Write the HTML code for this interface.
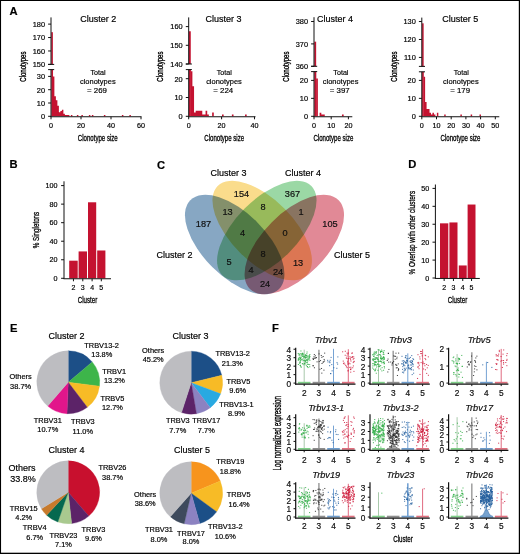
<!DOCTYPE html>
<html><head><meta charset="utf-8"><style>
html,body{margin:0;padding:0;background:#fff;}
svg{display:block;}
text{font-family:"Liberation Sans", sans-serif;stroke:currentColor;stroke-width:0.18px;paint-order:stroke;}
</style></head><body>
<svg width="520" height="554" viewBox="0 0 520 554">
<rect x="0" y="0" width="520" height="554" fill="#fff"/>
<rect x="51.30" y="69.60" width="1.73" height="46.70" fill="#c41230"/>
<rect x="51.30" y="32.17" width="1.58" height="32.23" fill="#c41230"/>
<path d="M52.88,116.30 V76.40 H54.38 V96.35 H55.88 V100.34 H57.38 V105.66 H58.88 V112.31 H60.38 V110.98 H61.88 V109.65 H63.38 V113.64 H64.88 V114.97 H66.38 V114.97 H67.88 V114.97 H69.38 V116.30 H70.88 V114.97 H72.38 V116.30 H73.88 V116.30 H75.38 V116.30 H76.88 V114.97 H78.38 V116.30 H79.88 V116.30 H81.38 V114.97 H82.88 V116.30 H84.38 V116.30 H85.88 V116.30 H87.38 V116.30 H88.88 V114.97 H90.38 V116.30 H91.88 V114.97 H93.38 V116.30 H94.88 V116.30 H96.38 V116.30 H97.88 V116.30 H99.38 V116.30 H100.88 V116.30 H102.38 V116.30 H103.88 V114.97 H105.38 V116.30 H106.88 V116.30 H108.38 V116.30 H109.88 V116.30 H111.38 V116.30 H112.88 V116.30 H114.38 V116.30 H115.88 V116.30 H117.38 V116.30 H118.88 V116.30 H120.38 V116.30 H121.88 V114.97 H123.38 V116.30 H124.88 V116.30 H126.38 V116.30 H127.88 V116.30 H129.38 V114.97 H130.88 V116.30 Z" fill="#c41230"/>
<line x1="51.00" y1="116.75" x2="51.00" y2="69.60" stroke="#111111" stroke-width="1.0"/>
<line x1="48.10" y1="69.60" x2="54.20" y2="69.60" stroke="#111111" stroke-width="1.0"/>
<line x1="51.00" y1="64.40" x2="51.00" y2="17.40" stroke="#111111" stroke-width="1.0"/>
<line x1="48.10" y1="64.40" x2="54.20" y2="64.40" stroke="#111111" stroke-width="1.0"/>
<line x1="50.50" y1="116.75" x2="141.50" y2="116.75" stroke="#111111" stroke-width="1.0"/>
<line x1="51.00" y1="116.70" x2="51.00" y2="119.30" stroke="#111111" stroke-width="1.0"/>
<text x="51.00" y="127.56" font-size="7.2" text-anchor="middle">0</text>
<line x1="81.00" y1="116.70" x2="81.00" y2="119.30" stroke="#111111" stroke-width="1.0"/>
<text x="81.00" y="127.56" font-size="7.2" text-anchor="middle">20</text>
<line x1="111.00" y1="116.70" x2="111.00" y2="119.30" stroke="#111111" stroke-width="1.0"/>
<text x="111.00" y="127.56" font-size="7.2" text-anchor="middle">40</text>
<line x1="141.00" y1="116.70" x2="141.00" y2="119.30" stroke="#111111" stroke-width="1.0"/>
<text x="141.00" y="127.56" font-size="7.2" text-anchor="middle">60</text>
<line x1="48.10" y1="116.30" x2="51.00" y2="116.30" stroke="#111111" stroke-width="1.0"/>
<text x="45.00" y="119.13" font-size="7.4" text-anchor="end">0</text>
<line x1="48.10" y1="103.00" x2="51.00" y2="103.00" stroke="#111111" stroke-width="1.0"/>
<text x="45.00" y="105.83" font-size="7.4" text-anchor="end">10</text>
<line x1="48.10" y1="89.70" x2="51.00" y2="89.70" stroke="#111111" stroke-width="1.0"/>
<text x="45.00" y="92.53" font-size="7.4" text-anchor="end">20</text>
<line x1="48.10" y1="76.40" x2="51.00" y2="76.40" stroke="#111111" stroke-width="1.0"/>
<text x="45.00" y="79.23" font-size="7.4" text-anchor="end">30</text>
<line x1="48.10" y1="64.40" x2="51.00" y2="64.40" stroke="#111111" stroke-width="1.0"/>
<text x="45.00" y="67.23" font-size="7.4" text-anchor="end">150</text>
<line x1="48.10" y1="50.97" x2="51.00" y2="50.97" stroke="#111111" stroke-width="1.0"/>
<text x="45.00" y="53.80" font-size="7.4" text-anchor="end">160</text>
<line x1="48.10" y1="37.54" x2="51.00" y2="37.54" stroke="#111111" stroke-width="1.0"/>
<text x="45.00" y="40.37" font-size="7.4" text-anchor="end">170</text>
<line x1="48.10" y1="24.11" x2="51.00" y2="24.11" stroke="#111111" stroke-width="1.0"/>
<text x="45.00" y="26.94" font-size="7.4" text-anchor="end">180</text>
<text x="98.30" y="22.20" font-size="9.0" text-anchor="middle">Cluster 2</text>
<text x="98.10" y="74.50" font-size="7.9" text-anchor="middle" textLength="15.10" lengthAdjust="spacingAndGlyphs">Total</text>
<text x="97.80" y="83.50" font-size="7.9" text-anchor="middle" textLength="35.70" lengthAdjust="spacingAndGlyphs">clonotypes</text>
<text x="97.00" y="93.10" font-size="7.9" text-anchor="middle" textLength="19.90" lengthAdjust="spacingAndGlyphs">= 269</text>
<text x="23.20" y="69.55" font-size="8.3" text-anchor="middle" textLength="30.10" lengthAdjust="spacingAndGlyphs" transform="rotate(-90 23.20 66.60)" style="stroke-width:0.35px">Clonotypes</text>
<text x="97.80" y="140.62" font-size="8.8" text-anchor="middle" textLength="39.90" lengthAdjust="spacingAndGlyphs" style="stroke-width:0.3px">Clonotype size</text>
<rect x="189.00" y="69.60" width="1.91" height="46.70" fill="#c41230"/>
<rect x="189.00" y="31.27" width="1.76" height="32.73" fill="#c41230"/>
<path d="M190.76,116.30 V71.18 H192.40 V86.22 H194.05 V112.54 H195.69 V110.66 H197.34 V110.66 H198.98 V110.66 H200.63 V110.66 H202.27 V114.42 H203.92 V114.42 H205.56 V110.66 H207.21 V114.42 H208.85 V116.30 H210.50 V116.30 H212.14 V112.54 H213.79 V116.30 H215.43 V116.30 H217.08 V116.30 H218.72 V116.30 H220.37 V116.30 H222.01 V114.42 H223.66 V116.30 H225.30 V116.30 H226.95 V116.30 H228.59 V116.30 H230.24 V116.30 H231.88 V114.42 H233.53 V116.30 H235.17 V116.30 H236.82 V116.30 H238.46 V116.30 H240.11 V116.30 H241.75 V116.30 H243.40 V116.30 H245.04 V114.42 H246.69 V116.30 Z" fill="#c41230"/>
<line x1="188.70" y1="116.75" x2="188.70" y2="69.60" stroke="#111111" stroke-width="1.0"/>
<line x1="185.80" y1="69.60" x2="191.90" y2="69.60" stroke="#111111" stroke-width="1.0"/>
<line x1="188.70" y1="64.00" x2="188.70" y2="17.40" stroke="#111111" stroke-width="1.0"/>
<line x1="185.80" y1="64.00" x2="191.90" y2="64.00" stroke="#111111" stroke-width="1.0"/>
<line x1="188.20" y1="116.75" x2="255.50" y2="116.75" stroke="#111111" stroke-width="1.0"/>
<line x1="188.70" y1="116.70" x2="188.70" y2="119.30" stroke="#111111" stroke-width="1.0"/>
<text x="188.70" y="127.56" font-size="7.2" text-anchor="middle">0</text>
<line x1="221.60" y1="116.70" x2="221.60" y2="119.30" stroke="#111111" stroke-width="1.0"/>
<text x="221.60" y="127.56" font-size="7.2" text-anchor="middle">20</text>
<line x1="254.50" y1="116.70" x2="254.50" y2="119.30" stroke="#111111" stroke-width="1.0"/>
<text x="254.50" y="127.56" font-size="7.2" text-anchor="middle">40</text>
<line x1="185.80" y1="116.30" x2="188.70" y2="116.30" stroke="#111111" stroke-width="1.0"/>
<text x="182.70" y="119.13" font-size="7.4" text-anchor="end">0</text>
<line x1="185.80" y1="97.50" x2="188.70" y2="97.50" stroke="#111111" stroke-width="1.0"/>
<text x="182.70" y="100.33" font-size="7.4" text-anchor="end">10</text>
<line x1="185.80" y1="78.70" x2="188.70" y2="78.70" stroke="#111111" stroke-width="1.0"/>
<text x="182.70" y="81.53" font-size="7.4" text-anchor="end">20</text>
<line x1="185.80" y1="64.00" x2="188.70" y2="64.00" stroke="#111111" stroke-width="1.0"/>
<text x="182.70" y="66.83" font-size="7.4" text-anchor="end">140</text>
<line x1="185.80" y1="45.30" x2="188.70" y2="45.30" stroke="#111111" stroke-width="1.0"/>
<text x="182.70" y="48.13" font-size="7.4" text-anchor="end">150</text>
<line x1="185.80" y1="26.60" x2="188.70" y2="26.60" stroke="#111111" stroke-width="1.0"/>
<text x="182.70" y="29.43" font-size="7.4" text-anchor="end">160</text>
<text x="223.60" y="22.20" font-size="9.0" text-anchor="middle">Cluster 3</text>
<text x="224.30" y="74.50" font-size="7.9" text-anchor="middle" textLength="15.10" lengthAdjust="spacingAndGlyphs">Total</text>
<text x="224.00" y="83.50" font-size="7.9" text-anchor="middle" textLength="35.70" lengthAdjust="spacingAndGlyphs">clonotypes</text>
<text x="223.20" y="93.10" font-size="7.9" text-anchor="middle" textLength="19.90" lengthAdjust="spacingAndGlyphs">= 224</text>
<text x="160.10" y="69.55" font-size="8.3" text-anchor="middle" textLength="30.10" lengthAdjust="spacingAndGlyphs" transform="rotate(-90 160.10 66.60)" style="stroke-width:0.35px">Clonotypes</text>
<text x="224.20" y="140.62" font-size="8.8" text-anchor="middle" textLength="39.90" lengthAdjust="spacingAndGlyphs" style="stroke-width:0.3px">Clonotype size</text>
<rect x="314.30" y="71.60" width="2.00" height="44.70" fill="#c41230"/>
<rect x="314.30" y="41.66" width="1.85" height="24.64" fill="#c41230"/>
<path d="M316.15,116.30 V78.60 H317.87 V116.30 H319.59 V112.71 H321.31 V114.50 H323.03 V114.50 H324.75 V116.30 H326.47 V116.30 H328.19 V116.30 H329.91 V116.30 H331.63 V116.30 H333.35 V116.30 H335.07 V116.30 H336.79 V116.30 H338.51 V116.30 H340.23 V116.30 H341.95 V114.50 H343.67 V116.30 Z" fill="#c41230"/>
<line x1="314.00" y1="116.75" x2="314.00" y2="71.60" stroke="#111111" stroke-width="1.0"/>
<line x1="311.10" y1="71.60" x2="317.20" y2="71.60" stroke="#111111" stroke-width="1.0"/>
<line x1="314.00" y1="66.30" x2="314.00" y2="17.20" stroke="#111111" stroke-width="1.0"/>
<line x1="311.10" y1="66.30" x2="317.20" y2="66.30" stroke="#111111" stroke-width="1.0"/>
<line x1="313.50" y1="116.75" x2="352.30" y2="116.75" stroke="#111111" stroke-width="1.0"/>
<line x1="314.00" y1="116.70" x2="314.00" y2="119.30" stroke="#111111" stroke-width="1.0"/>
<text x="314.00" y="127.56" font-size="7.2" text-anchor="middle">0</text>
<line x1="331.20" y1="116.70" x2="331.20" y2="119.30" stroke="#111111" stroke-width="1.0"/>
<text x="331.20" y="127.56" font-size="7.2" text-anchor="middle">10</text>
<line x1="348.40" y1="116.70" x2="348.40" y2="119.30" stroke="#111111" stroke-width="1.0"/>
<text x="348.40" y="127.56" font-size="7.2" text-anchor="middle">20</text>
<line x1="311.10" y1="116.30" x2="314.00" y2="116.30" stroke="#111111" stroke-width="1.0"/>
<text x="308.00" y="119.13" font-size="7.4" text-anchor="end">0</text>
<line x1="311.10" y1="98.35" x2="314.00" y2="98.35" stroke="#111111" stroke-width="1.0"/>
<text x="308.00" y="101.18" font-size="7.4" text-anchor="end">10</text>
<line x1="311.10" y1="80.40" x2="314.00" y2="80.40" stroke="#111111" stroke-width="1.0"/>
<text x="308.00" y="83.23" font-size="7.4" text-anchor="end">20</text>
<line x1="311.10" y1="66.30" x2="314.00" y2="66.30" stroke="#111111" stroke-width="1.0"/>
<text x="308.00" y="69.13" font-size="7.4" text-anchor="end">360</text>
<line x1="311.10" y1="43.90" x2="314.00" y2="43.90" stroke="#111111" stroke-width="1.0"/>
<text x="308.00" y="46.73" font-size="7.4" text-anchor="end">370</text>
<line x1="311.10" y1="21.50" x2="314.00" y2="21.50" stroke="#111111" stroke-width="1.0"/>
<text x="308.00" y="24.33" font-size="7.4" text-anchor="end">380</text>
<text x="334.90" y="22.20" font-size="9.0" text-anchor="middle">Cluster 4</text>
<text x="340.90" y="74.50" font-size="7.9" text-anchor="middle" textLength="15.10" lengthAdjust="spacingAndGlyphs">Total</text>
<text x="340.60" y="83.50" font-size="7.9" text-anchor="middle" textLength="35.70" lengthAdjust="spacingAndGlyphs">clonotypes</text>
<text x="339.80" y="93.10" font-size="7.9" text-anchor="middle" textLength="19.90" lengthAdjust="spacingAndGlyphs">= 397</text>
<text x="285.70" y="69.55" font-size="8.3" text-anchor="middle" textLength="30.10" lengthAdjust="spacingAndGlyphs" transform="rotate(-90 285.70 66.60)" style="stroke-width:0.35px">Clonotypes</text>
<text x="333.40" y="140.62" font-size="8.8" text-anchor="middle" textLength="39.90" lengthAdjust="spacingAndGlyphs" style="stroke-width:0.3px">Clonotype size</text>
<rect x="422.10" y="71.80" width="1.69" height="44.50" fill="#c41230"/>
<rect x="422.10" y="23.32" width="1.54" height="43.08" fill="#c41230"/>
<path d="M423.64,116.30 V76.81 H425.11 V101.94 H426.58 V109.12 H428.05 V109.12 H429.52 V112.71 H430.99 V114.50 H432.46 V112.71 H433.93 V114.50 H435.40 V116.30 H436.87 V112.71 H438.34 V116.30 H439.81 V116.30 H441.28 V116.30 H442.75 V116.30 H444.22 V114.50 H445.69 V116.30 H447.16 V116.30 H448.63 V116.30 H450.10 V116.30 H451.57 V116.30 H453.04 V116.30 H454.51 V116.30 H455.98 V116.30 H457.45 V116.30 H458.92 V116.30 H460.39 V114.50 H461.86 V116.30 H463.33 V116.30 H464.80 V116.30 H466.27 V116.30 H467.74 V116.30 H469.21 V116.30 H470.68 V114.50 H472.15 V116.30 H473.62 V116.30 H475.09 V116.30 H476.56 V116.30 H478.03 V116.30 H479.50 V114.50 H480.97 V116.30 Z" fill="#c41230"/>
<line x1="421.80" y1="116.75" x2="421.80" y2="71.80" stroke="#111111" stroke-width="1.0"/>
<line x1="418.90" y1="71.80" x2="425.00" y2="71.80" stroke="#111111" stroke-width="1.0"/>
<line x1="421.80" y1="66.40" x2="421.80" y2="17.60" stroke="#111111" stroke-width="1.0"/>
<line x1="418.90" y1="66.40" x2="425.00" y2="66.40" stroke="#111111" stroke-width="1.0"/>
<line x1="421.30" y1="116.75" x2="499.30" y2="116.75" stroke="#111111" stroke-width="1.0"/>
<line x1="421.80" y1="116.70" x2="421.80" y2="119.30" stroke="#111111" stroke-width="1.0"/>
<text x="421.80" y="127.56" font-size="7.2" text-anchor="middle">0</text>
<line x1="436.50" y1="116.70" x2="436.50" y2="119.30" stroke="#111111" stroke-width="1.0"/>
<text x="436.50" y="127.56" font-size="7.2" text-anchor="middle">10</text>
<line x1="451.20" y1="116.70" x2="451.20" y2="119.30" stroke="#111111" stroke-width="1.0"/>
<text x="451.20" y="127.56" font-size="7.2" text-anchor="middle">20</text>
<line x1="465.90" y1="116.70" x2="465.90" y2="119.30" stroke="#111111" stroke-width="1.0"/>
<text x="465.90" y="127.56" font-size="7.2" text-anchor="middle">30</text>
<line x1="480.60" y1="116.70" x2="480.60" y2="119.30" stroke="#111111" stroke-width="1.0"/>
<text x="480.60" y="127.56" font-size="7.2" text-anchor="middle">40</text>
<line x1="495.30" y1="116.70" x2="495.30" y2="119.30" stroke="#111111" stroke-width="1.0"/>
<text x="495.30" y="127.56" font-size="7.2" text-anchor="middle">50</text>
<line x1="418.90" y1="116.30" x2="421.80" y2="116.30" stroke="#111111" stroke-width="1.0"/>
<text x="415.80" y="119.13" font-size="7.4" text-anchor="end">0</text>
<line x1="418.90" y1="98.35" x2="421.80" y2="98.35" stroke="#111111" stroke-width="1.0"/>
<text x="415.80" y="101.18" font-size="7.4" text-anchor="end">10</text>
<line x1="418.90" y1="80.40" x2="421.80" y2="80.40" stroke="#111111" stroke-width="1.0"/>
<text x="415.80" y="83.23" font-size="7.4" text-anchor="end">20</text>
<line x1="418.90" y1="57.43" x2="421.80" y2="57.43" stroke="#111111" stroke-width="1.0"/>
<text x="415.80" y="60.25" font-size="7.4" text-anchor="end">110</text>
<line x1="418.90" y1="39.48" x2="421.80" y2="39.48" stroke="#111111" stroke-width="1.0"/>
<text x="415.80" y="42.30" font-size="7.4" text-anchor="end">120</text>
<line x1="418.90" y1="21.53" x2="421.80" y2="21.53" stroke="#111111" stroke-width="1.0"/>
<text x="415.80" y="24.35" font-size="7.4" text-anchor="end">130</text>
<text x="460.30" y="22.20" font-size="9.0" text-anchor="middle">Cluster 5</text>
<text x="461.20" y="74.50" font-size="7.9" text-anchor="middle" textLength="15.10" lengthAdjust="spacingAndGlyphs">Total</text>
<text x="460.90" y="83.50" font-size="7.9" text-anchor="middle" textLength="35.70" lengthAdjust="spacingAndGlyphs">clonotypes</text>
<text x="460.10" y="93.10" font-size="7.9" text-anchor="middle" textLength="19.90" lengthAdjust="spacingAndGlyphs">= 179</text>
<text x="394.10" y="69.55" font-size="8.3" text-anchor="middle" textLength="30.10" lengthAdjust="spacingAndGlyphs" transform="rotate(-90 394.10 66.60)" style="stroke-width:0.35px">Clonotypes</text>
<text x="460.50" y="140.62" font-size="8.8" text-anchor="middle" textLength="39.90" lengthAdjust="spacingAndGlyphs" style="stroke-width:0.3px">Clonotype size</text>
<text x="9.40" y="14.98" font-size="11.2" text-anchor="start" font-weight="bold" fill="#000">A</text>
<text x="9.50" y="168.48" font-size="11.2" text-anchor="start" font-weight="bold" fill="#000">B</text>
<text x="157.00" y="168.58" font-size="11.2" text-anchor="start" font-weight="bold" fill="#000">C</text>
<text x="408.30" y="168.48" font-size="11.2" text-anchor="start" font-weight="bold" fill="#000">D</text>
<text x="10.10" y="332.18" font-size="11.2" text-anchor="start" font-weight="bold" fill="#000">E</text>
<text x="272.10" y="331.98" font-size="11.2" text-anchor="start" font-weight="bold" fill="#000">F</text>
<rect x="69.20" y="260.69" width="8.50" height="17.61" fill="#c41230"/>
<rect x="78.60" y="251.42" width="8.40" height="26.88" fill="#c41230"/>
<rect x="88.00" y="202.29" width="8.20" height="76.01" fill="#c41230"/>
<rect x="97.20" y="250.49" width="8.20" height="27.81" fill="#c41230"/>
<line x1="64.00" y1="278.75" x2="64.00" y2="181.30" stroke="#111111" stroke-width="1.0"/>
<line x1="63.50" y1="278.75" x2="111.00" y2="278.75" stroke="#111111" stroke-width="1.0"/>
<line x1="61.10" y1="278.30" x2="64.00" y2="278.30" stroke="#111111" stroke-width="1.0"/>
<text x="57.60" y="280.86" font-size="7.2" text-anchor="end">0</text>
<line x1="61.10" y1="259.76" x2="64.00" y2="259.76" stroke="#111111" stroke-width="1.0"/>
<text x="57.60" y="262.32" font-size="7.2" text-anchor="end">20</text>
<line x1="61.10" y1="241.22" x2="64.00" y2="241.22" stroke="#111111" stroke-width="1.0"/>
<text x="57.60" y="243.78" font-size="7.2" text-anchor="end">40</text>
<line x1="61.10" y1="222.68" x2="64.00" y2="222.68" stroke="#111111" stroke-width="1.0"/>
<text x="57.60" y="225.24" font-size="7.2" text-anchor="end">60</text>
<line x1="61.10" y1="204.14" x2="64.00" y2="204.14" stroke="#111111" stroke-width="1.0"/>
<text x="57.60" y="206.70" font-size="7.2" text-anchor="end">80</text>
<line x1="61.10" y1="185.60" x2="64.00" y2="185.60" stroke="#111111" stroke-width="1.0"/>
<text x="57.60" y="188.16" font-size="7.2" text-anchor="end">100</text>
<line x1="73.45" y1="278.70" x2="73.45" y2="281.30" stroke="#111111" stroke-width="1.0"/>
<text x="73.45" y="290.19" font-size="7.0" text-anchor="middle">2</text>
<line x1="82.80" y1="278.70" x2="82.80" y2="281.30" stroke="#111111" stroke-width="1.0"/>
<text x="82.80" y="290.19" font-size="7.0" text-anchor="middle">3</text>
<line x1="92.10" y1="278.70" x2="92.10" y2="281.30" stroke="#111111" stroke-width="1.0"/>
<text x="92.10" y="290.19" font-size="7.0" text-anchor="middle">4</text>
<line x1="101.30" y1="278.70" x2="101.30" y2="281.30" stroke="#111111" stroke-width="1.0"/>
<text x="101.30" y="290.19" font-size="7.0" text-anchor="middle">5</text>
<text x="87.50" y="302.64" font-size="9.4" text-anchor="middle" textLength="19.60" lengthAdjust="spacingAndGlyphs" style="stroke-width:0.3px">Cluster</text>
<text x="36.25" y="233.19" font-size="9.0" text-anchor="middle" textLength="36.40" lengthAdjust="spacingAndGlyphs" transform="rotate(-90 36.25 230.00)" style="stroke-width:0.3px">% Singletons</text>
<rect x="440.00" y="223.34" width="8.30" height="54.66" fill="#c41230"/>
<rect x="449.40" y="222.45" width="8.10" height="55.55" fill="#c41230"/>
<rect x="458.80" y="265.46" width="7.90" height="12.54" fill="#c41230"/>
<rect x="467.60" y="204.53" width="7.90" height="73.47" fill="#c41230"/>
<line x1="435.40" y1="278.45" x2="435.40" y2="184.50" stroke="#111111" stroke-width="1.0"/>
<line x1="434.90" y1="278.45" x2="479.80" y2="278.45" stroke="#111111" stroke-width="1.0"/>
<line x1="432.50" y1="278.00" x2="435.40" y2="278.00" stroke="#111111" stroke-width="1.0"/>
<text x="429.20" y="280.56" font-size="7.2" text-anchor="end">0</text>
<line x1="432.50" y1="260.08" x2="435.40" y2="260.08" stroke="#111111" stroke-width="1.0"/>
<text x="429.20" y="262.64" font-size="7.2" text-anchor="end">10</text>
<line x1="432.50" y1="242.16" x2="435.40" y2="242.16" stroke="#111111" stroke-width="1.0"/>
<text x="429.20" y="244.72" font-size="7.2" text-anchor="end">20</text>
<line x1="432.50" y1="224.24" x2="435.40" y2="224.24" stroke="#111111" stroke-width="1.0"/>
<text x="429.20" y="226.80" font-size="7.2" text-anchor="end">30</text>
<line x1="432.50" y1="206.32" x2="435.40" y2="206.32" stroke="#111111" stroke-width="1.0"/>
<text x="429.20" y="208.88" font-size="7.2" text-anchor="end">40</text>
<line x1="432.50" y1="188.40" x2="435.40" y2="188.40" stroke="#111111" stroke-width="1.0"/>
<text x="429.20" y="190.96" font-size="7.2" text-anchor="end">50</text>
<line x1="444.15" y1="278.40" x2="444.15" y2="281.00" stroke="#111111" stroke-width="1.0"/>
<text x="444.15" y="290.29" font-size="7.0" text-anchor="middle">2</text>
<line x1="453.45" y1="278.40" x2="453.45" y2="281.00" stroke="#111111" stroke-width="1.0"/>
<text x="453.45" y="290.29" font-size="7.0" text-anchor="middle">3</text>
<line x1="462.75" y1="278.40" x2="462.75" y2="281.00" stroke="#111111" stroke-width="1.0"/>
<text x="462.75" y="290.29" font-size="7.0" text-anchor="middle">4</text>
<line x1="471.55" y1="278.40" x2="471.55" y2="281.00" stroke="#111111" stroke-width="1.0"/>
<text x="471.55" y="290.29" font-size="7.0" text-anchor="middle">5</text>
<text x="457.50" y="302.64" font-size="9.4" text-anchor="middle" textLength="19.60" lengthAdjust="spacingAndGlyphs" style="stroke-width:0.3px">Cluster</text>
<text x="411.40" y="235.84" font-size="9.0" text-anchor="middle" textLength="83.50" lengthAdjust="spacingAndGlyphs" transform="rotate(-90 411.40 232.65)" style="stroke-width:0.3px">% Overlap with other clusters</text>
<g style="isolation:isolate">
<ellipse cx="234.7" cy="244.6" rx="62.75" ry="31.76" fill="#87a7c3" transform="rotate(45 234.7 244.6)" style="mix-blend-mode:multiply"/>
<ellipse cx="262.2" cy="230.6" rx="63.0" ry="31.3" fill="#fadc8c" transform="rotate(45 262.2 230.6)" style="mix-blend-mode:multiply"/>
<ellipse cx="266.8" cy="230.6" rx="63.0" ry="31.3" fill="#9bd8a5" transform="rotate(-45 266.8 230.6)" style="mix-blend-mode:multiply"/>
<ellipse cx="294.3" cy="244.6" rx="62.75" ry="31.76" fill="#e18996" transform="rotate(-45 294.3 244.6)" style="mix-blend-mode:multiply"/>
</g>
<text x="241.50" y="197.27" font-size="9.2" text-anchor="middle" fill="#111">154</text>
<text x="292.50" y="197.27" font-size="9.2" text-anchor="middle" fill="#111">367</text>
<text x="227.50" y="214.77" font-size="9.2" text-anchor="middle" fill="#111">13</text>
<text x="263.00" y="209.77" font-size="9.2" text-anchor="middle" fill="#111">8</text>
<text x="301.00" y="214.77" font-size="9.2" text-anchor="middle" fill="#111">1</text>
<text x="203.50" y="227.27" font-size="9.2" text-anchor="middle" fill="#111">187</text>
<text x="330.00" y="227.27" font-size="9.2" text-anchor="middle" fill="#111">105</text>
<text x="242.50" y="235.77" font-size="9.2" text-anchor="middle" fill="#111">4</text>
<text x="285.00" y="235.77" font-size="9.2" text-anchor="middle" fill="#111">0</text>
<text x="263.00" y="257.27" font-size="9.2" text-anchor="middle" fill="#111">8</text>
<text x="229.00" y="264.77" font-size="9.2" text-anchor="middle" fill="#111">5</text>
<text x="298.00" y="266.27" font-size="9.2" text-anchor="middle" fill="#111">13</text>
<text x="251.00" y="273.27" font-size="9.2" text-anchor="middle" fill="#111">4</text>
<text x="278.00" y="274.77" font-size="9.2" text-anchor="middle" fill="#111">24</text>
<text x="265.00" y="286.77" font-size="9.2" text-anchor="middle" fill="#111">24</text>
<text x="228.50" y="175.69" font-size="9.0" text-anchor="middle">Cluster 3</text>
<text x="303.00" y="175.69" font-size="9.0" text-anchor="middle">Cluster 4</text>
<text x="174.50" y="258.19" font-size="9.0" text-anchor="middle">Cluster 2</text>
<text x="352.00" y="258.19" font-size="9.0" text-anchor="middle">Cluster 5</text>
<path d="M68.25,382.25 L68.25,350.80 A31.45,31.45 0 0 1 92.21,361.88 Z" fill="#1c4f87" stroke="#1c4f87" stroke-width="0.35" stroke-linejoin="round"/>
<path d="M68.25,382.25 L92.21,361.88 A31.45,31.45 0 0 1 99.46,386.14 Z" fill="#3db54a" stroke="#3db54a" stroke-width="0.35" stroke-linejoin="round"/>
<path d="M68.25,382.25 L99.46,386.14 A31.45,31.45 0 0 1 87.27,407.29 Z" fill="#f7bb26" stroke="#f7bb26" stroke-width="0.35" stroke-linejoin="round"/>
<path d="M68.25,382.25 L87.27,407.29 A31.45,31.45 0 0 1 66.97,413.67 Z" fill="#5c2368" stroke="#5c2368" stroke-width="0.35" stroke-linejoin="round"/>
<path d="M68.25,382.25 L66.97,413.67 A31.45,31.45 0 0 1 47.69,406.05 Z" fill="#e2168b" stroke="#e2168b" stroke-width="0.35" stroke-linejoin="round"/>
<path d="M68.25,382.25 L47.69,406.05 A31.45,31.45 0 0 1 68.25,350.80 Z" fill="#bdbdc1" stroke="#bdbdc1" stroke-width="0.35" stroke-linejoin="round"/>
<path d="M191.20,382.70 L191.20,351.25 A31.45,31.45 0 0 1 221.76,375.29 Z" fill="#1c4f87" stroke="#1c4f87" stroke-width="0.35" stroke-linejoin="round"/>
<path d="M191.20,382.70 L221.76,375.29 A31.45,31.45 0 0 1 220.60,393.87 Z" fill="#f7bb26" stroke="#f7bb26" stroke-width="0.35" stroke-linejoin="round"/>
<path d="M191.20,382.70 L220.60,393.87 A31.45,31.45 0 0 1 210.25,407.72 Z" fill="#29a9e1" stroke="#29a9e1" stroke-width="0.35" stroke-linejoin="round"/>
<path d="M191.20,382.70 L210.25,407.72 A31.45,31.45 0 0 1 196.49,413.70 Z" fill="#8c82c1" stroke="#8c82c1" stroke-width="0.35" stroke-linejoin="round"/>
<path d="M191.20,382.70 L196.49,413.70 A31.45,31.45 0 0 1 181.52,412.62 Z" fill="#5c2368" stroke="#5c2368" stroke-width="0.35" stroke-linejoin="round"/>
<path d="M191.20,382.70 L181.52,412.62 A31.45,31.45 0 0 1 191.20,351.25 Z" fill="#bdbdc1" stroke="#bdbdc1" stroke-width="0.35" stroke-linejoin="round"/>
<path d="M68.20,492.30 L68.20,460.85 A31.45,31.45 0 0 1 88.76,516.10 Z" fill="#c8102e" stroke="#c8102e" stroke-width="0.35" stroke-linejoin="round"/>
<path d="M68.20,492.30 L88.76,516.10 A31.45,31.45 0 0 1 71.65,523.56 Z" fill="#5c2368" stroke="#5c2368" stroke-width="0.35" stroke-linejoin="round"/>
<path d="M68.20,492.30 L71.65,523.56 A31.45,31.45 0 0 1 57.84,521.99 Z" fill="#a9c98f" stroke="#a9c98f" stroke-width="0.35" stroke-linejoin="round"/>
<path d="M68.20,492.30 L57.84,521.99 A31.45,31.45 0 0 1 46.62,515.17 Z" fill="#05694f" stroke="#05694f" stroke-width="0.35" stroke-linejoin="round"/>
<path d="M68.20,492.30 L46.62,515.17 A31.45,31.45 0 0 1 41.40,508.76 Z" fill="#c77a2c" stroke="#c77a2c" stroke-width="0.35" stroke-linejoin="round"/>
<path d="M68.20,492.30 L41.40,508.76 A31.45,31.45 0 0 1 68.20,460.85 Z" fill="#bdbdc1" stroke="#bdbdc1" stroke-width="0.35" stroke-linejoin="round"/>
<path d="M191.20,493.20 L191.20,461.75 A31.45,31.45 0 0 1 220.24,481.12 Z" fill="#f7941d" stroke="#f7941d" stroke-width="0.35" stroke-linejoin="round"/>
<path d="M191.20,493.20 L220.24,481.12 A31.45,31.45 0 0 1 216.57,511.78 Z" fill="#f7bb26" stroke="#f7bb26" stroke-width="0.35" stroke-linejoin="round"/>
<path d="M191.20,493.20 L216.57,511.78 A31.45,31.45 0 0 1 199.75,523.47 Z" fill="#1c4f87" stroke="#1c4f87" stroke-width="0.35" stroke-linejoin="round"/>
<path d="M191.20,493.20 L199.75,523.47 A31.45,31.45 0 0 1 184.17,523.86 Z" fill="#8c82c1" stroke="#8c82c1" stroke-width="0.35" stroke-linejoin="round"/>
<path d="M191.20,493.20 L184.17,523.86 A31.45,31.45 0 0 1 170.32,516.72 Z" fill="#3e4a5d" stroke="#3e4a5d" stroke-width="0.35" stroke-linejoin="round"/>
<path d="M191.20,493.20 L170.32,516.72 A31.45,31.45 0 0 1 191.20,461.75 Z" fill="#bdbdc1" stroke="#bdbdc1" stroke-width="0.35" stroke-linejoin="round"/>
<text x="66.40" y="339.30" font-size="9.0" text-anchor="middle">Cluster 2</text>
<text x="101.60" y="347.63" font-size="7.4" text-anchor="middle">TRBV13-2</text>
<text x="101.80" y="357.03" font-size="7.4" text-anchor="middle">13.8%</text>
<text x="114.10" y="374.03" font-size="7.4" text-anchor="middle">TRBV1</text>
<text x="114.40" y="383.13" font-size="7.4" text-anchor="middle">13.2%</text>
<text x="112.40" y="400.63" font-size="7.4" text-anchor="middle">TRBV5</text>
<text x="112.40" y="410.13" font-size="7.4" text-anchor="middle">12.7%</text>
<text x="82.80" y="424.33" font-size="7.4" text-anchor="middle">TRBV3</text>
<text x="82.80" y="434.33" font-size="7.4" text-anchor="middle">11.0%</text>
<text x="47.80" y="423.03" font-size="7.4" text-anchor="middle">TRBV31</text>
<text x="47.80" y="432.13" font-size="7.4" text-anchor="middle">10.7%</text>
<text x="20.60" y="379.43" font-size="7.4" text-anchor="middle">Others</text>
<text x="20.60" y="388.83" font-size="7.4" text-anchor="middle">38.7%</text>
<text x="190.50" y="339.19" font-size="9.0" text-anchor="middle">Cluster 3</text>
<text x="153.20" y="353.03" font-size="7.4" text-anchor="middle">Others</text>
<text x="153.20" y="362.43" font-size="7.4" text-anchor="middle">45.2%</text>
<text x="232.70" y="356.23" font-size="7.4" text-anchor="middle">TRBV13-2</text>
<text x="232.30" y="365.93" font-size="7.4" text-anchor="middle">21.3%</text>
<text x="238.40" y="384.03" font-size="7.4" text-anchor="middle">TRBV5</text>
<text x="237.70" y="392.83" font-size="7.4" text-anchor="middle">9.6%</text>
<text x="236.40" y="407.43" font-size="7.4" text-anchor="middle">TRBV13-1</text>
<text x="236.40" y="416.33" font-size="7.4" text-anchor="middle">8.9%</text>
<text x="177.80" y="423.03" font-size="7.4" text-anchor="middle">TRBV3</text>
<text x="177.80" y="433.03" font-size="7.4" text-anchor="middle">7.7%</text>
<text x="206.30" y="423.03" font-size="7.4" text-anchor="middle">TRBV17</text>
<text x="206.30" y="433.03" font-size="7.4" text-anchor="middle">7.7%</text>
<text x="66.40" y="452.89" font-size="9.0" text-anchor="middle">Cluster 4</text>
<text x="22.00" y="470.89" font-size="9.0" text-anchor="middle">Others</text>
<text x="23.10" y="481.69" font-size="9.0" text-anchor="middle">33.8%</text>
<text x="112.40" y="470.33" font-size="7.4" text-anchor="middle">TRBV26</text>
<text x="112.50" y="479.73" font-size="7.4" text-anchor="middle">38.7%</text>
<text x="93.50" y="531.63" font-size="7.4" text-anchor="middle">TRBV3</text>
<text x="93.50" y="541.13" font-size="7.4" text-anchor="middle">9.6%</text>
<text x="63.40" y="537.63" font-size="7.4" text-anchor="middle">TRBV23</text>
<text x="63.40" y="547.03" font-size="7.4" text-anchor="middle">7.1%</text>
<text x="34.70" y="529.63" font-size="7.4" text-anchor="middle">TRBV4</text>
<text x="34.70" y="539.83" font-size="7.4" text-anchor="middle">6.7%</text>
<text x="23.70" y="511.23" font-size="7.4" text-anchor="middle">TRBV15</text>
<text x="23.70" y="520.13" font-size="7.4" text-anchor="middle">4.2%</text>
<text x="192.00" y="452.89" font-size="9.0" text-anchor="middle">Cluster 5</text>
<text x="230.30" y="464.13" font-size="7.4" text-anchor="middle">TRBV19</text>
<text x="230.30" y="473.83" font-size="7.4" text-anchor="middle">18.8%</text>
<text x="238.70" y="497.23" font-size="7.4" text-anchor="middle">TRBV5</text>
<text x="239.10" y="506.63" font-size="7.4" text-anchor="middle">16.4%</text>
<text x="225.30" y="529.03" font-size="7.4" text-anchor="middle">TRBV13-2</text>
<text x="225.30" y="539.03" font-size="7.4" text-anchor="middle">10.6%</text>
<text x="191.00" y="535.73" font-size="7.4" text-anchor="middle">TRBV17</text>
<text x="191.00" y="544.33" font-size="7.4" text-anchor="middle">8.0%</text>
<text x="159.00" y="532.23" font-size="7.4" text-anchor="middle">TRBV31</text>
<text x="159.00" y="541.63" font-size="7.4" text-anchor="middle">8.0%</text>
<text x="145.20" y="497.23" font-size="7.4" text-anchor="middle">Others</text>
<text x="145.20" y="506.13" font-size="7.4" text-anchor="middle">38.6%</text>
<text x="326.20" y="342.77" font-size="9.2" text-anchor="middle" font-style="italic" fill="#111">Trbv1</text>
<line x1="304.20" y1="383.10" x2="304.20" y2="349.64" stroke="#a9c9ab" stroke-width="1.0"/>
<rect x="297.90" y="381.80" width="12.60" height="1.80" fill="#7fcf88"/>
<rect x="306.95" y="355.67" width="1.1" height="1.0" fill="#2fae45" fill-opacity="0.85"/>
<rect x="306.17" y="354.81" width="1.1" height="1.0" fill="#2fae45" fill-opacity="0.85"/>
<rect x="307.30" y="359.02" width="1.1" height="1.0" fill="#2fae45" fill-opacity="0.85"/>
<rect x="304.09" y="363.00" width="1.1" height="1.0" fill="#2fae45" fill-opacity="0.85"/>
<rect x="298.27" y="354.42" width="1.1" height="1.0" fill="#2fae45" fill-opacity="0.85"/>
<rect x="308.90" y="356.26" width="1.1" height="1.0" fill="#2fae45" fill-opacity="0.85"/>
<rect x="301.41" y="354.89" width="1.1" height="1.0" fill="#2fae45" fill-opacity="0.85"/>
<rect x="306.92" y="359.76" width="1.1" height="1.0" fill="#2fae45" fill-opacity="0.85"/>
<rect x="299.96" y="357.75" width="1.1" height="1.0" fill="#2fae45" fill-opacity="0.85"/>
<rect x="301.86" y="355.97" width="1.1" height="1.0" fill="#2fae45" fill-opacity="0.85"/>
<rect x="300.23" y="366.15" width="1.1" height="1.0" fill="#2fae45" fill-opacity="0.85"/>
<rect x="309.17" y="366.27" width="1.1" height="1.0" fill="#2fae45" fill-opacity="0.85"/>
<rect x="307.52" y="367.08" width="1.1" height="1.0" fill="#2fae45" fill-opacity="0.85"/>
<rect x="299.63" y="361.62" width="1.1" height="1.0" fill="#2fae45" fill-opacity="0.85"/>
<rect x="297.77" y="359.81" width="1.1" height="1.0" fill="#2fae45" fill-opacity="0.85"/>
<rect x="302.45" y="360.26" width="1.1" height="1.0" fill="#2fae45" fill-opacity="0.85"/>
<rect x="300.01" y="357.71" width="1.1" height="1.0" fill="#2fae45" fill-opacity="0.85"/>
<rect x="307.79" y="363.92" width="1.1" height="1.0" fill="#2fae45" fill-opacity="0.85"/>
<rect x="303.08" y="355.84" width="1.1" height="1.0" fill="#2fae45" fill-opacity="0.85"/>
<rect x="305.35" y="360.12" width="1.1" height="1.0" fill="#2fae45" fill-opacity="0.85"/>
<rect x="304.35" y="356.71" width="1.1" height="1.0" fill="#2fae45" fill-opacity="0.85"/>
<rect x="309.32" y="359.78" width="1.1" height="1.0" fill="#2fae45" fill-opacity="0.85"/>
<rect x="307.00" y="363.72" width="1.1" height="1.0" fill="#2fae45" fill-opacity="0.85"/>
<rect x="303.79" y="362.77" width="1.1" height="1.0" fill="#2fae45" fill-opacity="0.85"/>
<rect x="304.04" y="359.91" width="1.1" height="1.0" fill="#2fae45" fill-opacity="0.85"/>
<rect x="301.82" y="353.03" width="1.1" height="1.0" fill="#2fae45" fill-opacity="0.85"/>
<rect x="303.50" y="356.06" width="1.1" height="1.0" fill="#2fae45" fill-opacity="0.85"/>
<rect x="306.84" y="361.70" width="1.1" height="1.0" fill="#2fae45" fill-opacity="0.85"/>
<rect x="305.52" y="355.03" width="1.1" height="1.0" fill="#2fae45" fill-opacity="0.85"/>
<rect x="300.73" y="366.71" width="1.1" height="1.0" fill="#2fae45" fill-opacity="0.85"/>
<rect x="306.28" y="353.18" width="1.1" height="1.0" fill="#2fae45" fill-opacity="0.85"/>
<rect x="306.90" y="366.11" width="1.1" height="1.0" fill="#2fae45" fill-opacity="0.85"/>
<rect x="304.69" y="363.43" width="1.1" height="1.0" fill="#2fae45" fill-opacity="0.85"/>
<rect x="299.47" y="358.93" width="1.1" height="1.0" fill="#2fae45" fill-opacity="0.85"/>
<rect x="299.68" y="362.29" width="1.1" height="1.0" fill="#2fae45" fill-opacity="0.85"/>
<rect x="306.75" y="366.03" width="1.1" height="1.0" fill="#2fae45" fill-opacity="0.85"/>
<rect x="298.31" y="359.10" width="1.1" height="1.0" fill="#2fae45" fill-opacity="0.85"/>
<rect x="304.84" y="360.58" width="1.1" height="1.0" fill="#2fae45" fill-opacity="0.85"/>
<rect x="305.15" y="357.81" width="1.1" height="1.0" fill="#2fae45" fill-opacity="0.85"/>
<rect x="305.51" y="354.93" width="1.1" height="1.0" fill="#2fae45" fill-opacity="0.85"/>
<rect x="301.70" y="358.55" width="1.1" height="1.0" fill="#2fae45" fill-opacity="0.85"/>
<rect x="297.85" y="364.00" width="1.1" height="1.0" fill="#2fae45" fill-opacity="0.85"/>
<rect x="304.00" y="356.42" width="1.1" height="1.0" fill="#2fae45" fill-opacity="0.85"/>
<rect x="306.34" y="356.69" width="1.1" height="1.0" fill="#2fae45" fill-opacity="0.85"/>
<rect x="308.94" y="357.44" width="1.1" height="1.0" fill="#2fae45" fill-opacity="0.85"/>
<rect x="302.51" y="354.44" width="1.1" height="1.0" fill="#2fae45" fill-opacity="0.85"/>
<rect x="305.62" y="359.86" width="1.1" height="1.0" fill="#2fae45" fill-opacity="0.85"/>
<rect x="303.42" y="364.23" width="1.1" height="1.0" fill="#2fae45" fill-opacity="0.85"/>
<rect x="299.63" y="364.83" width="1.1" height="1.0" fill="#2fae45" fill-opacity="0.85"/>
<rect x="307.29" y="360.35" width="1.1" height="1.0" fill="#2fae45" fill-opacity="0.85"/>
<rect x="300.08" y="357.59" width="1.1" height="1.0" fill="#2fae45" fill-opacity="0.85"/>
<rect x="300.69" y="359.45" width="1.1" height="1.0" fill="#2fae45" fill-opacity="0.85"/>
<rect x="305.40" y="356.58" width="1.1" height="1.0" fill="#2fae45" fill-opacity="0.85"/>
<rect x="299.18" y="357.21" width="1.1" height="1.0" fill="#2fae45" fill-opacity="0.85"/>
<rect x="302.52" y="354.34" width="1.1" height="1.0" fill="#2fae45" fill-opacity="0.85"/>
<rect x="301.82" y="363.16" width="1.1" height="1.0" fill="#2fae45" fill-opacity="0.85"/>
<rect x="303.15" y="359.72" width="1.1" height="1.0" fill="#2fae45" fill-opacity="0.85"/>
<rect x="300.71" y="356.60" width="1.1" height="1.0" fill="#2fae45" fill-opacity="0.85"/>
<rect x="299.44" y="353.27" width="1.1" height="1.0" fill="#2fae45" fill-opacity="0.85"/>
<rect x="308.86" y="357.39" width="1.1" height="1.0" fill="#2fae45" fill-opacity="0.85"/>
<rect x="304.87" y="354.29" width="1.1" height="1.0" fill="#2fae45" fill-opacity="0.85"/>
<rect x="300.83" y="354.26" width="1.1" height="1.0" fill="#2fae45" fill-opacity="0.85"/>
<rect x="306.23" y="359.03" width="1.1" height="1.0" fill="#2fae45" fill-opacity="0.85"/>
<rect x="302.39" y="353.04" width="1.1" height="1.0" fill="#2fae45" fill-opacity="0.85"/>
<rect x="301.35" y="358.96" width="1.1" height="1.0" fill="#2fae45" fill-opacity="0.85"/>
<rect x="308.94" y="355.17" width="1.1" height="1.0" fill="#2fae45" fill-opacity="0.85"/>
<rect x="300.48" y="353.10" width="1.1" height="1.0" fill="#2fae45" fill-opacity="0.85"/>
<rect x="297.82" y="358.78" width="1.1" height="1.0" fill="#2fae45" fill-opacity="0.85"/>
<rect x="305.41" y="355.39" width="1.1" height="1.0" fill="#2fae45" fill-opacity="0.85"/>
<rect x="305.22" y="356.79" width="1.1" height="1.0" fill="#2fae45" fill-opacity="0.85"/>
<rect x="301.93" y="353.76" width="1.1" height="1.0" fill="#2fae45" fill-opacity="0.85"/>
<rect x="305.79" y="364.77" width="1.1" height="1.0" fill="#2fae45" fill-opacity="0.85"/>
<rect x="299.91" y="364.93" width="1.1" height="1.0" fill="#2fae45" fill-opacity="0.85"/>
<rect x="309.42" y="356.17" width="1.1" height="1.0" fill="#2fae45" fill-opacity="0.85"/>
<rect x="301.93" y="352.70" width="1.1" height="1.0" fill="#2fae45" fill-opacity="0.85"/>
<rect x="307.31" y="357.67" width="1.1" height="1.0" fill="#2fae45" fill-opacity="0.85"/>
<rect x="297.74" y="352.99" width="1.1" height="1.0" fill="#2fae45" fill-opacity="0.85"/>
<rect x="306.52" y="351.51" width="1.1" height="1.0" fill="#2fae45" fill-opacity="0.85"/>
<rect x="299.79" y="359.96" width="1.1" height="1.0" fill="#2fae45" fill-opacity="0.85"/>
<rect x="302.29" y="363.34" width="1.1" height="1.0" fill="#2fae45" fill-opacity="0.85"/>
<rect x="299.63" y="361.28" width="1.1" height="1.0" fill="#2fae45" fill-opacity="0.85"/>
<rect x="307.81" y="357.55" width="1.1" height="1.0" fill="#2fae45" fill-opacity="0.85"/>
<rect x="305.21" y="361.71" width="1.1" height="1.0" fill="#2fae45" fill-opacity="0.85"/>
<rect x="305.30" y="359.54" width="1.1" height="1.0" fill="#2fae45" fill-opacity="0.85"/>
<rect x="304.71" y="354.83" width="1.1" height="1.0" fill="#2fae45" fill-opacity="0.85"/>
<rect x="299.03" y="354.27" width="1.1" height="1.0" fill="#2fae45" fill-opacity="0.85"/>
<rect x="304.65" y="361.16" width="1.1" height="1.0" fill="#2fae45" fill-opacity="0.85"/>
<rect x="300.38" y="350.49" width="1.1" height="1.0" fill="#2fae45" fill-opacity="0.85"/>
<rect x="306.20" y="362.19" width="1.1" height="1.0" fill="#2fae45" fill-opacity="0.85"/>
<rect x="308.03" y="355.60" width="1.1" height="1.0" fill="#2fae45" fill-opacity="0.85"/>
<rect x="303.00" y="357.39" width="1.1" height="1.0" fill="#2fae45" fill-opacity="0.85"/>
<rect x="297.94" y="357.83" width="1.1" height="1.0" fill="#2fae45" fill-opacity="0.85"/>
<rect x="298.76" y="357.38" width="1.1" height="1.0" fill="#2fae45" fill-opacity="0.85"/>
<rect x="305.20" y="356.86" width="1.1" height="1.0" fill="#2fae45" fill-opacity="0.85"/>
<rect x="309.29" y="353.99" width="1.1" height="1.0" fill="#2fae45" fill-opacity="0.85"/>
<rect x="299.39" y="355.42" width="1.1" height="1.0" fill="#2fae45" fill-opacity="0.85"/>
<rect x="299.74" y="358.19" width="1.1" height="1.0" fill="#2fae45" fill-opacity="0.85"/>
<rect x="309.10" y="364.11" width="1.1" height="1.0" fill="#2fae45" fill-opacity="0.85"/>
<rect x="308.36" y="358.86" width="1.1" height="1.0" fill="#2fae45" fill-opacity="0.85"/>
<rect x="298.95" y="362.63" width="1.1" height="1.0" fill="#2fae45" fill-opacity="0.85"/>
<line x1="318.90" y1="383.10" x2="318.90" y2="349.64" stroke="#a4a4a4" stroke-width="1.6"/>
<rect x="312.60" y="381.80" width="12.60" height="1.80" fill="#8e8e8e"/>
<rect x="313.79" y="354.06" width="1.1" height="1.0" fill="#262626" fill-opacity="0.85"/>
<rect x="323.38" y="369.64" width="1.1" height="1.0" fill="#262626" fill-opacity="0.85"/>
<rect x="315.78" y="356.99" width="1.1" height="1.0" fill="#262626" fill-opacity="0.85"/>
<rect x="321.26" y="372.63" width="1.1" height="1.0" fill="#262626" fill-opacity="0.85"/>
<rect x="312.82" y="358.76" width="1.1" height="1.0" fill="#262626" fill-opacity="0.85"/>
<rect x="312.57" y="365.17" width="1.1" height="1.0" fill="#262626" fill-opacity="0.85"/>
<rect x="313.90" y="367.25" width="1.1" height="1.0" fill="#262626" fill-opacity="0.85"/>
<rect x="319.97" y="360.09" width="1.1" height="1.0" fill="#262626" fill-opacity="0.85"/>
<rect x="318.53" y="353.38" width="1.1" height="1.0" fill="#262626" fill-opacity="0.85"/>
<rect x="314.84" y="357.61" width="1.1" height="1.0" fill="#262626" fill-opacity="0.85"/>
<rect x="322.63" y="356.01" width="1.1" height="1.0" fill="#262626" fill-opacity="0.85"/>
<rect x="318.70" y="361.01" width="1.1" height="1.0" fill="#262626" fill-opacity="0.85"/>
<rect x="323.96" y="360.54" width="1.1" height="1.0" fill="#262626" fill-opacity="0.85"/>
<rect x="312.87" y="358.81" width="1.1" height="1.0" fill="#262626" fill-opacity="0.85"/>
<rect x="319.34" y="368.78" width="1.1" height="1.0" fill="#262626" fill-opacity="0.85"/>
<rect x="312.53" y="357.89" width="1.1" height="1.0" fill="#262626" fill-opacity="0.85"/>
<rect x="313.84" y="357.70" width="1.1" height="1.0" fill="#262626" fill-opacity="0.85"/>
<rect x="322.98" y="361.35" width="1.1" height="1.0" fill="#262626" fill-opacity="0.85"/>
<rect x="320.75" y="354.96" width="1.1" height="1.0" fill="#262626" fill-opacity="0.85"/>
<rect x="313.46" y="356.24" width="1.1" height="1.0" fill="#262626" fill-opacity="0.85"/>
<rect x="316.52" y="361.34" width="1.1" height="1.0" fill="#262626" fill-opacity="0.85"/>
<rect x="323.62" y="358.95" width="1.1" height="1.0" fill="#262626" fill-opacity="0.85"/>
<rect x="320.95" y="367.98" width="1.1" height="1.0" fill="#262626" fill-opacity="0.85"/>
<rect x="314.84" y="355.29" width="1.1" height="1.0" fill="#262626" fill-opacity="0.85"/>
<rect x="315.61" y="357.24" width="1.1" height="1.0" fill="#262626" fill-opacity="0.85"/>
<rect x="321.48" y="363.00" width="1.1" height="1.0" fill="#262626" fill-opacity="0.85"/>
<rect x="312.59" y="365.34" width="1.1" height="1.0" fill="#262626" fill-opacity="0.85"/>
<rect x="321.31" y="356.82" width="1.1" height="1.0" fill="#262626" fill-opacity="0.85"/>
<rect x="322.53" y="361.69" width="1.1" height="1.0" fill="#262626" fill-opacity="0.85"/>
<rect x="324.10" y="352.63" width="1.1" height="1.0" fill="#262626" fill-opacity="0.85"/>
<line x1="333.50" y1="383.10" x2="333.50" y2="348.80" stroke="#76a3d4" stroke-width="1.0"/>
<rect x="327.20" y="381.80" width="12.60" height="1.80" fill="#6e9ccb"/>
<rect x="327.09" y="359.83" width="1.1" height="1.0" fill="#245f9e" fill-opacity="0.85"/>
<rect x="331.58" y="370.34" width="1.1" height="1.0" fill="#245f9e" fill-opacity="0.85"/>
<rect x="329.33" y="362.18" width="1.1" height="1.0" fill="#245f9e" fill-opacity="0.85"/>
<rect x="329.61" y="359.78" width="1.1" height="1.0" fill="#245f9e" fill-opacity="0.85"/>
<rect x="330.53" y="356.89" width="1.1" height="1.0" fill="#245f9e" fill-opacity="0.85"/>
<rect x="330.12" y="373.08" width="1.1" height="1.0" fill="#245f9e" fill-opacity="0.85"/>
<rect x="337.28" y="356.41" width="1.1" height="1.0" fill="#245f9e" fill-opacity="0.85"/>
<rect x="329.11" y="361.29" width="1.1" height="1.0" fill="#245f9e" fill-opacity="0.85"/>
<rect x="331.23" y="364.09" width="1.1" height="1.0" fill="#245f9e" fill-opacity="0.85"/>
<rect x="329.03" y="365.19" width="1.1" height="1.0" fill="#245f9e" fill-opacity="0.85"/>
<rect x="336.29" y="367.78" width="1.1" height="1.0" fill="#245f9e" fill-opacity="0.85"/>
<rect x="333.22" y="367.22" width="1.1" height="1.0" fill="#245f9e" fill-opacity="0.85"/>
<rect x="337.06" y="363.63" width="1.1" height="1.0" fill="#245f9e" fill-opacity="0.85"/>
<rect x="327.47" y="361.42" width="1.1" height="1.0" fill="#245f9e" fill-opacity="0.85"/>
<rect x="336.49" y="362.17" width="1.1" height="1.0" fill="#245f9e" fill-opacity="0.85"/>
<rect x="330.10" y="373.14" width="1.1" height="1.0" fill="#245f9e" fill-opacity="0.85"/>
<line x1="348.30" y1="383.10" x2="348.30" y2="349.22" stroke="#e06a80" stroke-width="1.0"/>
<rect x="342.00" y="381.80" width="12.60" height="1.80" fill="#e0707f"/>
<rect x="350.45" y="368.36" width="1.1" height="1.0" fill="#cf1d3d" fill-opacity="0.85"/>
<rect x="345.26" y="364.98" width="1.1" height="1.0" fill="#cf1d3d" fill-opacity="0.85"/>
<rect x="352.82" y="365.43" width="1.1" height="1.0" fill="#cf1d3d" fill-opacity="0.85"/>
<rect x="350.66" y="357.03" width="1.1" height="1.0" fill="#cf1d3d" fill-opacity="0.85"/>
<rect x="349.21" y="366.88" width="1.1" height="1.0" fill="#cf1d3d" fill-opacity="0.85"/>
<rect x="344.76" y="350.76" width="1.1" height="1.0" fill="#cf1d3d" fill-opacity="0.85"/>
<rect x="344.34" y="363.70" width="1.1" height="1.0" fill="#cf1d3d" fill-opacity="0.85"/>
<rect x="342.72" y="360.61" width="1.1" height="1.0" fill="#cf1d3d" fill-opacity="0.85"/>
<rect x="351.76" y="352.44" width="1.1" height="1.0" fill="#cf1d3d" fill-opacity="0.85"/>
<rect x="351.82" y="356.08" width="1.1" height="1.0" fill="#cf1d3d" fill-opacity="0.85"/>
<rect x="345.82" y="357.46" width="1.1" height="1.0" fill="#cf1d3d" fill-opacity="0.85"/>
<rect x="347.51" y="363.91" width="1.1" height="1.0" fill="#cf1d3d" fill-opacity="0.85"/>
<rect x="350.07" y="369.13" width="1.1" height="1.0" fill="#cf1d3d" fill-opacity="0.85"/>
<rect x="347.91" y="352.54" width="1.1" height="1.0" fill="#cf1d3d" fill-opacity="0.85"/>
<rect x="352.14" y="367.25" width="1.1" height="1.0" fill="#cf1d3d" fill-opacity="0.85"/>
<rect x="353.55" y="360.79" width="1.1" height="1.0" fill="#cf1d3d" fill-opacity="0.85"/>
<rect x="346.64" y="367.19" width="1.1" height="1.0" fill="#cf1d3d" fill-opacity="0.85"/>
<rect x="353.11" y="356.33" width="1.1" height="1.0" fill="#cf1d3d" fill-opacity="0.85"/>
<rect x="350.15" y="371.64" width="1.1" height="1.0" fill="#cf1d3d" fill-opacity="0.85"/>
<rect x="342.98" y="363.11" width="1.1" height="1.0" fill="#cf1d3d" fill-opacity="0.85"/>
<rect x="353.38" y="357.93" width="1.1" height="1.0" fill="#cf1d3d" fill-opacity="0.85"/>
<rect x="347.55" y="369.77" width="1.1" height="1.0" fill="#cf1d3d" fill-opacity="0.85"/>
<rect x="348.44" y="362.65" width="1.1" height="1.0" fill="#cf1d3d" fill-opacity="0.85"/>
<rect x="350.01" y="359.23" width="1.1" height="1.0" fill="#cf1d3d" fill-opacity="0.85"/>
<rect x="352.72" y="362.07" width="1.1" height="1.0" fill="#cf1d3d" fill-opacity="0.85"/>
<rect x="347.69" y="359.41" width="1.1" height="1.0" fill="#cf1d3d" fill-opacity="0.85"/>
<rect x="349.64" y="357.94" width="1.1" height="1.0" fill="#cf1d3d" fill-opacity="0.85"/>
<rect x="345.87" y="366.27" width="1.1" height="1.0" fill="#cf1d3d" fill-opacity="0.85"/>
<rect x="350.33" y="366.74" width="1.1" height="1.0" fill="#cf1d3d" fill-opacity="0.85"/>
<rect x="346.55" y="352.60" width="1.1" height="1.0" fill="#cf1d3d" fill-opacity="0.85"/>
<rect x="353.43" y="361.23" width="1.1" height="1.0" fill="#cf1d3d" fill-opacity="0.85"/>
<rect x="351.87" y="356.79" width="1.1" height="1.0" fill="#cf1d3d" fill-opacity="0.85"/>
<rect x="351.29" y="352.80" width="1.1" height="1.0" fill="#cf1d3d" fill-opacity="0.85"/>
<rect x="347.20" y="360.77" width="1.1" height="1.0" fill="#cf1d3d" fill-opacity="0.85"/>
<rect x="353.39" y="370.88" width="1.1" height="1.0" fill="#cf1d3d" fill-opacity="0.85"/>
<rect x="347.21" y="353.52" width="1.1" height="1.0" fill="#cf1d3d" fill-opacity="0.85"/>
<rect x="350.42" y="360.56" width="1.1" height="1.0" fill="#cf1d3d" fill-opacity="0.85"/>
<rect x="347.17" y="361.68" width="1.1" height="1.0" fill="#cf1d3d" fill-opacity="0.85"/>
<rect x="349.43" y="356.25" width="1.1" height="1.0" fill="#cf1d3d" fill-opacity="0.85"/>
<rect x="347.47" y="363.10" width="1.1" height="1.0" fill="#cf1d3d" fill-opacity="0.85"/>
<rect x="346.47" y="357.92" width="1.1" height="1.0" fill="#cf1d3d" fill-opacity="0.85"/>
<rect x="342.10" y="351.30" width="1.1" height="1.0" fill="#cf1d3d" fill-opacity="0.85"/>
<rect x="349.47" y="363.30" width="1.1" height="1.0" fill="#cf1d3d" fill-opacity="0.85"/>
<rect x="352.64" y="358.72" width="1.1" height="1.0" fill="#cf1d3d" fill-opacity="0.85"/>
<rect x="343.52" y="362.47" width="1.1" height="1.0" fill="#cf1d3d" fill-opacity="0.85"/>
<rect x="344.68" y="354.74" width="1.1" height="1.0" fill="#cf1d3d" fill-opacity="0.85"/>
<rect x="347.48" y="370.51" width="1.1" height="1.0" fill="#cf1d3d" fill-opacity="0.85"/>
<rect x="348.09" y="357.92" width="1.1" height="1.0" fill="#cf1d3d" fill-opacity="0.85"/>
<rect x="346.46" y="355.47" width="1.1" height="1.0" fill="#cf1d3d" fill-opacity="0.85"/>
<rect x="349.93" y="368.82" width="1.1" height="1.0" fill="#cf1d3d" fill-opacity="0.85"/>
<line x1="295.70" y1="384.70" x2="295.70" y2="347.80" stroke="#111" stroke-width="1.2"/>
<line x1="295.10" y1="384.20" x2="355.50" y2="384.20" stroke="#111" stroke-width="1.2"/>
<line x1="293.50" y1="383.10" x2="295.70" y2="383.10" stroke="#111" stroke-width="1.0"/>
<text x="291.10" y="386.65" font-size="8.3" text-anchor="end" fill="#111">0</text>
<line x1="293.50" y1="374.63" x2="295.70" y2="374.63" stroke="#111" stroke-width="1.0"/>
<text x="291.10" y="378.18" font-size="8.3" text-anchor="end" fill="#111">1</text>
<line x1="293.50" y1="366.16" x2="295.70" y2="366.16" stroke="#111" stroke-width="1.0"/>
<text x="291.10" y="369.71" font-size="8.3" text-anchor="end" fill="#111">2</text>
<line x1="293.50" y1="357.69" x2="295.70" y2="357.69" stroke="#111" stroke-width="1.0"/>
<text x="291.10" y="361.24" font-size="8.3" text-anchor="end" fill="#111">3</text>
<line x1="293.50" y1="349.22" x2="295.70" y2="349.22" stroke="#111" stroke-width="1.0"/>
<text x="291.10" y="352.77" font-size="8.3" text-anchor="end" fill="#111">4</text>
<line x1="304.20" y1="384.20" x2="304.20" y2="386.10" stroke="#111" stroke-width="1.0"/>
<text x="304.20" y="395.55" font-size="8.3" text-anchor="middle" fill="#111">2</text>
<line x1="318.90" y1="384.20" x2="318.90" y2="386.10" stroke="#111" stroke-width="1.0"/>
<text x="318.90" y="395.55" font-size="8.3" text-anchor="middle" fill="#111">3</text>
<line x1="333.50" y1="384.20" x2="333.50" y2="386.10" stroke="#111" stroke-width="1.0"/>
<text x="333.50" y="395.55" font-size="8.3" text-anchor="middle" fill="#111">4</text>
<line x1="348.30" y1="384.20" x2="348.30" y2="386.10" stroke="#111" stroke-width="1.0"/>
<text x="348.30" y="395.55" font-size="8.3" text-anchor="middle" fill="#111">5</text>
<text x="400.50" y="342.77" font-size="9.2" text-anchor="middle" font-style="italic" fill="#111">Trbv3</text>
<line x1="378.50" y1="383.10" x2="378.50" y2="349.10" stroke="#a9c9ab" stroke-width="1.0"/>
<rect x="372.20" y="381.80" width="12.60" height="1.80" fill="#7fcf88"/>
<rect x="383.58" y="363.36" width="1.1" height="1.0" fill="#2fae45" fill-opacity="0.85"/>
<rect x="383.09" y="361.75" width="1.1" height="1.0" fill="#2fae45" fill-opacity="0.85"/>
<rect x="374.57" y="368.91" width="1.1" height="1.0" fill="#2fae45" fill-opacity="0.85"/>
<rect x="374.66" y="357.77" width="1.1" height="1.0" fill="#2fae45" fill-opacity="0.85"/>
<rect x="374.55" y="362.05" width="1.1" height="1.0" fill="#2fae45" fill-opacity="0.85"/>
<rect x="383.65" y="350.20" width="1.1" height="1.0" fill="#2fae45" fill-opacity="0.85"/>
<rect x="373.07" y="355.92" width="1.1" height="1.0" fill="#2fae45" fill-opacity="0.85"/>
<rect x="381.24" y="357.91" width="1.1" height="1.0" fill="#2fae45" fill-opacity="0.85"/>
<rect x="375.91" y="364.51" width="1.1" height="1.0" fill="#2fae45" fill-opacity="0.85"/>
<rect x="379.65" y="354.34" width="1.1" height="1.0" fill="#2fae45" fill-opacity="0.85"/>
<rect x="377.16" y="363.29" width="1.1" height="1.0" fill="#2fae45" fill-opacity="0.85"/>
<rect x="375.65" y="357.23" width="1.1" height="1.0" fill="#2fae45" fill-opacity="0.85"/>
<rect x="380.16" y="350.59" width="1.1" height="1.0" fill="#2fae45" fill-opacity="0.85"/>
<rect x="379.98" y="352.09" width="1.1" height="1.0" fill="#2fae45" fill-opacity="0.85"/>
<rect x="376.55" y="354.98" width="1.1" height="1.0" fill="#2fae45" fill-opacity="0.85"/>
<rect x="377.08" y="364.00" width="1.1" height="1.0" fill="#2fae45" fill-opacity="0.85"/>
<rect x="372.08" y="367.52" width="1.1" height="1.0" fill="#2fae45" fill-opacity="0.85"/>
<rect x="377.57" y="354.35" width="1.1" height="1.0" fill="#2fae45" fill-opacity="0.85"/>
<rect x="372.26" y="365.43" width="1.1" height="1.0" fill="#2fae45" fill-opacity="0.85"/>
<rect x="380.46" y="360.98" width="1.1" height="1.0" fill="#2fae45" fill-opacity="0.85"/>
<rect x="373.84" y="351.50" width="1.1" height="1.0" fill="#2fae45" fill-opacity="0.85"/>
<rect x="372.41" y="359.21" width="1.1" height="1.0" fill="#2fae45" fill-opacity="0.85"/>
<rect x="373.81" y="358.71" width="1.1" height="1.0" fill="#2fae45" fill-opacity="0.85"/>
<rect x="380.22" y="357.57" width="1.1" height="1.0" fill="#2fae45" fill-opacity="0.85"/>
<rect x="379.83" y="360.52" width="1.1" height="1.0" fill="#2fae45" fill-opacity="0.85"/>
<rect x="377.70" y="365.70" width="1.1" height="1.0" fill="#2fae45" fill-opacity="0.85"/>
<rect x="375.74" y="372.72" width="1.1" height="1.0" fill="#2fae45" fill-opacity="0.85"/>
<rect x="382.44" y="359.57" width="1.1" height="1.0" fill="#2fae45" fill-opacity="0.85"/>
<rect x="372.07" y="363.20" width="1.1" height="1.0" fill="#2fae45" fill-opacity="0.85"/>
<rect x="373.01" y="368.71" width="1.1" height="1.0" fill="#2fae45" fill-opacity="0.85"/>
<rect x="383.35" y="353.95" width="1.1" height="1.0" fill="#2fae45" fill-opacity="0.85"/>
<rect x="382.51" y="358.53" width="1.1" height="1.0" fill="#2fae45" fill-opacity="0.85"/>
<rect x="380.47" y="358.01" width="1.1" height="1.0" fill="#2fae45" fill-opacity="0.85"/>
<rect x="381.29" y="362.42" width="1.1" height="1.0" fill="#2fae45" fill-opacity="0.85"/>
<rect x="373.68" y="355.59" width="1.1" height="1.0" fill="#2fae45" fill-opacity="0.85"/>
<rect x="374.15" y="370.23" width="1.1" height="1.0" fill="#2fae45" fill-opacity="0.85"/>
<rect x="382.71" y="356.94" width="1.1" height="1.0" fill="#2fae45" fill-opacity="0.85"/>
<rect x="377.36" y="369.77" width="1.1" height="1.0" fill="#2fae45" fill-opacity="0.85"/>
<rect x="383.49" y="357.01" width="1.1" height="1.0" fill="#2fae45" fill-opacity="0.85"/>
<rect x="382.61" y="361.93" width="1.1" height="1.0" fill="#2fae45" fill-opacity="0.85"/>
<rect x="378.58" y="360.95" width="1.1" height="1.0" fill="#2fae45" fill-opacity="0.85"/>
<rect x="380.27" y="357.67" width="1.1" height="1.0" fill="#2fae45" fill-opacity="0.85"/>
<rect x="375.34" y="360.99" width="1.1" height="1.0" fill="#2fae45" fill-opacity="0.85"/>
<rect x="381.89" y="357.93" width="1.1" height="1.0" fill="#2fae45" fill-opacity="0.85"/>
<rect x="375.00" y="351.61" width="1.1" height="1.0" fill="#2fae45" fill-opacity="0.85"/>
<rect x="383.77" y="358.82" width="1.1" height="1.0" fill="#2fae45" fill-opacity="0.85"/>
<rect x="382.81" y="356.72" width="1.1" height="1.0" fill="#2fae45" fill-opacity="0.85"/>
<rect x="379.84" y="360.90" width="1.1" height="1.0" fill="#2fae45" fill-opacity="0.85"/>
<rect x="382.65" y="357.11" width="1.1" height="1.0" fill="#2fae45" fill-opacity="0.85"/>
<rect x="382.28" y="350.70" width="1.1" height="1.0" fill="#2fae45" fill-opacity="0.85"/>
<rect x="377.51" y="359.01" width="1.1" height="1.0" fill="#2fae45" fill-opacity="0.85"/>
<rect x="374.86" y="370.14" width="1.1" height="1.0" fill="#2fae45" fill-opacity="0.85"/>
<rect x="375.28" y="364.56" width="1.1" height="1.0" fill="#2fae45" fill-opacity="0.85"/>
<rect x="378.42" y="364.01" width="1.1" height="1.0" fill="#2fae45" fill-opacity="0.85"/>
<rect x="376.01" y="366.54" width="1.1" height="1.0" fill="#2fae45" fill-opacity="0.85"/>
<rect x="380.15" y="354.85" width="1.1" height="1.0" fill="#2fae45" fill-opacity="0.85"/>
<rect x="382.73" y="361.73" width="1.1" height="1.0" fill="#2fae45" fill-opacity="0.85"/>
<rect x="374.64" y="361.43" width="1.1" height="1.0" fill="#2fae45" fill-opacity="0.85"/>
<rect x="372.80" y="358.46" width="1.1" height="1.0" fill="#2fae45" fill-opacity="0.85"/>
<rect x="376.11" y="357.77" width="1.1" height="1.0" fill="#2fae45" fill-opacity="0.85"/>
<rect x="376.44" y="357.11" width="1.1" height="1.0" fill="#2fae45" fill-opacity="0.85"/>
<rect x="380.12" y="368.62" width="1.1" height="1.0" fill="#2fae45" fill-opacity="0.85"/>
<rect x="380.25" y="356.64" width="1.1" height="1.0" fill="#2fae45" fill-opacity="0.85"/>
<rect x="378.60" y="365.89" width="1.1" height="1.0" fill="#2fae45" fill-opacity="0.85"/>
<rect x="373.53" y="352.62" width="1.1" height="1.0" fill="#2fae45" fill-opacity="0.85"/>
<rect x="380.11" y="365.05" width="1.1" height="1.0" fill="#2fae45" fill-opacity="0.85"/>
<rect x="380.82" y="361.29" width="1.1" height="1.0" fill="#2fae45" fill-opacity="0.85"/>
<rect x="377.46" y="359.30" width="1.1" height="1.0" fill="#2fae45" fill-opacity="0.85"/>
<rect x="375.56" y="352.90" width="1.1" height="1.0" fill="#2fae45" fill-opacity="0.85"/>
<rect x="383.91" y="357.73" width="1.1" height="1.0" fill="#2fae45" fill-opacity="0.85"/>
<rect x="380.88" y="359.19" width="1.1" height="1.0" fill="#2fae45" fill-opacity="0.85"/>
<rect x="375.23" y="368.46" width="1.1" height="1.0" fill="#2fae45" fill-opacity="0.85"/>
<rect x="380.52" y="356.15" width="1.1" height="1.0" fill="#2fae45" fill-opacity="0.85"/>
<rect x="377.58" y="349.24" width="1.1" height="1.0" fill="#2fae45" fill-opacity="0.85"/>
<rect x="383.80" y="363.04" width="1.1" height="1.0" fill="#2fae45" fill-opacity="0.85"/>
<rect x="376.94" y="357.75" width="1.1" height="1.0" fill="#2fae45" fill-opacity="0.85"/>
<rect x="377.42" y="360.74" width="1.1" height="1.0" fill="#2fae45" fill-opacity="0.85"/>
<rect x="373.72" y="361.03" width="1.1" height="1.0" fill="#2fae45" fill-opacity="0.85"/>
<rect x="380.97" y="350.98" width="1.1" height="1.0" fill="#2fae45" fill-opacity="0.85"/>
<rect x="380.31" y="358.28" width="1.1" height="1.0" fill="#2fae45" fill-opacity="0.85"/>
<rect x="375.19" y="361.47" width="1.1" height="1.0" fill="#2fae45" fill-opacity="0.85"/>
<rect x="383.72" y="366.01" width="1.1" height="1.0" fill="#2fae45" fill-opacity="0.85"/>
<rect x="381.58" y="367.16" width="1.1" height="1.0" fill="#2fae45" fill-opacity="0.85"/>
<rect x="373.76" y="365.17" width="1.1" height="1.0" fill="#2fae45" fill-opacity="0.85"/>
<rect x="380.56" y="350.95" width="1.1" height="1.0" fill="#2fae45" fill-opacity="0.85"/>
<rect x="374.86" y="364.04" width="1.1" height="1.0" fill="#2fae45" fill-opacity="0.85"/>
<rect x="374.60" y="357.21" width="1.1" height="1.0" fill="#2fae45" fill-opacity="0.85"/>
<rect x="374.79" y="358.88" width="1.1" height="1.0" fill="#2fae45" fill-opacity="0.85"/>
<rect x="374.31" y="362.44" width="1.1" height="1.0" fill="#2fae45" fill-opacity="0.85"/>
<rect x="379.05" y="354.07" width="1.1" height="1.0" fill="#2fae45" fill-opacity="0.85"/>
<rect x="379.98" y="351.06" width="1.1" height="1.0" fill="#2fae45" fill-opacity="0.85"/>
<rect x="372.45" y="354.07" width="1.1" height="1.0" fill="#2fae45" fill-opacity="0.85"/>
<rect x="374.27" y="363.78" width="1.1" height="1.0" fill="#2fae45" fill-opacity="0.85"/>
<rect x="383.02" y="369.75" width="1.1" height="1.0" fill="#2fae45" fill-opacity="0.85"/>
<rect x="378.13" y="360.75" width="1.1" height="1.0" fill="#2fae45" fill-opacity="0.85"/>
<rect x="383.22" y="358.46" width="1.1" height="1.0" fill="#2fae45" fill-opacity="0.85"/>
<rect x="376.00" y="351.25" width="1.1" height="1.0" fill="#2fae45" fill-opacity="0.85"/>
<rect x="378.92" y="365.49" width="1.1" height="1.0" fill="#2fae45" fill-opacity="0.85"/>
<rect x="373.33" y="363.03" width="1.1" height="1.0" fill="#2fae45" fill-opacity="0.85"/>
<rect x="372.49" y="359.30" width="1.1" height="1.0" fill="#2fae45" fill-opacity="0.85"/>
<rect x="383.92" y="367.40" width="1.1" height="1.0" fill="#2fae45" fill-opacity="0.85"/>
<rect x="379.23" y="366.19" width="1.1" height="1.0" fill="#2fae45" fill-opacity="0.85"/>
<rect x="373.61" y="353.23" width="1.1" height="1.0" fill="#2fae45" fill-opacity="0.85"/>
<rect x="372.72" y="359.95" width="1.1" height="1.0" fill="#2fae45" fill-opacity="0.85"/>
<rect x="383.83" y="361.57" width="1.1" height="1.0" fill="#2fae45" fill-opacity="0.85"/>
<rect x="375.57" y="352.08" width="1.1" height="1.0" fill="#2fae45" fill-opacity="0.85"/>
<rect x="376.66" y="358.75" width="1.1" height="1.0" fill="#2fae45" fill-opacity="0.85"/>
<rect x="378.70" y="349.53" width="1.1" height="1.0" fill="#2fae45" fill-opacity="0.85"/>
<rect x="383.03" y="352.45" width="1.1" height="1.0" fill="#2fae45" fill-opacity="0.85"/>
<rect x="381.06" y="349.53" width="1.1" height="1.0" fill="#2fae45" fill-opacity="0.85"/>
<rect x="372.39" y="354.43" width="1.1" height="1.0" fill="#2fae45" fill-opacity="0.85"/>
<rect x="375.66" y="361.95" width="1.1" height="1.0" fill="#2fae45" fill-opacity="0.85"/>
<rect x="374.40" y="353.95" width="1.1" height="1.0" fill="#2fae45" fill-opacity="0.85"/>
<rect x="373.81" y="364.00" width="1.1" height="1.0" fill="#2fae45" fill-opacity="0.85"/>
<rect x="383.11" y="356.18" width="1.1" height="1.0" fill="#2fae45" fill-opacity="0.85"/>
<rect x="382.61" y="353.82" width="1.1" height="1.0" fill="#2fae45" fill-opacity="0.85"/>
<rect x="374.29" y="359.18" width="1.1" height="1.0" fill="#2fae45" fill-opacity="0.85"/>
<rect x="381.33" y="370.40" width="1.1" height="1.0" fill="#2fae45" fill-opacity="0.85"/>
<rect x="372.40" y="358.43" width="1.1" height="1.0" fill="#2fae45" fill-opacity="0.85"/>
<rect x="382.71" y="352.02" width="1.1" height="1.0" fill="#2fae45" fill-opacity="0.85"/>
<line x1="393.20" y1="383.10" x2="393.20" y2="350.80" stroke="#a4a4a4" stroke-width="1.6"/>
<rect x="386.90" y="381.80" width="12.60" height="1.80" fill="#8e8e8e"/>
<rect x="394.65" y="355.95" width="1.1" height="1.0" fill="#262626" fill-opacity="0.85"/>
<rect x="394.43" y="355.67" width="1.1" height="1.0" fill="#262626" fill-opacity="0.85"/>
<rect x="396.21" y="364.94" width="1.1" height="1.0" fill="#262626" fill-opacity="0.85"/>
<rect x="397.96" y="368.20" width="1.1" height="1.0" fill="#262626" fill-opacity="0.85"/>
<rect x="396.90" y="374.99" width="1.1" height="1.0" fill="#262626" fill-opacity="0.85"/>
<rect x="387.80" y="352.71" width="1.1" height="1.0" fill="#262626" fill-opacity="0.85"/>
<rect x="394.64" y="358.78" width="1.1" height="1.0" fill="#262626" fill-opacity="0.85"/>
<rect x="387.24" y="371.47" width="1.1" height="1.0" fill="#262626" fill-opacity="0.85"/>
<rect x="398.06" y="352.59" width="1.1" height="1.0" fill="#262626" fill-opacity="0.85"/>
<rect x="386.73" y="360.01" width="1.1" height="1.0" fill="#262626" fill-opacity="0.85"/>
<rect x="388.21" y="361.62" width="1.1" height="1.0" fill="#262626" fill-opacity="0.85"/>
<rect x="397.70" y="363.37" width="1.1" height="1.0" fill="#262626" fill-opacity="0.85"/>
<rect x="396.24" y="358.21" width="1.1" height="1.0" fill="#262626" fill-opacity="0.85"/>
<rect x="395.42" y="352.69" width="1.1" height="1.0" fill="#262626" fill-opacity="0.85"/>
<rect x="395.44" y="364.48" width="1.1" height="1.0" fill="#262626" fill-opacity="0.85"/>
<rect x="391.47" y="364.48" width="1.1" height="1.0" fill="#262626" fill-opacity="0.85"/>
<rect x="395.79" y="367.35" width="1.1" height="1.0" fill="#262626" fill-opacity="0.85"/>
<rect x="397.74" y="370.08" width="1.1" height="1.0" fill="#262626" fill-opacity="0.85"/>
<rect x="391.75" y="363.06" width="1.1" height="1.0" fill="#262626" fill-opacity="0.85"/>
<rect x="393.07" y="360.92" width="1.1" height="1.0" fill="#262626" fill-opacity="0.85"/>
<rect x="395.26" y="363.88" width="1.1" height="1.0" fill="#262626" fill-opacity="0.85"/>
<rect x="390.13" y="361.54" width="1.1" height="1.0" fill="#262626" fill-opacity="0.85"/>
<rect x="388.34" y="368.94" width="1.1" height="1.0" fill="#262626" fill-opacity="0.85"/>
<rect x="398.03" y="369.00" width="1.1" height="1.0" fill="#262626" fill-opacity="0.85"/>
<rect x="392.01" y="362.08" width="1.1" height="1.0" fill="#262626" fill-opacity="0.85"/>
<rect x="387.47" y="358.57" width="1.1" height="1.0" fill="#262626" fill-opacity="0.85"/>
<rect x="387.87" y="352.99" width="1.1" height="1.0" fill="#262626" fill-opacity="0.85"/>
<rect x="393.20" y="355.41" width="1.1" height="1.0" fill="#262626" fill-opacity="0.85"/>
<rect x="396.47" y="356.63" width="1.1" height="1.0" fill="#262626" fill-opacity="0.85"/>
<rect x="396.66" y="367.18" width="1.1" height="1.0" fill="#262626" fill-opacity="0.85"/>
<line x1="407.80" y1="383.10" x2="407.80" y2="353.35" stroke="#76a3d4" stroke-width="1.0"/>
<rect x="401.50" y="381.80" width="12.60" height="1.80" fill="#6e9ccb"/>
<rect x="410.71" y="362.06" width="1.1" height="1.0" fill="#245f9e" fill-opacity="0.85"/>
<rect x="411.70" y="361.35" width="1.1" height="1.0" fill="#245f9e" fill-opacity="0.85"/>
<rect x="407.42" y="358.23" width="1.1" height="1.0" fill="#245f9e" fill-opacity="0.85"/>
<rect x="412.79" y="369.54" width="1.1" height="1.0" fill="#245f9e" fill-opacity="0.85"/>
<rect x="412.24" y="363.65" width="1.1" height="1.0" fill="#245f9e" fill-opacity="0.85"/>
<rect x="401.95" y="371.74" width="1.1" height="1.0" fill="#245f9e" fill-opacity="0.85"/>
<rect x="401.45" y="363.47" width="1.1" height="1.0" fill="#245f9e" fill-opacity="0.85"/>
<rect x="404.36" y="369.85" width="1.1" height="1.0" fill="#245f9e" fill-opacity="0.85"/>
<rect x="408.05" y="364.43" width="1.1" height="1.0" fill="#245f9e" fill-opacity="0.85"/>
<rect x="404.75" y="369.22" width="1.1" height="1.0" fill="#245f9e" fill-opacity="0.85"/>
<rect x="413.06" y="372.67" width="1.1" height="1.0" fill="#245f9e" fill-opacity="0.85"/>
<rect x="407.93" y="367.38" width="1.1" height="1.0" fill="#245f9e" fill-opacity="0.85"/>
<rect x="402.98" y="363.36" width="1.1" height="1.0" fill="#245f9e" fill-opacity="0.85"/>
<rect x="408.01" y="365.26" width="1.1" height="1.0" fill="#245f9e" fill-opacity="0.85"/>
<rect x="403.07" y="361.91" width="1.1" height="1.0" fill="#245f9e" fill-opacity="0.85"/>
<rect x="407.30" y="365.38" width="1.1" height="1.0" fill="#245f9e" fill-opacity="0.85"/>
<rect x="403.20" y="364.05" width="1.1" height="1.0" fill="#245f9e" fill-opacity="0.85"/>
<rect x="406.40" y="360.46" width="1.1" height="1.0" fill="#245f9e" fill-opacity="0.85"/>
<rect x="410.97" y="362.27" width="1.1" height="1.0" fill="#245f9e" fill-opacity="0.85"/>
<rect x="402.20" y="366.11" width="1.1" height="1.0" fill="#245f9e" fill-opacity="0.85"/>
<rect x="401.39" y="363.14" width="1.1" height="1.0" fill="#245f9e" fill-opacity="0.85"/>
<rect x="405.17" y="355.52" width="1.1" height="1.0" fill="#245f9e" fill-opacity="0.85"/>
<rect x="411.94" y="361.02" width="1.1" height="1.0" fill="#245f9e" fill-opacity="0.85"/>
<rect x="403.21" y="360.05" width="1.1" height="1.0" fill="#245f9e" fill-opacity="0.85"/>
<rect x="404.25" y="365.20" width="1.1" height="1.0" fill="#245f9e" fill-opacity="0.85"/>
<rect x="411.65" y="374.10" width="1.1" height="1.0" fill="#245f9e" fill-opacity="0.85"/>
<rect x="408.27" y="366.86" width="1.1" height="1.0" fill="#245f9e" fill-opacity="0.85"/>
<rect x="405.51" y="355.17" width="1.1" height="1.0" fill="#245f9e" fill-opacity="0.85"/>
<rect x="405.13" y="357.16" width="1.1" height="1.0" fill="#245f9e" fill-opacity="0.85"/>
<rect x="408.18" y="368.26" width="1.1" height="1.0" fill="#245f9e" fill-opacity="0.85"/>
<rect x="412.56" y="364.25" width="1.1" height="1.0" fill="#245f9e" fill-opacity="0.85"/>
<rect x="413.01" y="359.08" width="1.1" height="1.0" fill="#245f9e" fill-opacity="0.85"/>
<rect x="409.87" y="356.88" width="1.1" height="1.0" fill="#245f9e" fill-opacity="0.85"/>
<rect x="406.53" y="360.67" width="1.1" height="1.0" fill="#245f9e" fill-opacity="0.85"/>
<rect x="411.95" y="362.93" width="1.1" height="1.0" fill="#245f9e" fill-opacity="0.85"/>
<rect x="406.65" y="360.38" width="1.1" height="1.0" fill="#245f9e" fill-opacity="0.85"/>
<rect x="412.40" y="365.87" width="1.1" height="1.0" fill="#245f9e" fill-opacity="0.85"/>
<rect x="406.28" y="362.50" width="1.1" height="1.0" fill="#245f9e" fill-opacity="0.85"/>
<rect x="409.47" y="360.78" width="1.1" height="1.0" fill="#245f9e" fill-opacity="0.85"/>
<rect x="401.44" y="355.83" width="1.1" height="1.0" fill="#245f9e" fill-opacity="0.85"/>
<rect x="403.41" y="370.58" width="1.1" height="1.0" fill="#245f9e" fill-opacity="0.85"/>
<rect x="406.17" y="358.35" width="1.1" height="1.0" fill="#245f9e" fill-opacity="0.85"/>
<rect x="412.37" y="358.14" width="1.1" height="1.0" fill="#245f9e" fill-opacity="0.85"/>
<rect x="409.54" y="368.37" width="1.1" height="1.0" fill="#245f9e" fill-opacity="0.85"/>
<rect x="403.76" y="367.77" width="1.1" height="1.0" fill="#245f9e" fill-opacity="0.85"/>
<rect x="411.17" y="355.10" width="1.1" height="1.0" fill="#245f9e" fill-opacity="0.85"/>
<rect x="410.69" y="369.32" width="1.1" height="1.0" fill="#245f9e" fill-opacity="0.85"/>
<rect x="405.68" y="362.31" width="1.1" height="1.0" fill="#245f9e" fill-opacity="0.85"/>
<rect x="409.90" y="361.61" width="1.1" height="1.0" fill="#245f9e" fill-opacity="0.85"/>
<rect x="411.59" y="359.97" width="1.1" height="1.0" fill="#245f9e" fill-opacity="0.85"/>
<rect x="403.11" y="365.03" width="1.1" height="1.0" fill="#245f9e" fill-opacity="0.85"/>
<rect x="411.01" y="368.64" width="1.1" height="1.0" fill="#245f9e" fill-opacity="0.85"/>
<rect x="410.40" y="360.31" width="1.1" height="1.0" fill="#245f9e" fill-opacity="0.85"/>
<rect x="408.93" y="357.82" width="1.1" height="1.0" fill="#245f9e" fill-opacity="0.85"/>
<rect x="405.15" y="362.17" width="1.1" height="1.0" fill="#245f9e" fill-opacity="0.85"/>
<rect x="409.72" y="367.91" width="1.1" height="1.0" fill="#245f9e" fill-opacity="0.85"/>
<rect x="401.77" y="360.47" width="1.1" height="1.0" fill="#245f9e" fill-opacity="0.85"/>
<rect x="410.91" y="366.91" width="1.1" height="1.0" fill="#245f9e" fill-opacity="0.85"/>
<rect x="405.69" y="367.60" width="1.1" height="1.0" fill="#245f9e" fill-opacity="0.85"/>
<rect x="402.00" y="368.88" width="1.1" height="1.0" fill="#245f9e" fill-opacity="0.85"/>
<rect x="404.90" y="361.60" width="1.1" height="1.0" fill="#245f9e" fill-opacity="0.85"/>
<rect x="404.60" y="368.63" width="1.1" height="1.0" fill="#245f9e" fill-opacity="0.85"/>
<rect x="403.73" y="361.11" width="1.1" height="1.0" fill="#245f9e" fill-opacity="0.85"/>
<rect x="404.72" y="357.12" width="1.1" height="1.0" fill="#245f9e" fill-opacity="0.85"/>
<rect x="410.70" y="364.55" width="1.1" height="1.0" fill="#245f9e" fill-opacity="0.85"/>
<rect x="403.03" y="372.34" width="1.1" height="1.0" fill="#245f9e" fill-opacity="0.85"/>
<rect x="409.60" y="368.28" width="1.1" height="1.0" fill="#245f9e" fill-opacity="0.85"/>
<rect x="406.28" y="359.90" width="1.1" height="1.0" fill="#245f9e" fill-opacity="0.85"/>
<rect x="405.06" y="362.53" width="1.1" height="1.0" fill="#245f9e" fill-opacity="0.85"/>
<rect x="410.26" y="364.45" width="1.1" height="1.0" fill="#245f9e" fill-opacity="0.85"/>
<line x1="422.60" y1="383.10" x2="422.60" y2="349.10" stroke="#e06a80" stroke-width="1.0"/>
<rect x="416.30" y="381.80" width="12.60" height="1.80" fill="#e0707f"/>
<rect x="421.09" y="353.15" width="1.1" height="1.0" fill="#cf1d3d" fill-opacity="0.85"/>
<rect x="418.81" y="364.75" width="1.1" height="1.0" fill="#cf1d3d" fill-opacity="0.85"/>
<rect x="420.55" y="362.09" width="1.1" height="1.0" fill="#cf1d3d" fill-opacity="0.85"/>
<rect x="426.00" y="363.97" width="1.1" height="1.0" fill="#cf1d3d" fill-opacity="0.85"/>
<rect x="418.15" y="363.24" width="1.1" height="1.0" fill="#cf1d3d" fill-opacity="0.85"/>
<rect x="427.79" y="356.36" width="1.1" height="1.0" fill="#cf1d3d" fill-opacity="0.85"/>
<rect x="422.56" y="361.46" width="1.1" height="1.0" fill="#cf1d3d" fill-opacity="0.85"/>
<rect x="417.93" y="366.41" width="1.1" height="1.0" fill="#cf1d3d" fill-opacity="0.85"/>
<rect x="424.53" y="357.98" width="1.1" height="1.0" fill="#cf1d3d" fill-opacity="0.85"/>
<rect x="422.44" y="363.27" width="1.1" height="1.0" fill="#cf1d3d" fill-opacity="0.85"/>
<rect x="417.09" y="366.56" width="1.1" height="1.0" fill="#cf1d3d" fill-opacity="0.85"/>
<rect x="420.21" y="353.06" width="1.1" height="1.0" fill="#cf1d3d" fill-opacity="0.85"/>
<rect x="420.69" y="351.02" width="1.1" height="1.0" fill="#cf1d3d" fill-opacity="0.85"/>
<rect x="424.69" y="354.78" width="1.1" height="1.0" fill="#cf1d3d" fill-opacity="0.85"/>
<rect x="423.00" y="368.46" width="1.1" height="1.0" fill="#cf1d3d" fill-opacity="0.85"/>
<rect x="419.21" y="356.38" width="1.1" height="1.0" fill="#cf1d3d" fill-opacity="0.85"/>
<rect x="416.99" y="377.94" width="1.1" height="1.0" fill="#cf1d3d" fill-opacity="0.85"/>
<rect x="418.48" y="368.23" width="1.1" height="1.0" fill="#cf1d3d" fill-opacity="0.85"/>
<rect x="417.42" y="354.19" width="1.1" height="1.0" fill="#cf1d3d" fill-opacity="0.85"/>
<rect x="422.35" y="362.69" width="1.1" height="1.0" fill="#cf1d3d" fill-opacity="0.85"/>
<rect x="419.48" y="358.44" width="1.1" height="1.0" fill="#cf1d3d" fill-opacity="0.85"/>
<rect x="425.09" y="355.15" width="1.1" height="1.0" fill="#cf1d3d" fill-opacity="0.85"/>
<rect x="421.66" y="355.35" width="1.1" height="1.0" fill="#cf1d3d" fill-opacity="0.85"/>
<rect x="420.13" y="350.95" width="1.1" height="1.0" fill="#cf1d3d" fill-opacity="0.85"/>
<rect x="427.86" y="374.77" width="1.1" height="1.0" fill="#cf1d3d" fill-opacity="0.85"/>
<rect x="425.12" y="359.15" width="1.1" height="1.0" fill="#cf1d3d" fill-opacity="0.85"/>
<rect x="424.35" y="365.24" width="1.1" height="1.0" fill="#cf1d3d" fill-opacity="0.85"/>
<rect x="419.44" y="373.92" width="1.1" height="1.0" fill="#cf1d3d" fill-opacity="0.85"/>
<rect x="426.11" y="372.89" width="1.1" height="1.0" fill="#cf1d3d" fill-opacity="0.85"/>
<rect x="427.69" y="364.90" width="1.1" height="1.0" fill="#cf1d3d" fill-opacity="0.85"/>
<rect x="424.90" y="369.28" width="1.1" height="1.0" fill="#cf1d3d" fill-opacity="0.85"/>
<rect x="418.13" y="361.90" width="1.1" height="1.0" fill="#cf1d3d" fill-opacity="0.85"/>
<rect x="424.05" y="363.20" width="1.1" height="1.0" fill="#cf1d3d" fill-opacity="0.85"/>
<rect x="426.70" y="367.33" width="1.1" height="1.0" fill="#cf1d3d" fill-opacity="0.85"/>
<rect x="417.12" y="362.37" width="1.1" height="1.0" fill="#cf1d3d" fill-opacity="0.85"/>
<line x1="370.00" y1="384.70" x2="370.00" y2="347.80" stroke="#111" stroke-width="1.2"/>
<line x1="369.40" y1="384.20" x2="429.80" y2="384.20" stroke="#111" stroke-width="1.2"/>
<line x1="367.80" y1="383.10" x2="370.00" y2="383.10" stroke="#111" stroke-width="1.0"/>
<text x="365.40" y="386.65" font-size="8.3" text-anchor="end" fill="#111">0</text>
<line x1="367.80" y1="374.60" x2="370.00" y2="374.60" stroke="#111" stroke-width="1.0"/>
<text x="365.40" y="378.15" font-size="8.3" text-anchor="end" fill="#111">1</text>
<line x1="367.80" y1="366.10" x2="370.00" y2="366.10" stroke="#111" stroke-width="1.0"/>
<text x="365.40" y="369.65" font-size="8.3" text-anchor="end" fill="#111">2</text>
<line x1="367.80" y1="357.60" x2="370.00" y2="357.60" stroke="#111" stroke-width="1.0"/>
<text x="365.40" y="361.15" font-size="8.3" text-anchor="end" fill="#111">3</text>
<line x1="367.80" y1="349.10" x2="370.00" y2="349.10" stroke="#111" stroke-width="1.0"/>
<text x="365.40" y="352.65" font-size="8.3" text-anchor="end" fill="#111">4</text>
<line x1="378.50" y1="384.20" x2="378.50" y2="386.10" stroke="#111" stroke-width="1.0"/>
<text x="378.50" y="395.55" font-size="8.3" text-anchor="middle" fill="#111">2</text>
<line x1="393.20" y1="384.20" x2="393.20" y2="386.10" stroke="#111" stroke-width="1.0"/>
<text x="393.20" y="395.55" font-size="8.3" text-anchor="middle" fill="#111">3</text>
<line x1="407.80" y1="384.20" x2="407.80" y2="386.10" stroke="#111" stroke-width="1.0"/>
<text x="407.80" y="395.55" font-size="8.3" text-anchor="middle" fill="#111">4</text>
<line x1="422.60" y1="384.20" x2="422.60" y2="386.10" stroke="#111" stroke-width="1.0"/>
<text x="422.60" y="395.55" font-size="8.3" text-anchor="middle" fill="#111">5</text>
<text x="479.10" y="342.77" font-size="9.2" text-anchor="middle" font-style="italic" fill="#111">Trbv5</text>
<line x1="457.10" y1="383.10" x2="457.10" y2="354.03" stroke="#a9c9ab" stroke-width="1.0"/>
<rect x="450.80" y="381.80" width="12.60" height="1.80" fill="#7fcf88"/>
<rect x="452.64" y="360.61" width="1.1" height="1.0" fill="#2fae45" fill-opacity="0.85"/>
<rect x="459.15" y="358.91" width="1.1" height="1.0" fill="#2fae45" fill-opacity="0.85"/>
<rect x="458.01" y="370.14" width="1.1" height="1.0" fill="#2fae45" fill-opacity="0.85"/>
<rect x="457.40" y="369.25" width="1.1" height="1.0" fill="#2fae45" fill-opacity="0.85"/>
<rect x="458.04" y="358.46" width="1.1" height="1.0" fill="#2fae45" fill-opacity="0.85"/>
<rect x="456.84" y="363.58" width="1.1" height="1.0" fill="#2fae45" fill-opacity="0.85"/>
<rect x="455.13" y="358.46" width="1.1" height="1.0" fill="#2fae45" fill-opacity="0.85"/>
<rect x="453.32" y="372.25" width="1.1" height="1.0" fill="#2fae45" fill-opacity="0.85"/>
<rect x="458.88" y="357.98" width="1.1" height="1.0" fill="#2fae45" fill-opacity="0.85"/>
<rect x="457.91" y="357.69" width="1.1" height="1.0" fill="#2fae45" fill-opacity="0.85"/>
<rect x="453.26" y="372.14" width="1.1" height="1.0" fill="#2fae45" fill-opacity="0.85"/>
<rect x="456.96" y="363.02" width="1.1" height="1.0" fill="#2fae45" fill-opacity="0.85"/>
<rect x="458.16" y="360.45" width="1.1" height="1.0" fill="#2fae45" fill-opacity="0.85"/>
<rect x="458.64" y="358.95" width="1.1" height="1.0" fill="#2fae45" fill-opacity="0.85"/>
<rect x="454.60" y="365.49" width="1.1" height="1.0" fill="#2fae45" fill-opacity="0.85"/>
<rect x="458.85" y="362.92" width="1.1" height="1.0" fill="#2fae45" fill-opacity="0.85"/>
<rect x="455.77" y="375.46" width="1.1" height="1.0" fill="#2fae45" fill-opacity="0.85"/>
<rect x="455.38" y="366.17" width="1.1" height="1.0" fill="#2fae45" fill-opacity="0.85"/>
<rect x="453.09" y="362.53" width="1.1" height="1.0" fill="#2fae45" fill-opacity="0.85"/>
<rect x="457.67" y="367.54" width="1.1" height="1.0" fill="#2fae45" fill-opacity="0.85"/>
<rect x="457.30" y="369.87" width="1.1" height="1.0" fill="#2fae45" fill-opacity="0.85"/>
<rect x="455.89" y="370.23" width="1.1" height="1.0" fill="#2fae45" fill-opacity="0.85"/>
<rect x="460.50" y="371.68" width="1.1" height="1.0" fill="#2fae45" fill-opacity="0.85"/>
<rect x="458.27" y="376.49" width="1.1" height="1.0" fill="#2fae45" fill-opacity="0.85"/>
<rect x="455.97" y="362.84" width="1.1" height="1.0" fill="#2fae45" fill-opacity="0.85"/>
<rect x="458.80" y="374.04" width="1.1" height="1.0" fill="#2fae45" fill-opacity="0.85"/>
<rect x="455.29" y="374.11" width="1.1" height="1.0" fill="#2fae45" fill-opacity="0.85"/>
<rect x="461.58" y="365.91" width="1.1" height="1.0" fill="#2fae45" fill-opacity="0.85"/>
<rect x="458.08" y="373.65" width="1.1" height="1.0" fill="#2fae45" fill-opacity="0.85"/>
<rect x="456.93" y="368.95" width="1.1" height="1.0" fill="#2fae45" fill-opacity="0.85"/>
<rect x="461.93" y="376.88" width="1.1" height="1.0" fill="#2fae45" fill-opacity="0.85"/>
<rect x="452.66" y="357.15" width="1.1" height="1.0" fill="#2fae45" fill-opacity="0.85"/>
<rect x="461.19" y="354.93" width="1.1" height="1.0" fill="#2fae45" fill-opacity="0.85"/>
<rect x="455.21" y="360.35" width="1.1" height="1.0" fill="#2fae45" fill-opacity="0.85"/>
<rect x="461.88" y="365.82" width="1.1" height="1.0" fill="#2fae45" fill-opacity="0.85"/>
<rect x="453.16" y="356.46" width="1.1" height="1.0" fill="#2fae45" fill-opacity="0.85"/>
<rect x="453.25" y="373.90" width="1.1" height="1.0" fill="#2fae45" fill-opacity="0.85"/>
<rect x="455.58" y="362.71" width="1.1" height="1.0" fill="#2fae45" fill-opacity="0.85"/>
<rect x="453.36" y="361.29" width="1.1" height="1.0" fill="#2fae45" fill-opacity="0.85"/>
<rect x="451.57" y="360.20" width="1.1" height="1.0" fill="#2fae45" fill-opacity="0.85"/>
<line x1="471.80" y1="383.10" x2="471.80" y2="352.32" stroke="#a4a4a4" stroke-width="1.6"/>
<rect x="465.50" y="381.80" width="12.60" height="1.80" fill="#8e8e8e"/>
<rect x="466.73" y="366.46" width="1.1" height="1.0" fill="#262626" fill-opacity="0.85"/>
<rect x="467.11" y="361.65" width="1.1" height="1.0" fill="#262626" fill-opacity="0.85"/>
<rect x="474.04" y="368.39" width="1.1" height="1.0" fill="#262626" fill-opacity="0.85"/>
<rect x="470.27" y="361.25" width="1.1" height="1.0" fill="#262626" fill-opacity="0.85"/>
<rect x="468.87" y="363.68" width="1.1" height="1.0" fill="#262626" fill-opacity="0.85"/>
<rect x="474.22" y="359.98" width="1.1" height="1.0" fill="#262626" fill-opacity="0.85"/>
<rect x="474.98" y="361.83" width="1.1" height="1.0" fill="#262626" fill-opacity="0.85"/>
<rect x="475.26" y="357.45" width="1.1" height="1.0" fill="#262626" fill-opacity="0.85"/>
<rect x="473.01" y="375.03" width="1.1" height="1.0" fill="#262626" fill-opacity="0.85"/>
<rect x="468.02" y="361.14" width="1.1" height="1.0" fill="#262626" fill-opacity="0.85"/>
<rect x="474.78" y="360.79" width="1.1" height="1.0" fill="#262626" fill-opacity="0.85"/>
<rect x="469.98" y="361.83" width="1.1" height="1.0" fill="#262626" fill-opacity="0.85"/>
<rect x="476.33" y="355.66" width="1.1" height="1.0" fill="#262626" fill-opacity="0.85"/>
<rect x="468.62" y="364.57" width="1.1" height="1.0" fill="#262626" fill-opacity="0.85"/>
<rect x="467.93" y="363.70" width="1.1" height="1.0" fill="#262626" fill-opacity="0.85"/>
<rect x="476.36" y="369.36" width="1.1" height="1.0" fill="#262626" fill-opacity="0.85"/>
<rect x="473.76" y="371.34" width="1.1" height="1.0" fill="#262626" fill-opacity="0.85"/>
<rect x="471.00" y="355.58" width="1.1" height="1.0" fill="#262626" fill-opacity="0.85"/>
<rect x="475.34" y="365.98" width="1.1" height="1.0" fill="#262626" fill-opacity="0.85"/>
<rect x="474.03" y="365.40" width="1.1" height="1.0" fill="#262626" fill-opacity="0.85"/>
<line x1="486.40" y1="383.10" x2="486.40" y2="361.73" stroke="#76a3d4" stroke-width="1.0"/>
<rect x="480.10" y="381.80" width="12.60" height="1.80" fill="#6e9ccb"/>
<rect x="482.16" y="364.34" width="1.1" height="1.0" fill="#245f9e" fill-opacity="0.85"/>
<rect x="491.30" y="366.89" width="1.1" height="1.0" fill="#245f9e" fill-opacity="0.85"/>
<rect x="487.12" y="362.02" width="1.1" height="1.0" fill="#245f9e" fill-opacity="0.85"/>
<line x1="501.20" y1="383.10" x2="501.20" y2="348.90" stroke="#e06a80" stroke-width="1.0"/>
<rect x="494.90" y="381.80" width="12.60" height="1.80" fill="#e0707f"/>
<rect x="500.49" y="356.04" width="1.1" height="1.0" fill="#cf1d3d" fill-opacity="0.85"/>
<rect x="498.80" y="351.13" width="1.1" height="1.0" fill="#cf1d3d" fill-opacity="0.85"/>
<rect x="496.31" y="369.22" width="1.1" height="1.0" fill="#cf1d3d" fill-opacity="0.85"/>
<rect x="497.68" y="355.57" width="1.1" height="1.0" fill="#cf1d3d" fill-opacity="0.85"/>
<rect x="496.36" y="363.31" width="1.1" height="1.0" fill="#cf1d3d" fill-opacity="0.85"/>
<rect x="498.07" y="353.65" width="1.1" height="1.0" fill="#cf1d3d" fill-opacity="0.85"/>
<rect x="501.38" y="360.04" width="1.1" height="1.0" fill="#cf1d3d" fill-opacity="0.85"/>
<rect x="506.14" y="355.17" width="1.1" height="1.0" fill="#cf1d3d" fill-opacity="0.85"/>
<rect x="495.50" y="363.12" width="1.1" height="1.0" fill="#cf1d3d" fill-opacity="0.85"/>
<rect x="506.21" y="359.99" width="1.1" height="1.0" fill="#cf1d3d" fill-opacity="0.85"/>
<rect x="495.07" y="369.01" width="1.1" height="1.0" fill="#cf1d3d" fill-opacity="0.85"/>
<rect x="501.88" y="366.95" width="1.1" height="1.0" fill="#cf1d3d" fill-opacity="0.85"/>
<rect x="500.35" y="360.69" width="1.1" height="1.0" fill="#cf1d3d" fill-opacity="0.85"/>
<rect x="505.24" y="362.01" width="1.1" height="1.0" fill="#cf1d3d" fill-opacity="0.85"/>
<rect x="503.12" y="349.46" width="1.1" height="1.0" fill="#cf1d3d" fill-opacity="0.85"/>
<rect x="495.65" y="354.12" width="1.1" height="1.0" fill="#cf1d3d" fill-opacity="0.85"/>
<rect x="503.03" y="362.07" width="1.1" height="1.0" fill="#cf1d3d" fill-opacity="0.85"/>
<rect x="502.48" y="353.66" width="1.1" height="1.0" fill="#cf1d3d" fill-opacity="0.85"/>
<rect x="497.18" y="355.18" width="1.1" height="1.0" fill="#cf1d3d" fill-opacity="0.85"/>
<rect x="496.82" y="359.32" width="1.1" height="1.0" fill="#cf1d3d" fill-opacity="0.85"/>
<rect x="506.44" y="358.85" width="1.1" height="1.0" fill="#cf1d3d" fill-opacity="0.85"/>
<rect x="496.31" y="358.95" width="1.1" height="1.0" fill="#cf1d3d" fill-opacity="0.85"/>
<rect x="498.76" y="349.87" width="1.1" height="1.0" fill="#cf1d3d" fill-opacity="0.85"/>
<rect x="506.27" y="365.18" width="1.1" height="1.0" fill="#cf1d3d" fill-opacity="0.85"/>
<rect x="497.58" y="359.58" width="1.1" height="1.0" fill="#cf1d3d" fill-opacity="0.85"/>
<rect x="496.01" y="363.88" width="1.1" height="1.0" fill="#cf1d3d" fill-opacity="0.85"/>
<rect x="502.99" y="360.06" width="1.1" height="1.0" fill="#cf1d3d" fill-opacity="0.85"/>
<rect x="503.01" y="363.57" width="1.1" height="1.0" fill="#cf1d3d" fill-opacity="0.85"/>
<rect x="495.77" y="355.40" width="1.1" height="1.0" fill="#cf1d3d" fill-opacity="0.85"/>
<rect x="506.63" y="353.05" width="1.1" height="1.0" fill="#cf1d3d" fill-opacity="0.85"/>
<line x1="448.60" y1="384.70" x2="448.60" y2="347.80" stroke="#111" stroke-width="1.2"/>
<line x1="448.00" y1="384.20" x2="508.40" y2="384.20" stroke="#111" stroke-width="1.2"/>
<line x1="446.40" y1="383.10" x2="448.60" y2="383.10" stroke="#111" stroke-width="1.0"/>
<text x="444.00" y="386.65" font-size="8.3" text-anchor="end" fill="#111">0</text>
<line x1="446.40" y1="366.00" x2="448.60" y2="366.00" stroke="#111" stroke-width="1.0"/>
<text x="444.00" y="369.55" font-size="8.3" text-anchor="end" fill="#111">1</text>
<line x1="446.40" y1="348.90" x2="448.60" y2="348.90" stroke="#111" stroke-width="1.0"/>
<text x="444.00" y="352.45" font-size="8.3" text-anchor="end" fill="#111">2</text>
<line x1="457.10" y1="384.20" x2="457.10" y2="386.10" stroke="#111" stroke-width="1.0"/>
<text x="457.10" y="395.55" font-size="8.3" text-anchor="middle" fill="#111">2</text>
<line x1="471.80" y1="384.20" x2="471.80" y2="386.10" stroke="#111" stroke-width="1.0"/>
<text x="471.80" y="395.55" font-size="8.3" text-anchor="middle" fill="#111">3</text>
<line x1="486.40" y1="384.20" x2="486.40" y2="386.10" stroke="#111" stroke-width="1.0"/>
<text x="486.40" y="395.55" font-size="8.3" text-anchor="middle" fill="#111">4</text>
<line x1="501.20" y1="384.20" x2="501.20" y2="386.10" stroke="#111" stroke-width="1.0"/>
<text x="501.20" y="395.55" font-size="8.3" text-anchor="middle" fill="#111">5</text>
<text x="326.20" y="411.27" font-size="9.2" text-anchor="middle" font-style="italic" fill="#111">Trbv13-1</text>
<line x1="304.20" y1="449.30" x2="304.20" y2="423.23" stroke="#a9c9ab" stroke-width="1.0"/>
<rect x="297.90" y="448.00" width="12.60" height="1.80" fill="#7fcf88"/>
<rect x="306.33" y="424.70" width="1.1" height="1.0" fill="#2fae45" fill-opacity="0.85"/>
<rect x="306.52" y="430.58" width="1.1" height="1.0" fill="#2fae45" fill-opacity="0.85"/>
<rect x="304.93" y="429.47" width="1.1" height="1.0" fill="#2fae45" fill-opacity="0.85"/>
<rect x="299.16" y="428.03" width="1.1" height="1.0" fill="#2fae45" fill-opacity="0.85"/>
<rect x="308.17" y="437.24" width="1.1" height="1.0" fill="#2fae45" fill-opacity="0.85"/>
<rect x="299.12" y="423.18" width="1.1" height="1.0" fill="#2fae45" fill-opacity="0.85"/>
<rect x="307.64" y="426.97" width="1.1" height="1.0" fill="#2fae45" fill-opacity="0.85"/>
<rect x="298.00" y="428.23" width="1.1" height="1.0" fill="#2fae45" fill-opacity="0.85"/>
<rect x="299.23" y="429.54" width="1.1" height="1.0" fill="#2fae45" fill-opacity="0.85"/>
<rect x="303.98" y="427.66" width="1.1" height="1.0" fill="#2fae45" fill-opacity="0.85"/>
<rect x="306.50" y="427.91" width="1.1" height="1.0" fill="#2fae45" fill-opacity="0.85"/>
<rect x="306.38" y="425.44" width="1.1" height="1.0" fill="#2fae45" fill-opacity="0.85"/>
<rect x="304.57" y="437.06" width="1.1" height="1.0" fill="#2fae45" fill-opacity="0.85"/>
<rect x="307.62" y="425.65" width="1.1" height="1.0" fill="#2fae45" fill-opacity="0.85"/>
<rect x="304.66" y="429.86" width="1.1" height="1.0" fill="#2fae45" fill-opacity="0.85"/>
<rect x="309.05" y="425.34" width="1.1" height="1.0" fill="#2fae45" fill-opacity="0.85"/>
<rect x="300.71" y="433.85" width="1.1" height="1.0" fill="#2fae45" fill-opacity="0.85"/>
<rect x="301.08" y="433.53" width="1.1" height="1.0" fill="#2fae45" fill-opacity="0.85"/>
<rect x="308.34" y="426.93" width="1.1" height="1.0" fill="#2fae45" fill-opacity="0.85"/>
<rect x="306.20" y="425.31" width="1.1" height="1.0" fill="#2fae45" fill-opacity="0.85"/>
<rect x="301.26" y="433.47" width="1.1" height="1.0" fill="#2fae45" fill-opacity="0.85"/>
<rect x="302.74" y="432.53" width="1.1" height="1.0" fill="#2fae45" fill-opacity="0.85"/>
<rect x="300.73" y="429.58" width="1.1" height="1.0" fill="#2fae45" fill-opacity="0.85"/>
<rect x="298.86" y="423.64" width="1.1" height="1.0" fill="#2fae45" fill-opacity="0.85"/>
<rect x="298.78" y="427.06" width="1.1" height="1.0" fill="#2fae45" fill-opacity="0.85"/>
<rect x="303.52" y="436.67" width="1.1" height="1.0" fill="#2fae45" fill-opacity="0.85"/>
<rect x="304.46" y="430.25" width="1.1" height="1.0" fill="#2fae45" fill-opacity="0.85"/>
<rect x="301.20" y="428.87" width="1.1" height="1.0" fill="#2fae45" fill-opacity="0.85"/>
<rect x="304.30" y="437.26" width="1.1" height="1.0" fill="#2fae45" fill-opacity="0.85"/>
<rect x="307.53" y="433.78" width="1.1" height="1.0" fill="#2fae45" fill-opacity="0.85"/>
<rect x="303.03" y="432.60" width="1.1" height="1.0" fill="#2fae45" fill-opacity="0.85"/>
<rect x="303.04" y="429.90" width="1.1" height="1.0" fill="#2fae45" fill-opacity="0.85"/>
<rect x="298.23" y="431.62" width="1.1" height="1.0" fill="#2fae45" fill-opacity="0.85"/>
<rect x="304.22" y="435.70" width="1.1" height="1.0" fill="#2fae45" fill-opacity="0.85"/>
<rect x="304.48" y="437.56" width="1.1" height="1.0" fill="#2fae45" fill-opacity="0.85"/>
<rect x="302.34" y="432.35" width="1.1" height="1.0" fill="#2fae45" fill-opacity="0.85"/>
<rect x="304.64" y="432.27" width="1.1" height="1.0" fill="#2fae45" fill-opacity="0.85"/>
<rect x="303.43" y="432.70" width="1.1" height="1.0" fill="#2fae45" fill-opacity="0.85"/>
<rect x="301.67" y="433.58" width="1.1" height="1.0" fill="#2fae45" fill-opacity="0.85"/>
<rect x="301.63" y="436.60" width="1.1" height="1.0" fill="#2fae45" fill-opacity="0.85"/>
<rect x="305.92" y="432.27" width="1.1" height="1.0" fill="#2fae45" fill-opacity="0.85"/>
<rect x="309.46" y="426.47" width="1.1" height="1.0" fill="#2fae45" fill-opacity="0.85"/>
<rect x="301.41" y="434.67" width="1.1" height="1.0" fill="#2fae45" fill-opacity="0.85"/>
<rect x="302.06" y="427.26" width="1.1" height="1.0" fill="#2fae45" fill-opacity="0.85"/>
<rect x="307.50" y="431.34" width="1.1" height="1.0" fill="#2fae45" fill-opacity="0.85"/>
<line x1="318.90" y1="449.30" x2="318.90" y2="418.49" stroke="#a4a4a4" stroke-width="1.6"/>
<rect x="312.60" y="448.00" width="12.60" height="1.80" fill="#8e8e8e"/>
<rect x="322.86" y="420.32" width="1.1" height="1.0" fill="#262626" fill-opacity="0.85"/>
<rect x="323.73" y="425.40" width="1.1" height="1.0" fill="#262626" fill-opacity="0.85"/>
<rect x="316.39" y="428.53" width="1.1" height="1.0" fill="#262626" fill-opacity="0.85"/>
<rect x="319.97" y="430.70" width="1.1" height="1.0" fill="#262626" fill-opacity="0.85"/>
<rect x="322.98" y="425.70" width="1.1" height="1.0" fill="#262626" fill-opacity="0.85"/>
<rect x="319.92" y="426.27" width="1.1" height="1.0" fill="#262626" fill-opacity="0.85"/>
<rect x="315.87" y="424.12" width="1.1" height="1.0" fill="#262626" fill-opacity="0.85"/>
<rect x="322.83" y="422.45" width="1.1" height="1.0" fill="#262626" fill-opacity="0.85"/>
<rect x="321.33" y="428.45" width="1.1" height="1.0" fill="#262626" fill-opacity="0.85"/>
<rect x="316.23" y="419.32" width="1.1" height="1.0" fill="#262626" fill-opacity="0.85"/>
<rect x="317.20" y="426.81" width="1.1" height="1.0" fill="#262626" fill-opacity="0.85"/>
<rect x="319.53" y="420.98" width="1.1" height="1.0" fill="#262626" fill-opacity="0.85"/>
<rect x="317.44" y="430.71" width="1.1" height="1.0" fill="#262626" fill-opacity="0.85"/>
<rect x="314.03" y="419.29" width="1.1" height="1.0" fill="#262626" fill-opacity="0.85"/>
<rect x="320.57" y="425.18" width="1.1" height="1.0" fill="#262626" fill-opacity="0.85"/>
<rect x="318.96" y="436.67" width="1.1" height="1.0" fill="#262626" fill-opacity="0.85"/>
<rect x="312.51" y="419.08" width="1.1" height="1.0" fill="#262626" fill-opacity="0.85"/>
<rect x="318.25" y="434.70" width="1.1" height="1.0" fill="#262626" fill-opacity="0.85"/>
<rect x="315.30" y="422.49" width="1.1" height="1.0" fill="#262626" fill-opacity="0.85"/>
<rect x="317.94" y="426.22" width="1.1" height="1.0" fill="#262626" fill-opacity="0.85"/>
<rect x="315.53" y="430.88" width="1.1" height="1.0" fill="#262626" fill-opacity="0.85"/>
<rect x="312.54" y="435.18" width="1.1" height="1.0" fill="#262626" fill-opacity="0.85"/>
<rect x="319.00" y="426.78" width="1.1" height="1.0" fill="#262626" fill-opacity="0.85"/>
<rect x="323.61" y="425.55" width="1.1" height="1.0" fill="#262626" fill-opacity="0.85"/>
<rect x="318.75" y="425.72" width="1.1" height="1.0" fill="#262626" fill-opacity="0.85"/>
<rect x="321.41" y="421.44" width="1.1" height="1.0" fill="#262626" fill-opacity="0.85"/>
<rect x="322.06" y="433.12" width="1.1" height="1.0" fill="#262626" fill-opacity="0.85"/>
<rect x="317.60" y="426.81" width="1.1" height="1.0" fill="#262626" fill-opacity="0.85"/>
<rect x="321.61" y="423.17" width="1.1" height="1.0" fill="#262626" fill-opacity="0.85"/>
<rect x="319.35" y="424.54" width="1.1" height="1.0" fill="#262626" fill-opacity="0.85"/>
<rect x="318.12" y="434.40" width="1.1" height="1.0" fill="#262626" fill-opacity="0.85"/>
<rect x="320.24" y="424.32" width="1.1" height="1.0" fill="#262626" fill-opacity="0.85"/>
<rect x="318.57" y="420.13" width="1.1" height="1.0" fill="#262626" fill-opacity="0.85"/>
<rect x="323.72" y="428.65" width="1.1" height="1.0" fill="#262626" fill-opacity="0.85"/>
<rect x="313.69" y="439.79" width="1.1" height="1.0" fill="#262626" fill-opacity="0.85"/>
<rect x="320.68" y="428.25" width="1.1" height="1.0" fill="#262626" fill-opacity="0.85"/>
<rect x="315.81" y="420.38" width="1.1" height="1.0" fill="#262626" fill-opacity="0.85"/>
<rect x="321.58" y="421.95" width="1.1" height="1.0" fill="#262626" fill-opacity="0.85"/>
<rect x="313.03" y="428.95" width="1.1" height="1.0" fill="#262626" fill-opacity="0.85"/>
<rect x="321.89" y="426.91" width="1.1" height="1.0" fill="#262626" fill-opacity="0.85"/>
<rect x="318.66" y="425.74" width="1.1" height="1.0" fill="#262626" fill-opacity="0.85"/>
<rect x="316.30" y="420.54" width="1.1" height="1.0" fill="#262626" fill-opacity="0.85"/>
<rect x="316.68" y="428.62" width="1.1" height="1.0" fill="#262626" fill-opacity="0.85"/>
<rect x="313.69" y="428.96" width="1.1" height="1.0" fill="#262626" fill-opacity="0.85"/>
<rect x="320.20" y="424.50" width="1.1" height="1.0" fill="#262626" fill-opacity="0.85"/>
<rect x="320.91" y="428.76" width="1.1" height="1.0" fill="#262626" fill-opacity="0.85"/>
<rect x="315.69" y="421.93" width="1.1" height="1.0" fill="#262626" fill-opacity="0.85"/>
<rect x="316.29" y="430.62" width="1.1" height="1.0" fill="#262626" fill-opacity="0.85"/>
<rect x="320.40" y="425.18" width="1.1" height="1.0" fill="#262626" fill-opacity="0.85"/>
<rect x="313.72" y="422.83" width="1.1" height="1.0" fill="#262626" fill-opacity="0.85"/>
<rect x="320.44" y="423.95" width="1.1" height="1.0" fill="#262626" fill-opacity="0.85"/>
<rect x="318.19" y="430.37" width="1.1" height="1.0" fill="#262626" fill-opacity="0.85"/>
<rect x="322.24" y="429.77" width="1.1" height="1.0" fill="#262626" fill-opacity="0.85"/>
<rect x="320.81" y="431.64" width="1.1" height="1.0" fill="#262626" fill-opacity="0.85"/>
<rect x="314.10" y="427.49" width="1.1" height="1.0" fill="#262626" fill-opacity="0.85"/>
<rect x="321.41" y="427.67" width="1.1" height="1.0" fill="#262626" fill-opacity="0.85"/>
<rect x="320.03" y="437.72" width="1.1" height="1.0" fill="#262626" fill-opacity="0.85"/>
<rect x="322.28" y="419.94" width="1.1" height="1.0" fill="#262626" fill-opacity="0.85"/>
<rect x="320.29" y="427.10" width="1.1" height="1.0" fill="#262626" fill-opacity="0.85"/>
<rect x="323.65" y="438.90" width="1.1" height="1.0" fill="#262626" fill-opacity="0.85"/>
<line x1="333.50" y1="449.30" x2="333.50" y2="425.60" stroke="#76a3d4" stroke-width="1.0"/>
<rect x="327.20" y="448.00" width="12.60" height="1.80" fill="#6e9ccb"/>
<rect x="328.32" y="436.95" width="1.1" height="1.0" fill="#245f9e" fill-opacity="0.85"/>
<rect x="330.03" y="431.09" width="1.1" height="1.0" fill="#245f9e" fill-opacity="0.85"/>
<rect x="327.52" y="426.67" width="1.1" height="1.0" fill="#245f9e" fill-opacity="0.85"/>
<rect x="327.33" y="438.05" width="1.1" height="1.0" fill="#245f9e" fill-opacity="0.85"/>
<rect x="331.33" y="439.77" width="1.1" height="1.0" fill="#245f9e" fill-opacity="0.85"/>
<rect x="327.24" y="431.35" width="1.1" height="1.0" fill="#245f9e" fill-opacity="0.85"/>
<rect x="335.70" y="433.88" width="1.1" height="1.0" fill="#245f9e" fill-opacity="0.85"/>
<rect x="335.01" y="431.22" width="1.1" height="1.0" fill="#245f9e" fill-opacity="0.85"/>
<rect x="329.37" y="437.03" width="1.1" height="1.0" fill="#245f9e" fill-opacity="0.85"/>
<rect x="329.56" y="437.47" width="1.1" height="1.0" fill="#245f9e" fill-opacity="0.85"/>
<rect x="337.42" y="434.07" width="1.1" height="1.0" fill="#245f9e" fill-opacity="0.85"/>
<rect x="335.25" y="429.31" width="1.1" height="1.0" fill="#245f9e" fill-opacity="0.85"/>
<rect x="332.56" y="442.13" width="1.1" height="1.0" fill="#245f9e" fill-opacity="0.85"/>
<rect x="337.99" y="438.88" width="1.1" height="1.0" fill="#245f9e" fill-opacity="0.85"/>
<rect x="329.83" y="432.26" width="1.1" height="1.0" fill="#245f9e" fill-opacity="0.85"/>
<line x1="348.30" y1="449.30" x2="348.30" y2="415.33" stroke="#e06a80" stroke-width="1.0"/>
<rect x="342.00" y="448.00" width="12.60" height="1.80" fill="#e0707f"/>
<rect x="348.25" y="435.01" width="1.1" height="1.0" fill="#cf1d3d" fill-opacity="0.85"/>
<rect x="349.63" y="440.94" width="1.1" height="1.0" fill="#cf1d3d" fill-opacity="0.85"/>
<rect x="350.71" y="424.93" width="1.1" height="1.0" fill="#cf1d3d" fill-opacity="0.85"/>
<rect x="350.73" y="433.54" width="1.1" height="1.0" fill="#cf1d3d" fill-opacity="0.85"/>
<rect x="353.58" y="432.46" width="1.1" height="1.0" fill="#cf1d3d" fill-opacity="0.85"/>
<rect x="344.60" y="436.39" width="1.1" height="1.0" fill="#cf1d3d" fill-opacity="0.85"/>
<rect x="343.22" y="437.60" width="1.1" height="1.0" fill="#cf1d3d" fill-opacity="0.85"/>
<rect x="350.53" y="438.14" width="1.1" height="1.0" fill="#cf1d3d" fill-opacity="0.85"/>
<rect x="347.49" y="426.04" width="1.1" height="1.0" fill="#cf1d3d" fill-opacity="0.85"/>
<rect x="342.38" y="432.05" width="1.1" height="1.0" fill="#cf1d3d" fill-opacity="0.85"/>
<rect x="343.26" y="429.93" width="1.1" height="1.0" fill="#cf1d3d" fill-opacity="0.85"/>
<rect x="343.51" y="431.32" width="1.1" height="1.0" fill="#cf1d3d" fill-opacity="0.85"/>
<rect x="345.86" y="424.28" width="1.1" height="1.0" fill="#cf1d3d" fill-opacity="0.85"/>
<rect x="353.02" y="435.98" width="1.1" height="1.0" fill="#cf1d3d" fill-opacity="0.85"/>
<rect x="353.73" y="417.77" width="1.1" height="1.0" fill="#cf1d3d" fill-opacity="0.85"/>
<rect x="344.66" y="429.19" width="1.1" height="1.0" fill="#cf1d3d" fill-opacity="0.85"/>
<rect x="353.79" y="430.17" width="1.1" height="1.0" fill="#cf1d3d" fill-opacity="0.85"/>
<rect x="344.20" y="433.78" width="1.1" height="1.0" fill="#cf1d3d" fill-opacity="0.85"/>
<rect x="344.68" y="442.34" width="1.1" height="1.0" fill="#cf1d3d" fill-opacity="0.85"/>
<rect x="346.19" y="422.02" width="1.1" height="1.0" fill="#cf1d3d" fill-opacity="0.85"/>
<rect x="347.45" y="424.08" width="1.1" height="1.0" fill="#cf1d3d" fill-opacity="0.85"/>
<rect x="346.43" y="428.05" width="1.1" height="1.0" fill="#cf1d3d" fill-opacity="0.85"/>
<rect x="352.92" y="427.86" width="1.1" height="1.0" fill="#cf1d3d" fill-opacity="0.85"/>
<rect x="342.56" y="434.42" width="1.1" height="1.0" fill="#cf1d3d" fill-opacity="0.85"/>
<rect x="347.00" y="436.68" width="1.1" height="1.0" fill="#cf1d3d" fill-opacity="0.85"/>
<rect x="346.63" y="435.93" width="1.1" height="1.0" fill="#cf1d3d" fill-opacity="0.85"/>
<rect x="351.42" y="421.75" width="1.1" height="1.0" fill="#cf1d3d" fill-opacity="0.85"/>
<rect x="341.86" y="430.88" width="1.1" height="1.0" fill="#cf1d3d" fill-opacity="0.85"/>
<rect x="343.56" y="417.76" width="1.1" height="1.0" fill="#cf1d3d" fill-opacity="0.85"/>
<rect x="345.44" y="425.05" width="1.1" height="1.0" fill="#cf1d3d" fill-opacity="0.85"/>
<rect x="344.18" y="442.43" width="1.1" height="1.0" fill="#cf1d3d" fill-opacity="0.85"/>
<rect x="342.87" y="419.86" width="1.1" height="1.0" fill="#cf1d3d" fill-opacity="0.85"/>
<rect x="353.67" y="431.41" width="1.1" height="1.0" fill="#cf1d3d" fill-opacity="0.85"/>
<rect x="347.87" y="434.59" width="1.1" height="1.0" fill="#cf1d3d" fill-opacity="0.85"/>
<rect x="346.23" y="431.52" width="1.1" height="1.0" fill="#cf1d3d" fill-opacity="0.85"/>
<rect x="346.31" y="435.59" width="1.1" height="1.0" fill="#cf1d3d" fill-opacity="0.85"/>
<rect x="350.58" y="432.54" width="1.1" height="1.0" fill="#cf1d3d" fill-opacity="0.85"/>
<rect x="350.76" y="433.67" width="1.1" height="1.0" fill="#cf1d3d" fill-opacity="0.85"/>
<rect x="353.12" y="416.51" width="1.1" height="1.0" fill="#cf1d3d" fill-opacity="0.85"/>
<rect x="350.36" y="421.09" width="1.1" height="1.0" fill="#cf1d3d" fill-opacity="0.85"/>
<rect x="343.99" y="417.46" width="1.1" height="1.0" fill="#cf1d3d" fill-opacity="0.85"/>
<rect x="343.93" y="421.97" width="1.1" height="1.0" fill="#cf1d3d" fill-opacity="0.85"/>
<rect x="344.32" y="433.54" width="1.1" height="1.0" fill="#cf1d3d" fill-opacity="0.85"/>
<rect x="344.60" y="416.30" width="1.1" height="1.0" fill="#cf1d3d" fill-opacity="0.85"/>
<rect x="352.51" y="429.18" width="1.1" height="1.0" fill="#cf1d3d" fill-opacity="0.85"/>
<line x1="295.70" y1="450.90" x2="295.70" y2="414.30" stroke="#111" stroke-width="1.2"/>
<line x1="295.10" y1="450.40" x2="355.50" y2="450.40" stroke="#111" stroke-width="1.2"/>
<line x1="293.50" y1="449.30" x2="295.70" y2="449.30" stroke="#111" stroke-width="1.0"/>
<text x="291.10" y="452.85" font-size="8.3" text-anchor="end" fill="#111">0</text>
<line x1="293.50" y1="441.40" x2="295.70" y2="441.40" stroke="#111" stroke-width="1.0"/>
<text x="291.10" y="444.95" font-size="8.3" text-anchor="end" fill="#111">1</text>
<line x1="293.50" y1="433.50" x2="295.70" y2="433.50" stroke="#111" stroke-width="1.0"/>
<text x="291.10" y="437.05" font-size="8.3" text-anchor="end" fill="#111">2</text>
<line x1="293.50" y1="425.60" x2="295.70" y2="425.60" stroke="#111" stroke-width="1.0"/>
<text x="291.10" y="429.15" font-size="8.3" text-anchor="end" fill="#111">3</text>
<line x1="293.50" y1="417.70" x2="295.70" y2="417.70" stroke="#111" stroke-width="1.0"/>
<text x="291.10" y="421.25" font-size="8.3" text-anchor="end" fill="#111">4</text>
<line x1="304.20" y1="450.40" x2="304.20" y2="452.30" stroke="#111" stroke-width="1.0"/>
<text x="304.20" y="463.15" font-size="8.3" text-anchor="middle" fill="#111">2</text>
<line x1="318.90" y1="450.40" x2="318.90" y2="452.30" stroke="#111" stroke-width="1.0"/>
<text x="318.90" y="463.15" font-size="8.3" text-anchor="middle" fill="#111">3</text>
<line x1="333.50" y1="450.40" x2="333.50" y2="452.30" stroke="#111" stroke-width="1.0"/>
<text x="333.50" y="463.15" font-size="8.3" text-anchor="middle" fill="#111">4</text>
<line x1="348.30" y1="450.40" x2="348.30" y2="452.30" stroke="#111" stroke-width="1.0"/>
<text x="348.30" y="463.15" font-size="8.3" text-anchor="middle" fill="#111">5</text>
<text x="400.50" y="411.27" font-size="9.2" text-anchor="middle" font-style="italic" fill="#111">Trbv13-2</text>
<line x1="378.50" y1="449.30" x2="378.50" y2="418.15" stroke="#a9c9ab" stroke-width="1.0"/>
<rect x="372.20" y="448.00" width="12.60" height="1.80" fill="#7fcf88"/>
<rect x="380.78" y="434.64" width="1.1" height="1.0" fill="#2fae45" fill-opacity="0.85"/>
<rect x="380.57" y="430.16" width="1.1" height="1.0" fill="#2fae45" fill-opacity="0.85"/>
<rect x="381.68" y="424.73" width="1.1" height="1.0" fill="#2fae45" fill-opacity="0.85"/>
<rect x="382.74" y="426.77" width="1.1" height="1.0" fill="#2fae45" fill-opacity="0.85"/>
<rect x="373.42" y="430.60" width="1.1" height="1.0" fill="#2fae45" fill-opacity="0.85"/>
<rect x="379.75" y="434.62" width="1.1" height="1.0" fill="#2fae45" fill-opacity="0.85"/>
<rect x="382.35" y="436.32" width="1.1" height="1.0" fill="#2fae45" fill-opacity="0.85"/>
<rect x="375.87" y="437.23" width="1.1" height="1.0" fill="#2fae45" fill-opacity="0.85"/>
<rect x="379.46" y="434.53" width="1.1" height="1.0" fill="#2fae45" fill-opacity="0.85"/>
<rect x="377.60" y="436.11" width="1.1" height="1.0" fill="#2fae45" fill-opacity="0.85"/>
<rect x="378.44" y="436.32" width="1.1" height="1.0" fill="#2fae45" fill-opacity="0.85"/>
<rect x="378.82" y="431.28" width="1.1" height="1.0" fill="#2fae45" fill-opacity="0.85"/>
<rect x="373.20" y="426.57" width="1.1" height="1.0" fill="#2fae45" fill-opacity="0.85"/>
<rect x="381.94" y="441.52" width="1.1" height="1.0" fill="#2fae45" fill-opacity="0.85"/>
<rect x="375.03" y="438.43" width="1.1" height="1.0" fill="#2fae45" fill-opacity="0.85"/>
<rect x="376.20" y="444.93" width="1.1" height="1.0" fill="#2fae45" fill-opacity="0.85"/>
<rect x="383.90" y="422.82" width="1.1" height="1.0" fill="#2fae45" fill-opacity="0.85"/>
<rect x="372.49" y="426.83" width="1.1" height="1.0" fill="#2fae45" fill-opacity="0.85"/>
<rect x="380.01" y="418.07" width="1.1" height="1.0" fill="#2fae45" fill-opacity="0.85"/>
<rect x="379.59" y="427.98" width="1.1" height="1.0" fill="#2fae45" fill-opacity="0.85"/>
<rect x="382.97" y="439.48" width="1.1" height="1.0" fill="#2fae45" fill-opacity="0.85"/>
<rect x="378.27" y="426.57" width="1.1" height="1.0" fill="#2fae45" fill-opacity="0.85"/>
<rect x="372.48" y="431.15" width="1.1" height="1.0" fill="#2fae45" fill-opacity="0.85"/>
<rect x="373.92" y="433.93" width="1.1" height="1.0" fill="#2fae45" fill-opacity="0.85"/>
<rect x="379.50" y="428.29" width="1.1" height="1.0" fill="#2fae45" fill-opacity="0.85"/>
<rect x="372.12" y="427.50" width="1.1" height="1.0" fill="#2fae45" fill-opacity="0.85"/>
<rect x="381.76" y="428.97" width="1.1" height="1.0" fill="#2fae45" fill-opacity="0.85"/>
<rect x="379.45" y="430.94" width="1.1" height="1.0" fill="#2fae45" fill-opacity="0.85"/>
<rect x="380.61" y="428.29" width="1.1" height="1.0" fill="#2fae45" fill-opacity="0.85"/>
<rect x="378.42" y="437.17" width="1.1" height="1.0" fill="#2fae45" fill-opacity="0.85"/>
<rect x="380.63" y="437.61" width="1.1" height="1.0" fill="#2fae45" fill-opacity="0.85"/>
<rect x="380.33" y="436.11" width="1.1" height="1.0" fill="#2fae45" fill-opacity="0.85"/>
<rect x="382.30" y="418.33" width="1.1" height="1.0" fill="#2fae45" fill-opacity="0.85"/>
<rect x="378.23" y="420.52" width="1.1" height="1.0" fill="#2fae45" fill-opacity="0.85"/>
<rect x="378.27" y="439.70" width="1.1" height="1.0" fill="#2fae45" fill-opacity="0.85"/>
<rect x="372.34" y="432.01" width="1.1" height="1.0" fill="#2fae45" fill-opacity="0.85"/>
<rect x="383.00" y="440.37" width="1.1" height="1.0" fill="#2fae45" fill-opacity="0.85"/>
<rect x="377.43" y="428.47" width="1.1" height="1.0" fill="#2fae45" fill-opacity="0.85"/>
<rect x="373.12" y="423.27" width="1.1" height="1.0" fill="#2fae45" fill-opacity="0.85"/>
<rect x="381.76" y="439.43" width="1.1" height="1.0" fill="#2fae45" fill-opacity="0.85"/>
<rect x="379.35" y="435.54" width="1.1" height="1.0" fill="#2fae45" fill-opacity="0.85"/>
<rect x="383.51" y="434.25" width="1.1" height="1.0" fill="#2fae45" fill-opacity="0.85"/>
<rect x="379.64" y="422.44" width="1.1" height="1.0" fill="#2fae45" fill-opacity="0.85"/>
<rect x="380.28" y="430.45" width="1.1" height="1.0" fill="#2fae45" fill-opacity="0.85"/>
<rect x="374.53" y="431.94" width="1.1" height="1.0" fill="#2fae45" fill-opacity="0.85"/>
<rect x="374.13" y="427.72" width="1.1" height="1.0" fill="#2fae45" fill-opacity="0.85"/>
<rect x="373.03" y="425.60" width="1.1" height="1.0" fill="#2fae45" fill-opacity="0.85"/>
<rect x="374.99" y="429.80" width="1.1" height="1.0" fill="#2fae45" fill-opacity="0.85"/>
<rect x="381.59" y="426.05" width="1.1" height="1.0" fill="#2fae45" fill-opacity="0.85"/>
<rect x="372.66" y="426.93" width="1.1" height="1.0" fill="#2fae45" fill-opacity="0.85"/>
<rect x="378.07" y="428.67" width="1.1" height="1.0" fill="#2fae45" fill-opacity="0.85"/>
<rect x="374.85" y="429.90" width="1.1" height="1.0" fill="#2fae45" fill-opacity="0.85"/>
<rect x="374.36" y="422.37" width="1.1" height="1.0" fill="#2fae45" fill-opacity="0.85"/>
<rect x="382.62" y="433.79" width="1.1" height="1.0" fill="#2fae45" fill-opacity="0.85"/>
<rect x="378.75" y="430.84" width="1.1" height="1.0" fill="#2fae45" fill-opacity="0.85"/>
<rect x="383.37" y="438.17" width="1.1" height="1.0" fill="#2fae45" fill-opacity="0.85"/>
<rect x="377.93" y="425.55" width="1.1" height="1.0" fill="#2fae45" fill-opacity="0.85"/>
<rect x="376.56" y="434.97" width="1.1" height="1.0" fill="#2fae45" fill-opacity="0.85"/>
<rect x="381.29" y="427.98" width="1.1" height="1.0" fill="#2fae45" fill-opacity="0.85"/>
<rect x="382.78" y="435.39" width="1.1" height="1.0" fill="#2fae45" fill-opacity="0.85"/>
<rect x="373.60" y="434.78" width="1.1" height="1.0" fill="#2fae45" fill-opacity="0.85"/>
<rect x="382.98" y="438.65" width="1.1" height="1.0" fill="#2fae45" fill-opacity="0.85"/>
<rect x="377.51" y="421.36" width="1.1" height="1.0" fill="#2fae45" fill-opacity="0.85"/>
<rect x="377.12" y="421.94" width="1.1" height="1.0" fill="#2fae45" fill-opacity="0.85"/>
<rect x="372.35" y="430.41" width="1.1" height="1.0" fill="#2fae45" fill-opacity="0.85"/>
<rect x="372.45" y="439.61" width="1.1" height="1.0" fill="#2fae45" fill-opacity="0.85"/>
<rect x="374.14" y="419.07" width="1.1" height="1.0" fill="#2fae45" fill-opacity="0.85"/>
<rect x="375.69" y="424.72" width="1.1" height="1.0" fill="#2fae45" fill-opacity="0.85"/>
<rect x="380.21" y="420.01" width="1.1" height="1.0" fill="#2fae45" fill-opacity="0.85"/>
<rect x="377.26" y="431.55" width="1.1" height="1.0" fill="#2fae45" fill-opacity="0.85"/>
<rect x="373.43" y="432.04" width="1.1" height="1.0" fill="#2fae45" fill-opacity="0.85"/>
<rect x="376.42" y="428.53" width="1.1" height="1.0" fill="#2fae45" fill-opacity="0.85"/>
<rect x="381.75" y="438.91" width="1.1" height="1.0" fill="#2fae45" fill-opacity="0.85"/>
<rect x="373.14" y="429.88" width="1.1" height="1.0" fill="#2fae45" fill-opacity="0.85"/>
<rect x="375.88" y="433.46" width="1.1" height="1.0" fill="#2fae45" fill-opacity="0.85"/>
<rect x="377.13" y="434.01" width="1.1" height="1.0" fill="#2fae45" fill-opacity="0.85"/>
<rect x="383.67" y="423.96" width="1.1" height="1.0" fill="#2fae45" fill-opacity="0.85"/>
<rect x="379.42" y="439.67" width="1.1" height="1.0" fill="#2fae45" fill-opacity="0.85"/>
<rect x="374.80" y="447.04" width="1.1" height="1.0" fill="#2fae45" fill-opacity="0.85"/>
<rect x="379.01" y="434.88" width="1.1" height="1.0" fill="#2fae45" fill-opacity="0.85"/>
<rect x="373.71" y="432.78" width="1.1" height="1.0" fill="#2fae45" fill-opacity="0.85"/>
<rect x="382.73" y="425.56" width="1.1" height="1.0" fill="#2fae45" fill-opacity="0.85"/>
<rect x="374.64" y="433.60" width="1.1" height="1.0" fill="#2fae45" fill-opacity="0.85"/>
<rect x="381.88" y="429.65" width="1.1" height="1.0" fill="#2fae45" fill-opacity="0.85"/>
<rect x="381.94" y="425.88" width="1.1" height="1.0" fill="#2fae45" fill-opacity="0.85"/>
<rect x="373.75" y="431.33" width="1.1" height="1.0" fill="#2fae45" fill-opacity="0.85"/>
<rect x="374.86" y="440.36" width="1.1" height="1.0" fill="#2fae45" fill-opacity="0.85"/>
<rect x="373.54" y="427.71" width="1.1" height="1.0" fill="#2fae45" fill-opacity="0.85"/>
<rect x="375.42" y="431.11" width="1.1" height="1.0" fill="#2fae45" fill-opacity="0.85"/>
<rect x="379.24" y="431.32" width="1.1" height="1.0" fill="#2fae45" fill-opacity="0.85"/>
<rect x="382.75" y="429.94" width="1.1" height="1.0" fill="#2fae45" fill-opacity="0.85"/>
<rect x="375.44" y="428.58" width="1.1" height="1.0" fill="#2fae45" fill-opacity="0.85"/>
<rect x="383.87" y="419.94" width="1.1" height="1.0" fill="#2fae45" fill-opacity="0.85"/>
<rect x="378.54" y="430.59" width="1.1" height="1.0" fill="#2fae45" fill-opacity="0.85"/>
<rect x="379.31" y="423.83" width="1.1" height="1.0" fill="#2fae45" fill-opacity="0.85"/>
<rect x="374.94" y="429.43" width="1.1" height="1.0" fill="#2fae45" fill-opacity="0.85"/>
<rect x="379.89" y="441.21" width="1.1" height="1.0" fill="#2fae45" fill-opacity="0.85"/>
<rect x="381.98" y="425.22" width="1.1" height="1.0" fill="#2fae45" fill-opacity="0.85"/>
<rect x="383.77" y="422.85" width="1.1" height="1.0" fill="#2fae45" fill-opacity="0.85"/>
<rect x="373.41" y="433.70" width="1.1" height="1.0" fill="#2fae45" fill-opacity="0.85"/>
<rect x="383.14" y="441.67" width="1.1" height="1.0" fill="#2fae45" fill-opacity="0.85"/>
<rect x="377.64" y="432.23" width="1.1" height="1.0" fill="#2fae45" fill-opacity="0.85"/>
<rect x="377.64" y="444.88" width="1.1" height="1.0" fill="#2fae45" fill-opacity="0.85"/>
<rect x="372.69" y="425.23" width="1.1" height="1.0" fill="#2fae45" fill-opacity="0.85"/>
<rect x="379.87" y="436.44" width="1.1" height="1.0" fill="#2fae45" fill-opacity="0.85"/>
<rect x="381.80" y="429.35" width="1.1" height="1.0" fill="#2fae45" fill-opacity="0.85"/>
<rect x="382.80" y="425.11" width="1.1" height="1.0" fill="#2fae45" fill-opacity="0.85"/>
<rect x="381.71" y="429.24" width="1.1" height="1.0" fill="#2fae45" fill-opacity="0.85"/>
<rect x="383.45" y="429.58" width="1.1" height="1.0" fill="#2fae45" fill-opacity="0.85"/>
<rect x="382.18" y="437.96" width="1.1" height="1.0" fill="#2fae45" fill-opacity="0.85"/>
<rect x="379.69" y="427.31" width="1.1" height="1.0" fill="#2fae45" fill-opacity="0.85"/>
<rect x="373.58" y="439.15" width="1.1" height="1.0" fill="#2fae45" fill-opacity="0.85"/>
<rect x="372.65" y="429.85" width="1.1" height="1.0" fill="#2fae45" fill-opacity="0.85"/>
<rect x="378.12" y="430.78" width="1.1" height="1.0" fill="#2fae45" fill-opacity="0.85"/>
<rect x="381.46" y="422.28" width="1.1" height="1.0" fill="#2fae45" fill-opacity="0.85"/>
<rect x="381.05" y="434.21" width="1.1" height="1.0" fill="#2fae45" fill-opacity="0.85"/>
<rect x="377.97" y="425.67" width="1.1" height="1.0" fill="#2fae45" fill-opacity="0.85"/>
<rect x="383.10" y="433.01" width="1.1" height="1.0" fill="#2fae45" fill-opacity="0.85"/>
<rect x="376.95" y="436.36" width="1.1" height="1.0" fill="#2fae45" fill-opacity="0.85"/>
<rect x="373.84" y="421.40" width="1.1" height="1.0" fill="#2fae45" fill-opacity="0.85"/>
<rect x="372.35" y="429.10" width="1.1" height="1.0" fill="#2fae45" fill-opacity="0.85"/>
<rect x="382.58" y="424.61" width="1.1" height="1.0" fill="#2fae45" fill-opacity="0.85"/>
<rect x="381.60" y="434.30" width="1.1" height="1.0" fill="#2fae45" fill-opacity="0.85"/>
<rect x="372.07" y="426.88" width="1.1" height="1.0" fill="#2fae45" fill-opacity="0.85"/>
<rect x="373.08" y="430.46" width="1.1" height="1.0" fill="#2fae45" fill-opacity="0.85"/>
<rect x="376.77" y="438.81" width="1.1" height="1.0" fill="#2fae45" fill-opacity="0.85"/>
<rect x="375.41" y="429.03" width="1.1" height="1.0" fill="#2fae45" fill-opacity="0.85"/>
<rect x="374.14" y="431.23" width="1.1" height="1.0" fill="#2fae45" fill-opacity="0.85"/>
<rect x="382.18" y="435.03" width="1.1" height="1.0" fill="#2fae45" fill-opacity="0.85"/>
<rect x="376.37" y="433.63" width="1.1" height="1.0" fill="#2fae45" fill-opacity="0.85"/>
<rect x="374.76" y="427.60" width="1.1" height="1.0" fill="#2fae45" fill-opacity="0.85"/>
<rect x="372.32" y="432.16" width="1.1" height="1.0" fill="#2fae45" fill-opacity="0.85"/>
<rect x="379.05" y="426.69" width="1.1" height="1.0" fill="#2fae45" fill-opacity="0.85"/>
<rect x="378.61" y="429.80" width="1.1" height="1.0" fill="#2fae45" fill-opacity="0.85"/>
<rect x="379.19" y="431.82" width="1.1" height="1.0" fill="#2fae45" fill-opacity="0.85"/>
<rect x="383.81" y="436.19" width="1.1" height="1.0" fill="#2fae45" fill-opacity="0.85"/>
<rect x="374.23" y="433.31" width="1.1" height="1.0" fill="#2fae45" fill-opacity="0.85"/>
<rect x="383.58" y="426.35" width="1.1" height="1.0" fill="#2fae45" fill-opacity="0.85"/>
<rect x="377.95" y="436.48" width="1.1" height="1.0" fill="#2fae45" fill-opacity="0.85"/>
<rect x="372.96" y="437.34" width="1.1" height="1.0" fill="#2fae45" fill-opacity="0.85"/>
<rect x="375.02" y="429.35" width="1.1" height="1.0" fill="#2fae45" fill-opacity="0.85"/>
<rect x="378.17" y="420.14" width="1.1" height="1.0" fill="#2fae45" fill-opacity="0.85"/>
<rect x="377.67" y="427.32" width="1.1" height="1.0" fill="#2fae45" fill-opacity="0.85"/>
<rect x="381.15" y="433.61" width="1.1" height="1.0" fill="#2fae45" fill-opacity="0.85"/>
<rect x="382.93" y="431.54" width="1.1" height="1.0" fill="#2fae45" fill-opacity="0.85"/>
<rect x="378.93" y="444.36" width="1.1" height="1.0" fill="#2fae45" fill-opacity="0.85"/>
<rect x="383.12" y="429.76" width="1.1" height="1.0" fill="#2fae45" fill-opacity="0.85"/>
<rect x="374.38" y="422.65" width="1.1" height="1.0" fill="#2fae45" fill-opacity="0.85"/>
<rect x="382.54" y="432.33" width="1.1" height="1.0" fill="#2fae45" fill-opacity="0.85"/>
<rect x="373.17" y="426.51" width="1.1" height="1.0" fill="#2fae45" fill-opacity="0.85"/>
<rect x="380.75" y="425.39" width="1.1" height="1.0" fill="#2fae45" fill-opacity="0.85"/>
<rect x="377.06" y="423.10" width="1.1" height="1.0" fill="#2fae45" fill-opacity="0.85"/>
<rect x="376.68" y="431.14" width="1.1" height="1.0" fill="#2fae45" fill-opacity="0.85"/>
<rect x="372.88" y="442.20" width="1.1" height="1.0" fill="#2fae45" fill-opacity="0.85"/>
<rect x="383.51" y="434.63" width="1.1" height="1.0" fill="#2fae45" fill-opacity="0.85"/>
<rect x="380.42" y="440.28" width="1.1" height="1.0" fill="#2fae45" fill-opacity="0.85"/>
<rect x="375.69" y="426.71" width="1.1" height="1.0" fill="#2fae45" fill-opacity="0.85"/>
<rect x="380.71" y="429.25" width="1.1" height="1.0" fill="#2fae45" fill-opacity="0.85"/>
<rect x="374.24" y="432.94" width="1.1" height="1.0" fill="#2fae45" fill-opacity="0.85"/>
<rect x="375.26" y="426.20" width="1.1" height="1.0" fill="#2fae45" fill-opacity="0.85"/>
<rect x="382.17" y="442.23" width="1.1" height="1.0" fill="#2fae45" fill-opacity="0.85"/>
<rect x="373.20" y="430.85" width="1.1" height="1.0" fill="#2fae45" fill-opacity="0.85"/>
<rect x="376.75" y="437.20" width="1.1" height="1.0" fill="#2fae45" fill-opacity="0.85"/>
<rect x="381.89" y="423.70" width="1.1" height="1.0" fill="#2fae45" fill-opacity="0.85"/>
<rect x="372.48" y="423.74" width="1.1" height="1.0" fill="#2fae45" fill-opacity="0.85"/>
<rect x="376.37" y="425.80" width="1.1" height="1.0" fill="#2fae45" fill-opacity="0.85"/>
<rect x="373.38" y="427.96" width="1.1" height="1.0" fill="#2fae45" fill-opacity="0.85"/>
<rect x="383.47" y="424.63" width="1.1" height="1.0" fill="#2fae45" fill-opacity="0.85"/>
<rect x="378.80" y="427.28" width="1.1" height="1.0" fill="#2fae45" fill-opacity="0.85"/>
<rect x="375.40" y="434.06" width="1.1" height="1.0" fill="#2fae45" fill-opacity="0.85"/>
<rect x="372.28" y="428.73" width="1.1" height="1.0" fill="#2fae45" fill-opacity="0.85"/>
<rect x="382.99" y="428.21" width="1.1" height="1.0" fill="#2fae45" fill-opacity="0.85"/>
<rect x="378.49" y="435.09" width="1.1" height="1.0" fill="#2fae45" fill-opacity="0.85"/>
<rect x="376.14" y="424.87" width="1.1" height="1.0" fill="#2fae45" fill-opacity="0.85"/>
<rect x="373.90" y="428.10" width="1.1" height="1.0" fill="#2fae45" fill-opacity="0.85"/>
<rect x="382.46" y="421.51" width="1.1" height="1.0" fill="#2fae45" fill-opacity="0.85"/>
<rect x="383.21" y="425.78" width="1.1" height="1.0" fill="#2fae45" fill-opacity="0.85"/>
<rect x="375.05" y="430.30" width="1.1" height="1.0" fill="#2fae45" fill-opacity="0.85"/>
<rect x="382.13" y="421.23" width="1.1" height="1.0" fill="#2fae45" fill-opacity="0.85"/>
<rect x="374.28" y="430.13" width="1.1" height="1.0" fill="#2fae45" fill-opacity="0.85"/>
<rect x="382.43" y="431.61" width="1.1" height="1.0" fill="#2fae45" fill-opacity="0.85"/>
<rect x="372.77" y="432.59" width="1.1" height="1.0" fill="#2fae45" fill-opacity="0.85"/>
<rect x="378.85" y="440.92" width="1.1" height="1.0" fill="#2fae45" fill-opacity="0.85"/>
<rect x="378.52" y="438.23" width="1.1" height="1.0" fill="#2fae45" fill-opacity="0.85"/>
<rect x="378.83" y="430.67" width="1.1" height="1.0" fill="#2fae45" fill-opacity="0.85"/>
<rect x="383.67" y="433.51" width="1.1" height="1.0" fill="#2fae45" fill-opacity="0.85"/>
<rect x="373.63" y="437.45" width="1.1" height="1.0" fill="#2fae45" fill-opacity="0.85"/>
<rect x="382.69" y="433.12" width="1.1" height="1.0" fill="#2fae45" fill-opacity="0.85"/>
<rect x="383.57" y="439.61" width="1.1" height="1.0" fill="#2fae45" fill-opacity="0.85"/>
<rect x="380.30" y="446.62" width="1.1" height="1.0" fill="#2fae45" fill-opacity="0.85"/>
<line x1="393.20" y1="449.30" x2="393.20" y2="415.48" stroke="#a4a4a4" stroke-width="1.6"/>
<path d="M386.60,449.50 Q391.20,447.80 392.40,443.90 L394.00,443.90 Q395.20,447.80 399.80,449.50 Z" fill="#b0b0b0" stroke="#4a4a4a" stroke-width="0.6"/>
<rect x="386.90" y="448.00" width="12.60" height="1.80" fill="#8e8e8e"/>
<rect x="395.62" y="423.43" width="1.1" height="1.0" fill="#262626" fill-opacity="0.85"/>
<rect x="391.69" y="442.99" width="1.1" height="1.0" fill="#262626" fill-opacity="0.85"/>
<rect x="389.89" y="437.82" width="1.1" height="1.0" fill="#262626" fill-opacity="0.85"/>
<rect x="396.14" y="443.79" width="1.1" height="1.0" fill="#262626" fill-opacity="0.85"/>
<rect x="391.91" y="437.84" width="1.1" height="1.0" fill="#262626" fill-opacity="0.85"/>
<rect x="397.72" y="436.39" width="1.1" height="1.0" fill="#262626" fill-opacity="0.85"/>
<rect x="392.68" y="429.86" width="1.1" height="1.0" fill="#262626" fill-opacity="0.85"/>
<rect x="387.98" y="431.02" width="1.1" height="1.0" fill="#262626" fill-opacity="0.85"/>
<rect x="390.99" y="421.49" width="1.1" height="1.0" fill="#262626" fill-opacity="0.85"/>
<rect x="390.91" y="445.34" width="1.1" height="1.0" fill="#262626" fill-opacity="0.85"/>
<rect x="394.36" y="440.30" width="1.1" height="1.0" fill="#262626" fill-opacity="0.85"/>
<rect x="397.43" y="445.21" width="1.1" height="1.0" fill="#262626" fill-opacity="0.85"/>
<rect x="394.95" y="436.57" width="1.1" height="1.0" fill="#262626" fill-opacity="0.85"/>
<rect x="395.61" y="424.82" width="1.1" height="1.0" fill="#262626" fill-opacity="0.85"/>
<rect x="396.86" y="437.17" width="1.1" height="1.0" fill="#262626" fill-opacity="0.85"/>
<rect x="394.71" y="427.19" width="1.1" height="1.0" fill="#262626" fill-opacity="0.85"/>
<rect x="391.08" y="437.58" width="1.1" height="1.0" fill="#262626" fill-opacity="0.85"/>
<rect x="387.73" y="433.10" width="1.1" height="1.0" fill="#262626" fill-opacity="0.85"/>
<rect x="389.39" y="431.83" width="1.1" height="1.0" fill="#262626" fill-opacity="0.85"/>
<rect x="394.19" y="428.65" width="1.1" height="1.0" fill="#262626" fill-opacity="0.85"/>
<rect x="393.48" y="445.69" width="1.1" height="1.0" fill="#262626" fill-opacity="0.85"/>
<rect x="390.79" y="437.21" width="1.1" height="1.0" fill="#262626" fill-opacity="0.85"/>
<rect x="386.93" y="440.19" width="1.1" height="1.0" fill="#262626" fill-opacity="0.85"/>
<rect x="388.66" y="420.32" width="1.1" height="1.0" fill="#262626" fill-opacity="0.85"/>
<rect x="391.47" y="435.94" width="1.1" height="1.0" fill="#262626" fill-opacity="0.85"/>
<rect x="388.60" y="430.51" width="1.1" height="1.0" fill="#262626" fill-opacity="0.85"/>
<rect x="391.40" y="443.17" width="1.1" height="1.0" fill="#262626" fill-opacity="0.85"/>
<rect x="395.97" y="442.17" width="1.1" height="1.0" fill="#262626" fill-opacity="0.85"/>
<rect x="388.46" y="428.33" width="1.1" height="1.0" fill="#262626" fill-opacity="0.85"/>
<rect x="396.10" y="431.90" width="1.1" height="1.0" fill="#262626" fill-opacity="0.85"/>
<rect x="397.09" y="433.54" width="1.1" height="1.0" fill="#262626" fill-opacity="0.85"/>
<rect x="393.47" y="422.22" width="1.1" height="1.0" fill="#262626" fill-opacity="0.85"/>
<rect x="394.60" y="439.86" width="1.1" height="1.0" fill="#262626" fill-opacity="0.85"/>
<rect x="393.83" y="426.64" width="1.1" height="1.0" fill="#262626" fill-opacity="0.85"/>
<rect x="398.35" y="435.88" width="1.1" height="1.0" fill="#262626" fill-opacity="0.85"/>
<rect x="395.42" y="433.04" width="1.1" height="1.0" fill="#262626" fill-opacity="0.85"/>
<rect x="389.34" y="422.25" width="1.1" height="1.0" fill="#262626" fill-opacity="0.85"/>
<rect x="392.02" y="441.11" width="1.1" height="1.0" fill="#262626" fill-opacity="0.85"/>
<rect x="396.52" y="435.78" width="1.1" height="1.0" fill="#262626" fill-opacity="0.85"/>
<rect x="392.58" y="434.65" width="1.1" height="1.0" fill="#262626" fill-opacity="0.85"/>
<rect x="390.51" y="446.56" width="1.1" height="1.0" fill="#262626" fill-opacity="0.85"/>
<rect x="390.77" y="440.37" width="1.1" height="1.0" fill="#262626" fill-opacity="0.85"/>
<rect x="389.76" y="434.84" width="1.1" height="1.0" fill="#262626" fill-opacity="0.85"/>
<rect x="389.21" y="433.91" width="1.1" height="1.0" fill="#262626" fill-opacity="0.85"/>
<rect x="396.27" y="421.32" width="1.1" height="1.0" fill="#262626" fill-opacity="0.85"/>
<rect x="394.34" y="433.86" width="1.1" height="1.0" fill="#262626" fill-opacity="0.85"/>
<rect x="398.10" y="435.01" width="1.1" height="1.0" fill="#262626" fill-opacity="0.85"/>
<rect x="394.07" y="425.36" width="1.1" height="1.0" fill="#262626" fill-opacity="0.85"/>
<rect x="397.54" y="438.20" width="1.1" height="1.0" fill="#262626" fill-opacity="0.85"/>
<rect x="389.43" y="436.92" width="1.1" height="1.0" fill="#262626" fill-opacity="0.85"/>
<rect x="395.47" y="423.57" width="1.1" height="1.0" fill="#262626" fill-opacity="0.85"/>
<rect x="398.61" y="440.14" width="1.1" height="1.0" fill="#262626" fill-opacity="0.85"/>
<rect x="391.71" y="441.25" width="1.1" height="1.0" fill="#262626" fill-opacity="0.85"/>
<rect x="394.78" y="431.30" width="1.1" height="1.0" fill="#262626" fill-opacity="0.85"/>
<rect x="389.48" y="424.28" width="1.1" height="1.0" fill="#262626" fill-opacity="0.85"/>
<rect x="396.42" y="442.31" width="1.1" height="1.0" fill="#262626" fill-opacity="0.85"/>
<rect x="388.80" y="421.28" width="1.1" height="1.0" fill="#262626" fill-opacity="0.85"/>
<rect x="390.54" y="429.72" width="1.1" height="1.0" fill="#262626" fill-opacity="0.85"/>
<rect x="395.33" y="435.75" width="1.1" height="1.0" fill="#262626" fill-opacity="0.85"/>
<rect x="394.66" y="433.69" width="1.1" height="1.0" fill="#262626" fill-opacity="0.85"/>
<rect x="396.79" y="430.47" width="1.1" height="1.0" fill="#262626" fill-opacity="0.85"/>
<rect x="395.63" y="440.46" width="1.1" height="1.0" fill="#262626" fill-opacity="0.85"/>
<rect x="389.77" y="442.55" width="1.1" height="1.0" fill="#262626" fill-opacity="0.85"/>
<rect x="393.84" y="435.10" width="1.1" height="1.0" fill="#262626" fill-opacity="0.85"/>
<rect x="393.96" y="432.80" width="1.1" height="1.0" fill="#262626" fill-opacity="0.85"/>
<rect x="397.81" y="427.87" width="1.1" height="1.0" fill="#262626" fill-opacity="0.85"/>
<rect x="394.38" y="436.40" width="1.1" height="1.0" fill="#262626" fill-opacity="0.85"/>
<rect x="389.04" y="431.07" width="1.1" height="1.0" fill="#262626" fill-opacity="0.85"/>
<rect x="389.21" y="439.38" width="1.1" height="1.0" fill="#262626" fill-opacity="0.85"/>
<rect x="390.27" y="441.85" width="1.1" height="1.0" fill="#262626" fill-opacity="0.85"/>
<rect x="395.03" y="442.41" width="1.1" height="1.0" fill="#262626" fill-opacity="0.85"/>
<rect x="398.14" y="428.09" width="1.1" height="1.0" fill="#262626" fill-opacity="0.85"/>
<rect x="389.26" y="446.05" width="1.1" height="1.0" fill="#262626" fill-opacity="0.85"/>
<rect x="389.73" y="442.30" width="1.1" height="1.0" fill="#262626" fill-opacity="0.85"/>
<rect x="391.41" y="418.88" width="1.1" height="1.0" fill="#262626" fill-opacity="0.85"/>
<rect x="387.45" y="434.40" width="1.1" height="1.0" fill="#262626" fill-opacity="0.85"/>
<rect x="386.95" y="432.10" width="1.1" height="1.0" fill="#262626" fill-opacity="0.85"/>
<rect x="393.96" y="424.20" width="1.1" height="1.0" fill="#262626" fill-opacity="0.85"/>
<rect x="390.86" y="426.04" width="1.1" height="1.0" fill="#262626" fill-opacity="0.85"/>
<rect x="390.07" y="435.47" width="1.1" height="1.0" fill="#262626" fill-opacity="0.85"/>
<rect x="390.24" y="440.29" width="1.1" height="1.0" fill="#262626" fill-opacity="0.85"/>
<rect x="387.27" y="425.85" width="1.1" height="1.0" fill="#262626" fill-opacity="0.85"/>
<rect x="394.60" y="416.25" width="1.1" height="1.0" fill="#262626" fill-opacity="0.85"/>
<rect x="388.24" y="425.08" width="1.1" height="1.0" fill="#262626" fill-opacity="0.85"/>
<rect x="391.26" y="442.83" width="1.1" height="1.0" fill="#262626" fill-opacity="0.85"/>
<rect x="394.60" y="425.54" width="1.1" height="1.0" fill="#262626" fill-opacity="0.85"/>
<rect x="392.13" y="424.77" width="1.1" height="1.0" fill="#262626" fill-opacity="0.85"/>
<rect x="388.49" y="432.03" width="1.1" height="1.0" fill="#262626" fill-opacity="0.85"/>
<rect x="393.15" y="434.58" width="1.1" height="1.0" fill="#262626" fill-opacity="0.85"/>
<rect x="390.41" y="440.16" width="1.1" height="1.0" fill="#262626" fill-opacity="0.85"/>
<rect x="397.68" y="439.29" width="1.1" height="1.0" fill="#262626" fill-opacity="0.85"/>
<rect x="395.91" y="439.07" width="1.1" height="1.0" fill="#262626" fill-opacity="0.85"/>
<rect x="391.32" y="428.53" width="1.1" height="1.0" fill="#262626" fill-opacity="0.85"/>
<rect x="389.01" y="430.03" width="1.1" height="1.0" fill="#262626" fill-opacity="0.85"/>
<rect x="396.80" y="429.92" width="1.1" height="1.0" fill="#262626" fill-opacity="0.85"/>
<rect x="387.93" y="427.65" width="1.1" height="1.0" fill="#262626" fill-opacity="0.85"/>
<rect x="395.54" y="429.86" width="1.1" height="1.0" fill="#262626" fill-opacity="0.85"/>
<rect x="392.24" y="440.20" width="1.1" height="1.0" fill="#262626" fill-opacity="0.85"/>
<rect x="397.61" y="430.88" width="1.1" height="1.0" fill="#262626" fill-opacity="0.85"/>
<rect x="395.95" y="424.41" width="1.1" height="1.0" fill="#262626" fill-opacity="0.85"/>
<rect x="395.62" y="436.47" width="1.1" height="1.0" fill="#262626" fill-opacity="0.85"/>
<rect x="388.50" y="438.27" width="1.1" height="1.0" fill="#262626" fill-opacity="0.85"/>
<rect x="391.73" y="438.90" width="1.1" height="1.0" fill="#262626" fill-opacity="0.85"/>
<rect x="396.47" y="430.34" width="1.1" height="1.0" fill="#262626" fill-opacity="0.85"/>
<rect x="393.46" y="428.69" width="1.1" height="1.0" fill="#262626" fill-opacity="0.85"/>
<rect x="390.27" y="426.72" width="1.1" height="1.0" fill="#262626" fill-opacity="0.85"/>
<rect x="386.75" y="425.24" width="1.1" height="1.0" fill="#262626" fill-opacity="0.85"/>
<rect x="390.03" y="436.63" width="1.1" height="1.0" fill="#262626" fill-opacity="0.85"/>
<rect x="386.70" y="433.31" width="1.1" height="1.0" fill="#262626" fill-opacity="0.85"/>
<rect x="397.87" y="424.27" width="1.1" height="1.0" fill="#262626" fill-opacity="0.85"/>
<rect x="392.22" y="442.40" width="1.1" height="1.0" fill="#262626" fill-opacity="0.85"/>
<rect x="392.22" y="426.45" width="1.1" height="1.0" fill="#262626" fill-opacity="0.85"/>
<rect x="388.48" y="437.38" width="1.1" height="1.0" fill="#262626" fill-opacity="0.85"/>
<rect x="392.90" y="416.61" width="1.1" height="1.0" fill="#262626" fill-opacity="0.85"/>
<rect x="387.90" y="433.01" width="1.1" height="1.0" fill="#262626" fill-opacity="0.85"/>
<rect x="398.15" y="425.52" width="1.1" height="1.0" fill="#262626" fill-opacity="0.85"/>
<rect x="395.63" y="436.37" width="1.1" height="1.0" fill="#262626" fill-opacity="0.85"/>
<rect x="397.69" y="421.02" width="1.1" height="1.0" fill="#262626" fill-opacity="0.85"/>
<rect x="396.62" y="440.19" width="1.1" height="1.0" fill="#262626" fill-opacity="0.85"/>
<rect x="393.30" y="429.05" width="1.1" height="1.0" fill="#262626" fill-opacity="0.85"/>
<rect x="397.58" y="431.20" width="1.1" height="1.0" fill="#262626" fill-opacity="0.85"/>
<rect x="390.44" y="424.83" width="1.1" height="1.0" fill="#262626" fill-opacity="0.85"/>
<rect x="396.32" y="442.33" width="1.1" height="1.0" fill="#262626" fill-opacity="0.85"/>
<rect x="394.15" y="439.79" width="1.1" height="1.0" fill="#262626" fill-opacity="0.85"/>
<rect x="392.54" y="428.46" width="1.1" height="1.0" fill="#262626" fill-opacity="0.85"/>
<rect x="395.63" y="436.14" width="1.1" height="1.0" fill="#262626" fill-opacity="0.85"/>
<rect x="389.03" y="425.59" width="1.1" height="1.0" fill="#262626" fill-opacity="0.85"/>
<rect x="388.57" y="428.47" width="1.1" height="1.0" fill="#262626" fill-opacity="0.85"/>
<rect x="395.45" y="436.73" width="1.1" height="1.0" fill="#262626" fill-opacity="0.85"/>
<rect x="389.13" y="437.34" width="1.1" height="1.0" fill="#262626" fill-opacity="0.85"/>
<rect x="389.91" y="420.42" width="1.1" height="1.0" fill="#262626" fill-opacity="0.85"/>
<rect x="393.24" y="443.67" width="1.1" height="1.0" fill="#262626" fill-opacity="0.85"/>
<rect x="398.16" y="429.61" width="1.1" height="1.0" fill="#262626" fill-opacity="0.85"/>
<rect x="396.77" y="428.33" width="1.1" height="1.0" fill="#262626" fill-opacity="0.85"/>
<rect x="398.69" y="433.55" width="1.1" height="1.0" fill="#262626" fill-opacity="0.85"/>
<rect x="393.40" y="433.86" width="1.1" height="1.0" fill="#262626" fill-opacity="0.85"/>
<rect x="398.52" y="424.34" width="1.1" height="1.0" fill="#262626" fill-opacity="0.85"/>
<rect x="397.10" y="432.07" width="1.1" height="1.0" fill="#262626" fill-opacity="0.85"/>
<rect x="390.18" y="425.58" width="1.1" height="1.0" fill="#262626" fill-opacity="0.85"/>
<rect x="398.63" y="424.39" width="1.1" height="1.0" fill="#262626" fill-opacity="0.85"/>
<rect x="390.44" y="435.62" width="1.1" height="1.0" fill="#262626" fill-opacity="0.85"/>
<rect x="396.34" y="439.79" width="1.1" height="1.0" fill="#262626" fill-opacity="0.85"/>
<rect x="395.20" y="421.77" width="1.1" height="1.0" fill="#262626" fill-opacity="0.85"/>
<rect x="395.51" y="432.63" width="1.1" height="1.0" fill="#262626" fill-opacity="0.85"/>
<rect x="395.60" y="422.68" width="1.1" height="1.0" fill="#262626" fill-opacity="0.85"/>
<rect x="394.74" y="419.38" width="1.1" height="1.0" fill="#262626" fill-opacity="0.85"/>
<rect x="395.22" y="434.81" width="1.1" height="1.0" fill="#262626" fill-opacity="0.85"/>
<rect x="391.95" y="439.67" width="1.1" height="1.0" fill="#262626" fill-opacity="0.85"/>
<rect x="394.64" y="443.96" width="1.1" height="1.0" fill="#262626" fill-opacity="0.85"/>
<rect x="391.76" y="434.56" width="1.1" height="1.0" fill="#262626" fill-opacity="0.85"/>
<rect x="390.24" y="432.62" width="1.1" height="1.0" fill="#262626" fill-opacity="0.85"/>
<rect x="396.81" y="432.93" width="1.1" height="1.0" fill="#262626" fill-opacity="0.85"/>
<rect x="390.53" y="430.60" width="1.1" height="1.0" fill="#262626" fill-opacity="0.85"/>
<rect x="392.43" y="436.77" width="1.1" height="1.0" fill="#262626" fill-opacity="0.85"/>
<rect x="395.78" y="432.84" width="1.1" height="1.0" fill="#262626" fill-opacity="0.85"/>
<rect x="394.58" y="440.13" width="1.1" height="1.0" fill="#262626" fill-opacity="0.85"/>
<rect x="398.32" y="441.68" width="1.1" height="1.0" fill="#262626" fill-opacity="0.85"/>
<rect x="387.74" y="435.59" width="1.1" height="1.0" fill="#262626" fill-opacity="0.85"/>
<rect x="398.04" y="434.13" width="1.1" height="1.0" fill="#262626" fill-opacity="0.85"/>
<rect x="395.35" y="441.21" width="1.1" height="1.0" fill="#262626" fill-opacity="0.85"/>
<rect x="395.63" y="437.09" width="1.1" height="1.0" fill="#262626" fill-opacity="0.85"/>
<rect x="393.21" y="435.10" width="1.1" height="1.0" fill="#262626" fill-opacity="0.85"/>
<rect x="390.82" y="427.38" width="1.1" height="1.0" fill="#262626" fill-opacity="0.85"/>
<rect x="398.40" y="439.34" width="1.1" height="1.0" fill="#262626" fill-opacity="0.85"/>
<rect x="398.01" y="433.28" width="1.1" height="1.0" fill="#262626" fill-opacity="0.85"/>
<rect x="393.85" y="438.31" width="1.1" height="1.0" fill="#262626" fill-opacity="0.85"/>
<rect x="391.11" y="446.58" width="1.1" height="1.0" fill="#262626" fill-opacity="0.85"/>
<rect x="393.46" y="435.06" width="1.1" height="1.0" fill="#262626" fill-opacity="0.85"/>
<rect x="387.42" y="425.78" width="1.1" height="1.0" fill="#262626" fill-opacity="0.85"/>
<rect x="388.73" y="421.75" width="1.1" height="1.0" fill="#262626" fill-opacity="0.85"/>
<rect x="392.50" y="428.39" width="1.1" height="1.0" fill="#262626" fill-opacity="0.85"/>
<rect x="395.57" y="421.07" width="1.1" height="1.0" fill="#262626" fill-opacity="0.85"/>
<rect x="391.06" y="430.50" width="1.1" height="1.0" fill="#262626" fill-opacity="0.85"/>
<rect x="396.15" y="431.72" width="1.1" height="1.0" fill="#262626" fill-opacity="0.85"/>
<rect x="396.25" y="430.48" width="1.1" height="1.0" fill="#262626" fill-opacity="0.85"/>
<rect x="395.52" y="423.77" width="1.1" height="1.0" fill="#262626" fill-opacity="0.85"/>
<rect x="388.55" y="435.65" width="1.1" height="1.0" fill="#262626" fill-opacity="0.85"/>
<rect x="388.79" y="431.50" width="1.1" height="1.0" fill="#262626" fill-opacity="0.85"/>
<rect x="389.29" y="421.21" width="1.1" height="1.0" fill="#262626" fill-opacity="0.85"/>
<rect x="391.65" y="436.05" width="1.1" height="1.0" fill="#262626" fill-opacity="0.85"/>
<rect x="396.22" y="443.84" width="1.1" height="1.0" fill="#262626" fill-opacity="0.85"/>
<rect x="387.61" y="418.78" width="1.1" height="1.0" fill="#262626" fill-opacity="0.85"/>
<rect x="389.56" y="433.46" width="1.1" height="1.0" fill="#262626" fill-opacity="0.85"/>
<rect x="387.28" y="430.04" width="1.1" height="1.0" fill="#262626" fill-opacity="0.85"/>
<rect x="398.55" y="438.01" width="1.1" height="1.0" fill="#262626" fill-opacity="0.85"/>
<rect x="392.93" y="433.48" width="1.1" height="1.0" fill="#262626" fill-opacity="0.85"/>
<rect x="387.15" y="419.23" width="1.1" height="1.0" fill="#262626" fill-opacity="0.85"/>
<rect x="393.40" y="422.30" width="1.1" height="1.0" fill="#262626" fill-opacity="0.85"/>
<rect x="392.87" y="434.55" width="1.1" height="1.0" fill="#262626" fill-opacity="0.85"/>
<rect x="387.84" y="426.79" width="1.1" height="1.0" fill="#262626" fill-opacity="0.85"/>
<line x1="407.80" y1="449.30" x2="407.80" y2="421.71" stroke="#76a3d4" stroke-width="1.0"/>
<rect x="401.50" y="448.00" width="12.60" height="1.80" fill="#6e9ccb"/>
<rect x="408.97" y="440.73" width="1.1" height="1.0" fill="#245f9e" fill-opacity="0.85"/>
<rect x="410.33" y="432.35" width="1.1" height="1.0" fill="#245f9e" fill-opacity="0.85"/>
<rect x="406.08" y="422.15" width="1.1" height="1.0" fill="#245f9e" fill-opacity="0.85"/>
<rect x="406.85" y="429.27" width="1.1" height="1.0" fill="#245f9e" fill-opacity="0.85"/>
<rect x="405.03" y="427.25" width="1.1" height="1.0" fill="#245f9e" fill-opacity="0.85"/>
<rect x="410.73" y="430.98" width="1.1" height="1.0" fill="#245f9e" fill-opacity="0.85"/>
<rect x="404.60" y="442.05" width="1.1" height="1.0" fill="#245f9e" fill-opacity="0.85"/>
<rect x="403.82" y="441.20" width="1.1" height="1.0" fill="#245f9e" fill-opacity="0.85"/>
<rect x="402.65" y="434.80" width="1.1" height="1.0" fill="#245f9e" fill-opacity="0.85"/>
<rect x="406.04" y="432.22" width="1.1" height="1.0" fill="#245f9e" fill-opacity="0.85"/>
<rect x="403.98" y="421.45" width="1.1" height="1.0" fill="#245f9e" fill-opacity="0.85"/>
<rect x="401.42" y="433.74" width="1.1" height="1.0" fill="#245f9e" fill-opacity="0.85"/>
<rect x="412.58" y="431.05" width="1.1" height="1.0" fill="#245f9e" fill-opacity="0.85"/>
<rect x="404.84" y="430.69" width="1.1" height="1.0" fill="#245f9e" fill-opacity="0.85"/>
<rect x="407.49" y="433.57" width="1.1" height="1.0" fill="#245f9e" fill-opacity="0.85"/>
<rect x="401.86" y="434.48" width="1.1" height="1.0" fill="#245f9e" fill-opacity="0.85"/>
<rect x="404.16" y="433.79" width="1.1" height="1.0" fill="#245f9e" fill-opacity="0.85"/>
<rect x="408.65" y="435.63" width="1.1" height="1.0" fill="#245f9e" fill-opacity="0.85"/>
<rect x="408.38" y="426.59" width="1.1" height="1.0" fill="#245f9e" fill-opacity="0.85"/>
<rect x="403.52" y="433.20" width="1.1" height="1.0" fill="#245f9e" fill-opacity="0.85"/>
<rect x="413.13" y="432.35" width="1.1" height="1.0" fill="#245f9e" fill-opacity="0.85"/>
<rect x="405.58" y="435.59" width="1.1" height="1.0" fill="#245f9e" fill-opacity="0.85"/>
<rect x="408.40" y="422.03" width="1.1" height="1.0" fill="#245f9e" fill-opacity="0.85"/>
<rect x="405.67" y="424.34" width="1.1" height="1.0" fill="#245f9e" fill-opacity="0.85"/>
<rect x="410.88" y="426.76" width="1.1" height="1.0" fill="#245f9e" fill-opacity="0.85"/>
<rect x="409.85" y="429.75" width="1.1" height="1.0" fill="#245f9e" fill-opacity="0.85"/>
<rect x="413.16" y="436.54" width="1.1" height="1.0" fill="#245f9e" fill-opacity="0.85"/>
<rect x="407.79" y="435.03" width="1.1" height="1.0" fill="#245f9e" fill-opacity="0.85"/>
<rect x="404.76" y="432.01" width="1.1" height="1.0" fill="#245f9e" fill-opacity="0.85"/>
<rect x="402.49" y="431.52" width="1.1" height="1.0" fill="#245f9e" fill-opacity="0.85"/>
<rect x="404.10" y="432.07" width="1.1" height="1.0" fill="#245f9e" fill-opacity="0.85"/>
<rect x="403.41" y="426.43" width="1.1" height="1.0" fill="#245f9e" fill-opacity="0.85"/>
<rect x="409.66" y="434.23" width="1.1" height="1.0" fill="#245f9e" fill-opacity="0.85"/>
<rect x="412.92" y="425.61" width="1.1" height="1.0" fill="#245f9e" fill-opacity="0.85"/>
<rect x="411.79" y="434.67" width="1.1" height="1.0" fill="#245f9e" fill-opacity="0.85"/>
<rect x="408.99" y="431.74" width="1.1" height="1.0" fill="#245f9e" fill-opacity="0.85"/>
<rect x="401.74" y="421.62" width="1.1" height="1.0" fill="#245f9e" fill-opacity="0.85"/>
<rect x="409.20" y="435.54" width="1.1" height="1.0" fill="#245f9e" fill-opacity="0.85"/>
<rect x="402.22" y="439.06" width="1.1" height="1.0" fill="#245f9e" fill-opacity="0.85"/>
<rect x="401.70" y="426.94" width="1.1" height="1.0" fill="#245f9e" fill-opacity="0.85"/>
<rect x="412.30" y="439.88" width="1.1" height="1.0" fill="#245f9e" fill-opacity="0.85"/>
<rect x="404.18" y="433.06" width="1.1" height="1.0" fill="#245f9e" fill-opacity="0.85"/>
<rect x="406.72" y="439.72" width="1.1" height="1.0" fill="#245f9e" fill-opacity="0.85"/>
<rect x="408.81" y="436.75" width="1.1" height="1.0" fill="#245f9e" fill-opacity="0.85"/>
<rect x="405.52" y="436.18" width="1.1" height="1.0" fill="#245f9e" fill-opacity="0.85"/>
<line x1="422.60" y1="449.30" x2="422.60" y2="419.04" stroke="#e06a80" stroke-width="1.0"/>
<rect x="416.30" y="448.00" width="12.60" height="1.80" fill="#e0707f"/>
<rect x="417.50" y="439.10" width="1.1" height="1.0" fill="#cf1d3d" fill-opacity="0.85"/>
<rect x="421.58" y="424.00" width="1.1" height="1.0" fill="#cf1d3d" fill-opacity="0.85"/>
<rect x="420.94" y="429.10" width="1.1" height="1.0" fill="#cf1d3d" fill-opacity="0.85"/>
<rect x="419.99" y="431.41" width="1.1" height="1.0" fill="#cf1d3d" fill-opacity="0.85"/>
<rect x="421.62" y="438.01" width="1.1" height="1.0" fill="#cf1d3d" fill-opacity="0.85"/>
<rect x="417.87" y="425.78" width="1.1" height="1.0" fill="#cf1d3d" fill-opacity="0.85"/>
<rect x="424.21" y="435.01" width="1.1" height="1.0" fill="#cf1d3d" fill-opacity="0.85"/>
<rect x="423.25" y="423.29" width="1.1" height="1.0" fill="#cf1d3d" fill-opacity="0.85"/>
<rect x="425.95" y="437.82" width="1.1" height="1.0" fill="#cf1d3d" fill-opacity="0.85"/>
<rect x="417.22" y="441.49" width="1.1" height="1.0" fill="#cf1d3d" fill-opacity="0.85"/>
<rect x="423.40" y="437.79" width="1.1" height="1.0" fill="#cf1d3d" fill-opacity="0.85"/>
<rect x="421.04" y="431.75" width="1.1" height="1.0" fill="#cf1d3d" fill-opacity="0.85"/>
<rect x="422.19" y="425.57" width="1.1" height="1.0" fill="#cf1d3d" fill-opacity="0.85"/>
<rect x="417.23" y="426.54" width="1.1" height="1.0" fill="#cf1d3d" fill-opacity="0.85"/>
<rect x="423.39" y="428.64" width="1.1" height="1.0" fill="#cf1d3d" fill-opacity="0.85"/>
<rect x="426.76" y="430.43" width="1.1" height="1.0" fill="#cf1d3d" fill-opacity="0.85"/>
<rect x="421.47" y="429.17" width="1.1" height="1.0" fill="#cf1d3d" fill-opacity="0.85"/>
<rect x="427.10" y="429.52" width="1.1" height="1.0" fill="#cf1d3d" fill-opacity="0.85"/>
<rect x="425.51" y="426.27" width="1.1" height="1.0" fill="#cf1d3d" fill-opacity="0.85"/>
<rect x="419.56" y="432.20" width="1.1" height="1.0" fill="#cf1d3d" fill-opacity="0.85"/>
<rect x="419.12" y="436.19" width="1.1" height="1.0" fill="#cf1d3d" fill-opacity="0.85"/>
<rect x="422.71" y="441.17" width="1.1" height="1.0" fill="#cf1d3d" fill-opacity="0.85"/>
<rect x="425.76" y="429.86" width="1.1" height="1.0" fill="#cf1d3d" fill-opacity="0.85"/>
<rect x="426.91" y="434.08" width="1.1" height="1.0" fill="#cf1d3d" fill-opacity="0.85"/>
<rect x="424.25" y="426.52" width="1.1" height="1.0" fill="#cf1d3d" fill-opacity="0.85"/>
<rect x="421.39" y="436.02" width="1.1" height="1.0" fill="#cf1d3d" fill-opacity="0.85"/>
<rect x="419.47" y="435.32" width="1.1" height="1.0" fill="#cf1d3d" fill-opacity="0.85"/>
<rect x="422.80" y="429.32" width="1.1" height="1.0" fill="#cf1d3d" fill-opacity="0.85"/>
<rect x="422.12" y="434.58" width="1.1" height="1.0" fill="#cf1d3d" fill-opacity="0.85"/>
<rect x="424.04" y="432.92" width="1.1" height="1.0" fill="#cf1d3d" fill-opacity="0.85"/>
<rect x="427.00" y="432.57" width="1.1" height="1.0" fill="#cf1d3d" fill-opacity="0.85"/>
<rect x="423.99" y="431.97" width="1.1" height="1.0" fill="#cf1d3d" fill-opacity="0.85"/>
<rect x="419.97" y="434.42" width="1.1" height="1.0" fill="#cf1d3d" fill-opacity="0.85"/>
<rect x="427.23" y="437.52" width="1.1" height="1.0" fill="#cf1d3d" fill-opacity="0.85"/>
<rect x="417.70" y="437.10" width="1.1" height="1.0" fill="#cf1d3d" fill-opacity="0.85"/>
<rect x="427.68" y="424.76" width="1.1" height="1.0" fill="#cf1d3d" fill-opacity="0.85"/>
<rect x="424.17" y="435.02" width="1.1" height="1.0" fill="#cf1d3d" fill-opacity="0.85"/>
<rect x="419.10" y="428.52" width="1.1" height="1.0" fill="#cf1d3d" fill-opacity="0.85"/>
<rect x="418.70" y="432.46" width="1.1" height="1.0" fill="#cf1d3d" fill-opacity="0.85"/>
<rect x="417.49" y="441.60" width="1.1" height="1.0" fill="#cf1d3d" fill-opacity="0.85"/>
<rect x="423.71" y="433.38" width="1.1" height="1.0" fill="#cf1d3d" fill-opacity="0.85"/>
<rect x="417.88" y="438.81" width="1.1" height="1.0" fill="#cf1d3d" fill-opacity="0.85"/>
<rect x="419.15" y="440.35" width="1.1" height="1.0" fill="#cf1d3d" fill-opacity="0.85"/>
<rect x="418.14" y="434.52" width="1.1" height="1.0" fill="#cf1d3d" fill-opacity="0.85"/>
<rect x="417.58" y="432.74" width="1.1" height="1.0" fill="#cf1d3d" fill-opacity="0.85"/>
<rect x="424.40" y="422.51" width="1.1" height="1.0" fill="#cf1d3d" fill-opacity="0.85"/>
<rect x="425.93" y="445.54" width="1.1" height="1.0" fill="#cf1d3d" fill-opacity="0.85"/>
<rect x="425.71" y="430.00" width="1.1" height="1.0" fill="#cf1d3d" fill-opacity="0.85"/>
<rect x="422.13" y="437.29" width="1.1" height="1.0" fill="#cf1d3d" fill-opacity="0.85"/>
<rect x="417.09" y="428.16" width="1.1" height="1.0" fill="#cf1d3d" fill-opacity="0.85"/>
<rect x="425.20" y="440.40" width="1.1" height="1.0" fill="#cf1d3d" fill-opacity="0.85"/>
<rect x="417.35" y="423.78" width="1.1" height="1.0" fill="#cf1d3d" fill-opacity="0.85"/>
<rect x="424.47" y="442.93" width="1.1" height="1.0" fill="#cf1d3d" fill-opacity="0.85"/>
<rect x="425.61" y="434.92" width="1.1" height="1.0" fill="#cf1d3d" fill-opacity="0.85"/>
<rect x="424.09" y="432.01" width="1.1" height="1.0" fill="#cf1d3d" fill-opacity="0.85"/>
<rect x="422.24" y="437.86" width="1.1" height="1.0" fill="#cf1d3d" fill-opacity="0.85"/>
<rect x="417.54" y="424.93" width="1.1" height="1.0" fill="#cf1d3d" fill-opacity="0.85"/>
<rect x="422.93" y="444.31" width="1.1" height="1.0" fill="#cf1d3d" fill-opacity="0.85"/>
<rect x="422.09" y="433.80" width="1.1" height="1.0" fill="#cf1d3d" fill-opacity="0.85"/>
<rect x="419.03" y="426.95" width="1.1" height="1.0" fill="#cf1d3d" fill-opacity="0.85"/>
<rect x="422.67" y="430.09" width="1.1" height="1.0" fill="#cf1d3d" fill-opacity="0.85"/>
<rect x="417.37" y="430.72" width="1.1" height="1.0" fill="#cf1d3d" fill-opacity="0.85"/>
<rect x="420.56" y="423.00" width="1.1" height="1.0" fill="#cf1d3d" fill-opacity="0.85"/>
<rect x="427.49" y="436.50" width="1.1" height="1.0" fill="#cf1d3d" fill-opacity="0.85"/>
<rect x="425.57" y="429.30" width="1.1" height="1.0" fill="#cf1d3d" fill-opacity="0.85"/>
<rect x="422.20" y="430.98" width="1.1" height="1.0" fill="#cf1d3d" fill-opacity="0.85"/>
<rect x="423.62" y="431.94" width="1.1" height="1.0" fill="#cf1d3d" fill-opacity="0.85"/>
<rect x="427.31" y="433.26" width="1.1" height="1.0" fill="#cf1d3d" fill-opacity="0.85"/>
<rect x="417.28" y="438.74" width="1.1" height="1.0" fill="#cf1d3d" fill-opacity="0.85"/>
<rect x="418.58" y="424.97" width="1.1" height="1.0" fill="#cf1d3d" fill-opacity="0.85"/>
<rect x="427.39" y="431.03" width="1.1" height="1.0" fill="#cf1d3d" fill-opacity="0.85"/>
<rect x="416.21" y="431.04" width="1.1" height="1.0" fill="#cf1d3d" fill-opacity="0.85"/>
<rect x="416.19" y="445.25" width="1.1" height="1.0" fill="#cf1d3d" fill-opacity="0.85"/>
<rect x="420.67" y="431.22" width="1.1" height="1.0" fill="#cf1d3d" fill-opacity="0.85"/>
<rect x="417.12" y="428.83" width="1.1" height="1.0" fill="#cf1d3d" fill-opacity="0.85"/>
<rect x="418.40" y="438.14" width="1.1" height="1.0" fill="#cf1d3d" fill-opacity="0.85"/>
<rect x="419.56" y="438.23" width="1.1" height="1.0" fill="#cf1d3d" fill-opacity="0.85"/>
<rect x="418.88" y="420.33" width="1.1" height="1.0" fill="#cf1d3d" fill-opacity="0.85"/>
<rect x="426.33" y="426.91" width="1.1" height="1.0" fill="#cf1d3d" fill-opacity="0.85"/>
<rect x="425.27" y="437.63" width="1.1" height="1.0" fill="#cf1d3d" fill-opacity="0.85"/>
<rect x="418.35" y="437.26" width="1.1" height="1.0" fill="#cf1d3d" fill-opacity="0.85"/>
<rect x="422.10" y="430.75" width="1.1" height="1.0" fill="#cf1d3d" fill-opacity="0.85"/>
<rect x="426.15" y="440.08" width="1.1" height="1.0" fill="#cf1d3d" fill-opacity="0.85"/>
<rect x="421.25" y="428.17" width="1.1" height="1.0" fill="#cf1d3d" fill-opacity="0.85"/>
<rect x="427.00" y="439.06" width="1.1" height="1.0" fill="#cf1d3d" fill-opacity="0.85"/>
<rect x="421.18" y="431.70" width="1.1" height="1.0" fill="#cf1d3d" fill-opacity="0.85"/>
<rect x="420.25" y="428.48" width="1.1" height="1.0" fill="#cf1d3d" fill-opacity="0.85"/>
<rect x="426.43" y="439.90" width="1.1" height="1.0" fill="#cf1d3d" fill-opacity="0.85"/>
<rect x="418.26" y="437.20" width="1.1" height="1.0" fill="#cf1d3d" fill-opacity="0.85"/>
<rect x="417.45" y="441.63" width="1.1" height="1.0" fill="#cf1d3d" fill-opacity="0.85"/>
<rect x="426.49" y="426.85" width="1.1" height="1.0" fill="#cf1d3d" fill-opacity="0.85"/>
<rect x="419.85" y="435.52" width="1.1" height="1.0" fill="#cf1d3d" fill-opacity="0.85"/>
<rect x="427.89" y="421.12" width="1.1" height="1.0" fill="#cf1d3d" fill-opacity="0.85"/>
<rect x="426.74" y="440.24" width="1.1" height="1.0" fill="#cf1d3d" fill-opacity="0.85"/>
<rect x="417.33" y="424.33" width="1.1" height="1.0" fill="#cf1d3d" fill-opacity="0.85"/>
<rect x="422.96" y="436.30" width="1.1" height="1.0" fill="#cf1d3d" fill-opacity="0.85"/>
<rect x="425.88" y="435.19" width="1.1" height="1.0" fill="#cf1d3d" fill-opacity="0.85"/>
<rect x="422.63" y="430.40" width="1.1" height="1.0" fill="#cf1d3d" fill-opacity="0.85"/>
<rect x="418.23" y="430.88" width="1.1" height="1.0" fill="#cf1d3d" fill-opacity="0.85"/>
<rect x="418.67" y="433.05" width="1.1" height="1.0" fill="#cf1d3d" fill-opacity="0.85"/>
<rect x="417.17" y="436.39" width="1.1" height="1.0" fill="#cf1d3d" fill-opacity="0.85"/>
<rect x="425.58" y="441.01" width="1.1" height="1.0" fill="#cf1d3d" fill-opacity="0.85"/>
<rect x="427.58" y="440.54" width="1.1" height="1.0" fill="#cf1d3d" fill-opacity="0.85"/>
<rect x="422.98" y="428.45" width="1.1" height="1.0" fill="#cf1d3d" fill-opacity="0.85"/>
<rect x="417.92" y="430.88" width="1.1" height="1.0" fill="#cf1d3d" fill-opacity="0.85"/>
<rect x="426.44" y="439.51" width="1.1" height="1.0" fill="#cf1d3d" fill-opacity="0.85"/>
<rect x="422.67" y="439.14" width="1.1" height="1.0" fill="#cf1d3d" fill-opacity="0.85"/>
<rect x="421.06" y="437.35" width="1.1" height="1.0" fill="#cf1d3d" fill-opacity="0.85"/>
<rect x="422.11" y="428.76" width="1.1" height="1.0" fill="#cf1d3d" fill-opacity="0.85"/>
<rect x="419.06" y="426.14" width="1.1" height="1.0" fill="#cf1d3d" fill-opacity="0.85"/>
<rect x="427.64" y="435.91" width="1.1" height="1.0" fill="#cf1d3d" fill-opacity="0.85"/>
<rect x="426.56" y="425.19" width="1.1" height="1.0" fill="#cf1d3d" fill-opacity="0.85"/>
<rect x="426.65" y="428.52" width="1.1" height="1.0" fill="#cf1d3d" fill-opacity="0.85"/>
<rect x="421.68" y="427.26" width="1.1" height="1.0" fill="#cf1d3d" fill-opacity="0.85"/>
<rect x="420.23" y="429.97" width="1.1" height="1.0" fill="#cf1d3d" fill-opacity="0.85"/>
<rect x="418.14" y="440.27" width="1.1" height="1.0" fill="#cf1d3d" fill-opacity="0.85"/>
<rect x="427.76" y="429.05" width="1.1" height="1.0" fill="#cf1d3d" fill-opacity="0.85"/>
<rect x="419.70" y="420.62" width="1.1" height="1.0" fill="#cf1d3d" fill-opacity="0.85"/>
<rect x="426.88" y="429.91" width="1.1" height="1.0" fill="#cf1d3d" fill-opacity="0.85"/>
<rect x="421.13" y="431.02" width="1.1" height="1.0" fill="#cf1d3d" fill-opacity="0.85"/>
<line x1="370.00" y1="450.90" x2="370.00" y2="414.30" stroke="#111" stroke-width="1.2"/>
<line x1="369.40" y1="450.40" x2="429.80" y2="450.40" stroke="#111" stroke-width="1.2"/>
<line x1="367.80" y1="449.30" x2="370.00" y2="449.30" stroke="#111" stroke-width="1.0"/>
<text x="365.40" y="452.85" font-size="8.3" text-anchor="end" fill="#111">0</text>
<line x1="367.80" y1="440.40" x2="370.00" y2="440.40" stroke="#111" stroke-width="1.0"/>
<text x="365.40" y="443.95" font-size="8.3" text-anchor="end" fill="#111">1</text>
<line x1="367.80" y1="431.50" x2="370.00" y2="431.50" stroke="#111" stroke-width="1.0"/>
<text x="365.40" y="435.05" font-size="8.3" text-anchor="end" fill="#111">2</text>
<line x1="367.80" y1="422.60" x2="370.00" y2="422.60" stroke="#111" stroke-width="1.0"/>
<text x="365.40" y="426.15" font-size="8.3" text-anchor="end" fill="#111">3</text>
<line x1="378.50" y1="450.40" x2="378.50" y2="452.30" stroke="#111" stroke-width="1.0"/>
<text x="378.50" y="463.15" font-size="8.3" text-anchor="middle" fill="#111">2</text>
<line x1="393.20" y1="450.40" x2="393.20" y2="452.30" stroke="#111" stroke-width="1.0"/>
<text x="393.20" y="463.15" font-size="8.3" text-anchor="middle" fill="#111">3</text>
<line x1="407.80" y1="450.40" x2="407.80" y2="452.30" stroke="#111" stroke-width="1.0"/>
<text x="407.80" y="463.15" font-size="8.3" text-anchor="middle" fill="#111">4</text>
<line x1="422.60" y1="450.40" x2="422.60" y2="452.30" stroke="#111" stroke-width="1.0"/>
<text x="422.60" y="463.15" font-size="8.3" text-anchor="middle" fill="#111">5</text>
<text x="479.10" y="411.27" font-size="9.2" text-anchor="middle" font-style="italic" fill="#111">Trbv17</text>
<line x1="457.10" y1="449.30" x2="457.10" y2="417.18" stroke="#a9c9ab" stroke-width="1.0"/>
<rect x="450.80" y="448.00" width="12.60" height="1.80" fill="#7fcf88"/>
<rect x="460.09" y="430.83" width="1.1" height="1.0" fill="#2fae45" fill-opacity="0.85"/>
<rect x="462.02" y="440.40" width="1.1" height="1.0" fill="#2fae45" fill-opacity="0.85"/>
<rect x="454.62" y="440.47" width="1.1" height="1.0" fill="#2fae45" fill-opacity="0.85"/>
<rect x="452.57" y="424.17" width="1.1" height="1.0" fill="#2fae45" fill-opacity="0.85"/>
<rect x="452.37" y="442.76" width="1.1" height="1.0" fill="#2fae45" fill-opacity="0.85"/>
<rect x="458.51" y="425.78" width="1.1" height="1.0" fill="#2fae45" fill-opacity="0.85"/>
<rect x="455.76" y="438.35" width="1.1" height="1.0" fill="#2fae45" fill-opacity="0.85"/>
<rect x="455.24" y="432.14" width="1.1" height="1.0" fill="#2fae45" fill-opacity="0.85"/>
<rect x="461.64" y="432.00" width="1.1" height="1.0" fill="#2fae45" fill-opacity="0.85"/>
<rect x="457.94" y="432.62" width="1.1" height="1.0" fill="#2fae45" fill-opacity="0.85"/>
<rect x="456.91" y="422.69" width="1.1" height="1.0" fill="#2fae45" fill-opacity="0.85"/>
<rect x="453.61" y="439.08" width="1.1" height="1.0" fill="#2fae45" fill-opacity="0.85"/>
<rect x="460.48" y="438.28" width="1.1" height="1.0" fill="#2fae45" fill-opacity="0.85"/>
<rect x="459.78" y="438.28" width="1.1" height="1.0" fill="#2fae45" fill-opacity="0.85"/>
<rect x="462.31" y="421.17" width="1.1" height="1.0" fill="#2fae45" fill-opacity="0.85"/>
<rect x="456.99" y="436.34" width="1.1" height="1.0" fill="#2fae45" fill-opacity="0.85"/>
<rect x="456.66" y="442.97" width="1.1" height="1.0" fill="#2fae45" fill-opacity="0.85"/>
<rect x="460.51" y="435.04" width="1.1" height="1.0" fill="#2fae45" fill-opacity="0.85"/>
<line x1="471.80" y1="449.30" x2="471.80" y2="417.18" stroke="#a4a4a4" stroke-width="1.6"/>
<rect x="465.50" y="448.00" width="12.60" height="1.80" fill="#8e8e8e"/>
<rect x="471.49" y="433.67" width="1.1" height="1.0" fill="#262626" fill-opacity="0.85"/>
<rect x="474.80" y="438.18" width="1.1" height="1.0" fill="#262626" fill-opacity="0.85"/>
<rect x="476.47" y="433.55" width="1.1" height="1.0" fill="#262626" fill-opacity="0.85"/>
<rect x="470.33" y="426.44" width="1.1" height="1.0" fill="#262626" fill-opacity="0.85"/>
<rect x="468.79" y="428.34" width="1.1" height="1.0" fill="#262626" fill-opacity="0.85"/>
<rect x="466.63" y="425.73" width="1.1" height="1.0" fill="#262626" fill-opacity="0.85"/>
<rect x="471.07" y="422.46" width="1.1" height="1.0" fill="#262626" fill-opacity="0.85"/>
<rect x="476.91" y="423.08" width="1.1" height="1.0" fill="#262626" fill-opacity="0.85"/>
<rect x="472.28" y="436.98" width="1.1" height="1.0" fill="#262626" fill-opacity="0.85"/>
<rect x="465.99" y="421.70" width="1.1" height="1.0" fill="#262626" fill-opacity="0.85"/>
<rect x="475.72" y="425.15" width="1.1" height="1.0" fill="#262626" fill-opacity="0.85"/>
<rect x="470.71" y="429.47" width="1.1" height="1.0" fill="#262626" fill-opacity="0.85"/>
<rect x="473.19" y="435.35" width="1.1" height="1.0" fill="#262626" fill-opacity="0.85"/>
<rect x="466.20" y="431.22" width="1.1" height="1.0" fill="#262626" fill-opacity="0.85"/>
<rect x="477.02" y="429.11" width="1.1" height="1.0" fill="#262626" fill-opacity="0.85"/>
<rect x="468.51" y="429.60" width="1.1" height="1.0" fill="#262626" fill-opacity="0.85"/>
<rect x="470.27" y="424.82" width="1.1" height="1.0" fill="#262626" fill-opacity="0.85"/>
<rect x="476.33" y="420.31" width="1.1" height="1.0" fill="#262626" fill-opacity="0.85"/>
<rect x="475.69" y="429.02" width="1.1" height="1.0" fill="#262626" fill-opacity="0.85"/>
<rect x="469.38" y="425.32" width="1.1" height="1.0" fill="#262626" fill-opacity="0.85"/>
<rect x="475.87" y="425.44" width="1.1" height="1.0" fill="#262626" fill-opacity="0.85"/>
<rect x="468.12" y="423.75" width="1.1" height="1.0" fill="#262626" fill-opacity="0.85"/>
<rect x="473.70" y="421.45" width="1.1" height="1.0" fill="#262626" fill-opacity="0.85"/>
<rect x="477.26" y="421.68" width="1.1" height="1.0" fill="#262626" fill-opacity="0.85"/>
<rect x="468.54" y="423.53" width="1.1" height="1.0" fill="#262626" fill-opacity="0.85"/>
<rect x="475.64" y="417.63" width="1.1" height="1.0" fill="#262626" fill-opacity="0.85"/>
<rect x="475.35" y="434.32" width="1.1" height="1.0" fill="#262626" fill-opacity="0.85"/>
<rect x="471.72" y="424.79" width="1.1" height="1.0" fill="#262626" fill-opacity="0.85"/>
<rect x="467.29" y="426.28" width="1.1" height="1.0" fill="#262626" fill-opacity="0.85"/>
<rect x="473.61" y="425.34" width="1.1" height="1.0" fill="#262626" fill-opacity="0.85"/>
<line x1="486.40" y1="449.30" x2="486.40" y2="431.78" stroke="#76a3d4" stroke-width="1.0"/>
<rect x="480.10" y="448.00" width="12.60" height="1.80" fill="#6e9ccb"/>
<rect x="480.49" y="436.78" width="1.1" height="1.0" fill="#245f9e" fill-opacity="0.85"/>
<rect x="488.86" y="442.91" width="1.1" height="1.0" fill="#245f9e" fill-opacity="0.85"/>
<rect x="488.91" y="432.14" width="1.1" height="1.0" fill="#245f9e" fill-opacity="0.85"/>
<rect x="484.25" y="439.28" width="1.1" height="1.0" fill="#245f9e" fill-opacity="0.85"/>
<rect x="482.18" y="440.64" width="1.1" height="1.0" fill="#245f9e" fill-opacity="0.85"/>
<rect x="489.61" y="439.64" width="1.1" height="1.0" fill="#245f9e" fill-opacity="0.85"/>
<rect x="482.68" y="440.30" width="1.1" height="1.0" fill="#245f9e" fill-opacity="0.85"/>
<rect x="483.26" y="437.33" width="1.1" height="1.0" fill="#245f9e" fill-opacity="0.85"/>
<rect x="489.23" y="435.32" width="1.1" height="1.0" fill="#245f9e" fill-opacity="0.85"/>
<rect x="480.32" y="432.73" width="1.1" height="1.0" fill="#245f9e" fill-opacity="0.85"/>
<line x1="501.20" y1="449.30" x2="501.20" y2="414.99" stroke="#e06a80" stroke-width="1.0"/>
<rect x="494.90" y="448.00" width="12.60" height="1.80" fill="#e0707f"/>
<rect x="502.92" y="438.55" width="1.1" height="1.0" fill="#cf1d3d" fill-opacity="0.85"/>
<rect x="505.98" y="431.12" width="1.1" height="1.0" fill="#cf1d3d" fill-opacity="0.85"/>
<rect x="502.89" y="427.82" width="1.1" height="1.0" fill="#cf1d3d" fill-opacity="0.85"/>
<rect x="500.01" y="430.28" width="1.1" height="1.0" fill="#cf1d3d" fill-opacity="0.85"/>
<rect x="500.40" y="432.84" width="1.1" height="1.0" fill="#cf1d3d" fill-opacity="0.85"/>
<rect x="495.01" y="424.11" width="1.1" height="1.0" fill="#cf1d3d" fill-opacity="0.85"/>
<rect x="500.10" y="423.11" width="1.1" height="1.0" fill="#cf1d3d" fill-opacity="0.85"/>
<rect x="496.82" y="430.53" width="1.1" height="1.0" fill="#cf1d3d" fill-opacity="0.85"/>
<rect x="495.06" y="427.78" width="1.1" height="1.0" fill="#cf1d3d" fill-opacity="0.85"/>
<rect x="497.23" y="426.54" width="1.1" height="1.0" fill="#cf1d3d" fill-opacity="0.85"/>
<rect x="503.36" y="418.29" width="1.1" height="1.0" fill="#cf1d3d" fill-opacity="0.85"/>
<rect x="495.80" y="432.36" width="1.1" height="1.0" fill="#cf1d3d" fill-opacity="0.85"/>
<rect x="503.64" y="435.71" width="1.1" height="1.0" fill="#cf1d3d" fill-opacity="0.85"/>
<rect x="500.10" y="422.26" width="1.1" height="1.0" fill="#cf1d3d" fill-opacity="0.85"/>
<rect x="506.08" y="419.81" width="1.1" height="1.0" fill="#cf1d3d" fill-opacity="0.85"/>
<rect x="505.38" y="422.51" width="1.1" height="1.0" fill="#cf1d3d" fill-opacity="0.85"/>
<rect x="501.92" y="430.11" width="1.1" height="1.0" fill="#cf1d3d" fill-opacity="0.85"/>
<rect x="501.60" y="429.51" width="1.1" height="1.0" fill="#cf1d3d" fill-opacity="0.85"/>
<rect x="501.46" y="437.98" width="1.1" height="1.0" fill="#cf1d3d" fill-opacity="0.85"/>
<rect x="495.86" y="422.45" width="1.1" height="1.0" fill="#cf1d3d" fill-opacity="0.85"/>
<rect x="495.92" y="426.62" width="1.1" height="1.0" fill="#cf1d3d" fill-opacity="0.85"/>
<rect x="500.99" y="435.60" width="1.1" height="1.0" fill="#cf1d3d" fill-opacity="0.85"/>
<rect x="502.79" y="416.10" width="1.1" height="1.0" fill="#cf1d3d" fill-opacity="0.85"/>
<rect x="500.44" y="426.80" width="1.1" height="1.0" fill="#cf1d3d" fill-opacity="0.85"/>
<rect x="498.07" y="442.66" width="1.1" height="1.0" fill="#cf1d3d" fill-opacity="0.85"/>
<rect x="500.27" y="416.72" width="1.1" height="1.0" fill="#cf1d3d" fill-opacity="0.85"/>
<rect x="502.65" y="418.96" width="1.1" height="1.0" fill="#cf1d3d" fill-opacity="0.85"/>
<rect x="502.99" y="421.07" width="1.1" height="1.0" fill="#cf1d3d" fill-opacity="0.85"/>
<rect x="497.20" y="420.41" width="1.1" height="1.0" fill="#cf1d3d" fill-opacity="0.85"/>
<rect x="499.00" y="426.20" width="1.1" height="1.0" fill="#cf1d3d" fill-opacity="0.85"/>
<rect x="497.20" y="432.88" width="1.1" height="1.0" fill="#cf1d3d" fill-opacity="0.85"/>
<rect x="499.60" y="421.13" width="1.1" height="1.0" fill="#cf1d3d" fill-opacity="0.85"/>
<rect x="498.57" y="432.10" width="1.1" height="1.0" fill="#cf1d3d" fill-opacity="0.85"/>
<rect x="498.55" y="423.73" width="1.1" height="1.0" fill="#cf1d3d" fill-opacity="0.85"/>
<rect x="495.50" y="424.90" width="1.1" height="1.0" fill="#cf1d3d" fill-opacity="0.85"/>
<rect x="504.38" y="426.46" width="1.1" height="1.0" fill="#cf1d3d" fill-opacity="0.85"/>
<rect x="500.46" y="426.62" width="1.1" height="1.0" fill="#cf1d3d" fill-opacity="0.85"/>
<rect x="500.37" y="432.30" width="1.1" height="1.0" fill="#cf1d3d" fill-opacity="0.85"/>
<rect x="498.98" y="425.78" width="1.1" height="1.0" fill="#cf1d3d" fill-opacity="0.85"/>
<rect x="501.80" y="418.49" width="1.1" height="1.0" fill="#cf1d3d" fill-opacity="0.85"/>
<rect x="495.19" y="430.03" width="1.1" height="1.0" fill="#cf1d3d" fill-opacity="0.85"/>
<rect x="506.57" y="418.00" width="1.1" height="1.0" fill="#cf1d3d" fill-opacity="0.85"/>
<rect x="499.21" y="418.09" width="1.1" height="1.0" fill="#cf1d3d" fill-opacity="0.85"/>
<rect x="496.26" y="424.88" width="1.1" height="1.0" fill="#cf1d3d" fill-opacity="0.85"/>
<rect x="496.93" y="418.42" width="1.1" height="1.0" fill="#cf1d3d" fill-opacity="0.85"/>
<rect x="498.64" y="426.69" width="1.1" height="1.0" fill="#cf1d3d" fill-opacity="0.85"/>
<rect x="506.68" y="422.42" width="1.1" height="1.0" fill="#cf1d3d" fill-opacity="0.85"/>
<rect x="506.27" y="417.83" width="1.1" height="1.0" fill="#cf1d3d" fill-opacity="0.85"/>
<rect x="501.46" y="424.20" width="1.1" height="1.0" fill="#cf1d3d" fill-opacity="0.85"/>
<rect x="495.24" y="425.15" width="1.1" height="1.0" fill="#cf1d3d" fill-opacity="0.85"/>
<rect x="496.16" y="429.31" width="1.1" height="1.0" fill="#cf1d3d" fill-opacity="0.85"/>
<rect x="495.20" y="423.67" width="1.1" height="1.0" fill="#cf1d3d" fill-opacity="0.85"/>
<rect x="500.25" y="426.69" width="1.1" height="1.0" fill="#cf1d3d" fill-opacity="0.85"/>
<rect x="506.15" y="421.72" width="1.1" height="1.0" fill="#cf1d3d" fill-opacity="0.85"/>
<rect x="496.87" y="423.98" width="1.1" height="1.0" fill="#cf1d3d" fill-opacity="0.85"/>
<line x1="448.60" y1="450.90" x2="448.60" y2="414.30" stroke="#111" stroke-width="1.2"/>
<line x1="448.00" y1="450.40" x2="508.40" y2="450.40" stroke="#111" stroke-width="1.2"/>
<line x1="446.40" y1="449.30" x2="448.60" y2="449.30" stroke="#111" stroke-width="1.0"/>
<text x="444.00" y="452.85" font-size="8.3" text-anchor="end" fill="#111">0</text>
<line x1="446.40" y1="442.00" x2="448.60" y2="442.00" stroke="#111" stroke-width="1.0"/>
<text x="444.00" y="445.55" font-size="8.3" text-anchor="end" fill="#111">1</text>
<line x1="446.40" y1="434.70" x2="448.60" y2="434.70" stroke="#111" stroke-width="1.0"/>
<text x="444.00" y="438.25" font-size="8.3" text-anchor="end" fill="#111">2</text>
<line x1="446.40" y1="427.40" x2="448.60" y2="427.40" stroke="#111" stroke-width="1.0"/>
<text x="444.00" y="430.95" font-size="8.3" text-anchor="end" fill="#111">3</text>
<line x1="446.40" y1="420.10" x2="448.60" y2="420.10" stroke="#111" stroke-width="1.0"/>
<text x="444.00" y="423.65" font-size="8.3" text-anchor="end" fill="#111">4</text>
<line x1="457.10" y1="450.40" x2="457.10" y2="452.30" stroke="#111" stroke-width="1.0"/>
<text x="457.10" y="463.15" font-size="8.3" text-anchor="middle" fill="#111">2</text>
<line x1="471.80" y1="450.40" x2="471.80" y2="452.30" stroke="#111" stroke-width="1.0"/>
<text x="471.80" y="463.15" font-size="8.3" text-anchor="middle" fill="#111">3</text>
<line x1="486.40" y1="450.40" x2="486.40" y2="452.30" stroke="#111" stroke-width="1.0"/>
<text x="486.40" y="463.15" font-size="8.3" text-anchor="middle" fill="#111">4</text>
<line x1="501.20" y1="450.40" x2="501.20" y2="452.30" stroke="#111" stroke-width="1.0"/>
<text x="501.20" y="463.15" font-size="8.3" text-anchor="middle" fill="#111">5</text>
<text x="326.20" y="477.77" font-size="9.2" text-anchor="middle" font-style="italic" fill="#111">Trbv19</text>
<line x1="304.20" y1="517.00" x2="304.20" y2="487.12" stroke="#a9c9ab" stroke-width="1.0"/>
<rect x="297.90" y="515.70" width="12.60" height="1.80" fill="#7fcf88"/>
<rect x="297.90" y="502.39" width="1.1" height="1.0" fill="#2fae45" fill-opacity="0.85"/>
<rect x="309.00" y="512.10" width="1.1" height="1.0" fill="#2fae45" fill-opacity="0.85"/>
<rect x="307.38" y="498.20" width="1.1" height="1.0" fill="#2fae45" fill-opacity="0.85"/>
<rect x="307.35" y="501.04" width="1.1" height="1.0" fill="#2fae45" fill-opacity="0.85"/>
<rect x="302.07" y="492.79" width="1.1" height="1.0" fill="#2fae45" fill-opacity="0.85"/>
<rect x="305.98" y="507.76" width="1.1" height="1.0" fill="#2fae45" fill-opacity="0.85"/>
<rect x="306.66" y="496.37" width="1.1" height="1.0" fill="#2fae45" fill-opacity="0.85"/>
<rect x="299.35" y="500.38" width="1.1" height="1.0" fill="#2fae45" fill-opacity="0.85"/>
<rect x="301.00" y="492.07" width="1.1" height="1.0" fill="#2fae45" fill-opacity="0.85"/>
<rect x="301.89" y="501.57" width="1.1" height="1.0" fill="#2fae45" fill-opacity="0.85"/>
<rect x="307.48" y="498.98" width="1.1" height="1.0" fill="#2fae45" fill-opacity="0.85"/>
<rect x="298.15" y="496.25" width="1.1" height="1.0" fill="#2fae45" fill-opacity="0.85"/>
<rect x="306.55" y="493.14" width="1.1" height="1.0" fill="#2fae45" fill-opacity="0.85"/>
<rect x="306.64" y="495.93" width="1.1" height="1.0" fill="#2fae45" fill-opacity="0.85"/>
<rect x="303.01" y="496.80" width="1.1" height="1.0" fill="#2fae45" fill-opacity="0.85"/>
<rect x="303.66" y="507.18" width="1.1" height="1.0" fill="#2fae45" fill-opacity="0.85"/>
<rect x="302.80" y="501.92" width="1.1" height="1.0" fill="#2fae45" fill-opacity="0.85"/>
<rect x="300.15" y="497.15" width="1.1" height="1.0" fill="#2fae45" fill-opacity="0.85"/>
<rect x="300.64" y="496.29" width="1.1" height="1.0" fill="#2fae45" fill-opacity="0.85"/>
<rect x="300.26" y="504.81" width="1.1" height="1.0" fill="#2fae45" fill-opacity="0.85"/>
<rect x="299.27" y="487.29" width="1.1" height="1.0" fill="#2fae45" fill-opacity="0.85"/>
<rect x="307.65" y="499.51" width="1.1" height="1.0" fill="#2fae45" fill-opacity="0.85"/>
<rect x="309.14" y="495.83" width="1.1" height="1.0" fill="#2fae45" fill-opacity="0.85"/>
<rect x="304.30" y="497.60" width="1.1" height="1.0" fill="#2fae45" fill-opacity="0.85"/>
<rect x="305.53" y="504.99" width="1.1" height="1.0" fill="#2fae45" fill-opacity="0.85"/>
<rect x="300.57" y="497.33" width="1.1" height="1.0" fill="#2fae45" fill-opacity="0.85"/>
<rect x="305.72" y="505.24" width="1.1" height="1.0" fill="#2fae45" fill-opacity="0.85"/>
<rect x="308.16" y="500.03" width="1.1" height="1.0" fill="#2fae45" fill-opacity="0.85"/>
<rect x="304.82" y="500.98" width="1.1" height="1.0" fill="#2fae45" fill-opacity="0.85"/>
<rect x="306.48" y="501.98" width="1.1" height="1.0" fill="#2fae45" fill-opacity="0.85"/>
<rect x="298.83" y="501.35" width="1.1" height="1.0" fill="#2fae45" fill-opacity="0.85"/>
<rect x="304.17" y="499.66" width="1.1" height="1.0" fill="#2fae45" fill-opacity="0.85"/>
<rect x="306.44" y="500.60" width="1.1" height="1.0" fill="#2fae45" fill-opacity="0.85"/>
<rect x="304.29" y="506.24" width="1.1" height="1.0" fill="#2fae45" fill-opacity="0.85"/>
<rect x="307.68" y="497.19" width="1.1" height="1.0" fill="#2fae45" fill-opacity="0.85"/>
<rect x="306.68" y="503.01" width="1.1" height="1.0" fill="#2fae45" fill-opacity="0.85"/>
<rect x="301.22" y="495.77" width="1.1" height="1.0" fill="#2fae45" fill-opacity="0.85"/>
<rect x="307.13" y="496.19" width="1.1" height="1.0" fill="#2fae45" fill-opacity="0.85"/>
<rect x="306.52" y="500.63" width="1.1" height="1.0" fill="#2fae45" fill-opacity="0.85"/>
<rect x="301.39" y="500.90" width="1.1" height="1.0" fill="#2fae45" fill-opacity="0.85"/>
<rect x="298.92" y="495.83" width="1.1" height="1.0" fill="#2fae45" fill-opacity="0.85"/>
<rect x="301.68" y="502.92" width="1.1" height="1.0" fill="#2fae45" fill-opacity="0.85"/>
<rect x="304.15" y="505.52" width="1.1" height="1.0" fill="#2fae45" fill-opacity="0.85"/>
<rect x="298.99" y="497.54" width="1.1" height="1.0" fill="#2fae45" fill-opacity="0.85"/>
<rect x="309.54" y="499.39" width="1.1" height="1.0" fill="#2fae45" fill-opacity="0.85"/>
<rect x="303.55" y="497.32" width="1.1" height="1.0" fill="#2fae45" fill-opacity="0.85"/>
<rect x="304.96" y="499.98" width="1.1" height="1.0" fill="#2fae45" fill-opacity="0.85"/>
<rect x="297.76" y="495.45" width="1.1" height="1.0" fill="#2fae45" fill-opacity="0.85"/>
<rect x="304.03" y="494.07" width="1.1" height="1.0" fill="#2fae45" fill-opacity="0.85"/>
<rect x="306.19" y="491.38" width="1.1" height="1.0" fill="#2fae45" fill-opacity="0.85"/>
<rect x="306.86" y="495.94" width="1.1" height="1.0" fill="#2fae45" fill-opacity="0.85"/>
<rect x="307.36" y="503.62" width="1.1" height="1.0" fill="#2fae45" fill-opacity="0.85"/>
<rect x="306.86" y="495.54" width="1.1" height="1.0" fill="#2fae45" fill-opacity="0.85"/>
<rect x="298.11" y="505.95" width="1.1" height="1.0" fill="#2fae45" fill-opacity="0.85"/>
<rect x="304.36" y="496.18" width="1.1" height="1.0" fill="#2fae45" fill-opacity="0.85"/>
<rect x="305.03" y="491.51" width="1.1" height="1.0" fill="#2fae45" fill-opacity="0.85"/>
<rect x="301.54" y="500.83" width="1.1" height="1.0" fill="#2fae45" fill-opacity="0.85"/>
<rect x="300.10" y="498.11" width="1.1" height="1.0" fill="#2fae45" fill-opacity="0.85"/>
<rect x="306.82" y="501.41" width="1.1" height="1.0" fill="#2fae45" fill-opacity="0.85"/>
<rect x="304.13" y="503.07" width="1.1" height="1.0" fill="#2fae45" fill-opacity="0.85"/>
<rect x="308.37" y="505.72" width="1.1" height="1.0" fill="#2fae45" fill-opacity="0.85"/>
<rect x="301.69" y="493.63" width="1.1" height="1.0" fill="#2fae45" fill-opacity="0.85"/>
<rect x="301.18" y="487.55" width="1.1" height="1.0" fill="#2fae45" fill-opacity="0.85"/>
<rect x="308.40" y="494.79" width="1.1" height="1.0" fill="#2fae45" fill-opacity="0.85"/>
<rect x="307.81" y="505.42" width="1.1" height="1.0" fill="#2fae45" fill-opacity="0.85"/>
<rect x="299.07" y="498.18" width="1.1" height="1.0" fill="#2fae45" fill-opacity="0.85"/>
<rect x="307.01" y="495.80" width="1.1" height="1.0" fill="#2fae45" fill-opacity="0.85"/>
<rect x="309.17" y="502.89" width="1.1" height="1.0" fill="#2fae45" fill-opacity="0.85"/>
<rect x="309.31" y="496.17" width="1.1" height="1.0" fill="#2fae45" fill-opacity="0.85"/>
<rect x="304.03" y="503.93" width="1.1" height="1.0" fill="#2fae45" fill-opacity="0.85"/>
<rect x="298.72" y="500.87" width="1.1" height="1.0" fill="#2fae45" fill-opacity="0.85"/>
<rect x="305.26" y="493.45" width="1.1" height="1.0" fill="#2fae45" fill-opacity="0.85"/>
<rect x="308.32" y="506.65" width="1.1" height="1.0" fill="#2fae45" fill-opacity="0.85"/>
<rect x="303.10" y="496.39" width="1.1" height="1.0" fill="#2fae45" fill-opacity="0.85"/>
<rect x="298.74" y="490.83" width="1.1" height="1.0" fill="#2fae45" fill-opacity="0.85"/>
<rect x="304.87" y="497.66" width="1.1" height="1.0" fill="#2fae45" fill-opacity="0.85"/>
<rect x="305.63" y="505.66" width="1.1" height="1.0" fill="#2fae45" fill-opacity="0.85"/>
<rect x="298.76" y="500.92" width="1.1" height="1.0" fill="#2fae45" fill-opacity="0.85"/>
<rect x="300.28" y="501.79" width="1.1" height="1.0" fill="#2fae45" fill-opacity="0.85"/>
<rect x="299.13" y="495.84" width="1.1" height="1.0" fill="#2fae45" fill-opacity="0.85"/>
<rect x="309.43" y="496.92" width="1.1" height="1.0" fill="#2fae45" fill-opacity="0.85"/>
<rect x="305.09" y="487.10" width="1.1" height="1.0" fill="#2fae45" fill-opacity="0.85"/>
<rect x="301.77" y="498.95" width="1.1" height="1.0" fill="#2fae45" fill-opacity="0.85"/>
<rect x="306.35" y="500.18" width="1.1" height="1.0" fill="#2fae45" fill-opacity="0.85"/>
<rect x="309.59" y="497.40" width="1.1" height="1.0" fill="#2fae45" fill-opacity="0.85"/>
<rect x="309.36" y="500.25" width="1.1" height="1.0" fill="#2fae45" fill-opacity="0.85"/>
<rect x="308.66" y="493.77" width="1.1" height="1.0" fill="#2fae45" fill-opacity="0.85"/>
<rect x="301.83" y="495.74" width="1.1" height="1.0" fill="#2fae45" fill-opacity="0.85"/>
<rect x="305.19" y="494.92" width="1.1" height="1.0" fill="#2fae45" fill-opacity="0.85"/>
<rect x="306.95" y="492.04" width="1.1" height="1.0" fill="#2fae45" fill-opacity="0.85"/>
<rect x="300.03" y="497.82" width="1.1" height="1.0" fill="#2fae45" fill-opacity="0.85"/>
<rect x="308.96" y="491.86" width="1.1" height="1.0" fill="#2fae45" fill-opacity="0.85"/>
<rect x="299.33" y="507.49" width="1.1" height="1.0" fill="#2fae45" fill-opacity="0.85"/>
<rect x="303.35" y="494.15" width="1.1" height="1.0" fill="#2fae45" fill-opacity="0.85"/>
<rect x="307.89" y="488.80" width="1.1" height="1.0" fill="#2fae45" fill-opacity="0.85"/>
<line x1="318.90" y1="517.00" x2="318.90" y2="482.97" stroke="#a4a4a4" stroke-width="1.6"/>
<rect x="312.60" y="515.70" width="12.60" height="1.80" fill="#8e8e8e"/>
<rect x="313.78" y="498.67" width="1.1" height="1.0" fill="#262626" fill-opacity="0.85"/>
<rect x="321.12" y="499.02" width="1.1" height="1.0" fill="#262626" fill-opacity="0.85"/>
<rect x="319.82" y="498.58" width="1.1" height="1.0" fill="#262626" fill-opacity="0.85"/>
<rect x="313.04" y="489.97" width="1.1" height="1.0" fill="#262626" fill-opacity="0.85"/>
<rect x="312.63" y="490.44" width="1.1" height="1.0" fill="#262626" fill-opacity="0.85"/>
<rect x="316.54" y="492.39" width="1.1" height="1.0" fill="#262626" fill-opacity="0.85"/>
<rect x="313.41" y="500.06" width="1.1" height="1.0" fill="#262626" fill-opacity="0.85"/>
<rect x="321.56" y="495.26" width="1.1" height="1.0" fill="#262626" fill-opacity="0.85"/>
<rect x="317.83" y="500.89" width="1.1" height="1.0" fill="#262626" fill-opacity="0.85"/>
<rect x="323.38" y="505.43" width="1.1" height="1.0" fill="#262626" fill-opacity="0.85"/>
<rect x="318.48" y="502.03" width="1.1" height="1.0" fill="#262626" fill-opacity="0.85"/>
<rect x="318.28" y="496.55" width="1.1" height="1.0" fill="#262626" fill-opacity="0.85"/>
<rect x="318.44" y="503.98" width="1.1" height="1.0" fill="#262626" fill-opacity="0.85"/>
<rect x="312.89" y="499.74" width="1.1" height="1.0" fill="#262626" fill-opacity="0.85"/>
<rect x="321.22" y="504.80" width="1.1" height="1.0" fill="#262626" fill-opacity="0.85"/>
<rect x="322.48" y="511.27" width="1.1" height="1.0" fill="#262626" fill-opacity="0.85"/>
<rect x="317.48" y="488.83" width="1.1" height="1.0" fill="#262626" fill-opacity="0.85"/>
<rect x="321.31" y="498.61" width="1.1" height="1.0" fill="#262626" fill-opacity="0.85"/>
<rect x="319.56" y="496.29" width="1.1" height="1.0" fill="#262626" fill-opacity="0.85"/>
<rect x="312.82" y="491.19" width="1.1" height="1.0" fill="#262626" fill-opacity="0.85"/>
<rect x="318.54" y="499.84" width="1.1" height="1.0" fill="#262626" fill-opacity="0.85"/>
<rect x="317.91" y="502.43" width="1.1" height="1.0" fill="#262626" fill-opacity="0.85"/>
<rect x="313.54" y="502.20" width="1.1" height="1.0" fill="#262626" fill-opacity="0.85"/>
<rect x="317.24" y="500.30" width="1.1" height="1.0" fill="#262626" fill-opacity="0.85"/>
<rect x="320.31" y="493.53" width="1.1" height="1.0" fill="#262626" fill-opacity="0.85"/>
<rect x="314.01" y="495.52" width="1.1" height="1.0" fill="#262626" fill-opacity="0.85"/>
<rect x="319.86" y="499.84" width="1.1" height="1.0" fill="#262626" fill-opacity="0.85"/>
<rect x="318.63" y="488.61" width="1.1" height="1.0" fill="#262626" fill-opacity="0.85"/>
<rect x="322.74" y="501.12" width="1.1" height="1.0" fill="#262626" fill-opacity="0.85"/>
<rect x="318.46" y="497.33" width="1.1" height="1.0" fill="#262626" fill-opacity="0.85"/>
<rect x="319.46" y="496.99" width="1.1" height="1.0" fill="#262626" fill-opacity="0.85"/>
<rect x="319.77" y="489.28" width="1.1" height="1.0" fill="#262626" fill-opacity="0.85"/>
<rect x="322.39" y="489.53" width="1.1" height="1.0" fill="#262626" fill-opacity="0.85"/>
<rect x="315.12" y="498.83" width="1.1" height="1.0" fill="#262626" fill-opacity="0.85"/>
<rect x="315.21" y="495.04" width="1.1" height="1.0" fill="#262626" fill-opacity="0.85"/>
<rect x="315.66" y="502.62" width="1.1" height="1.0" fill="#262626" fill-opacity="0.85"/>
<rect x="324.21" y="487.96" width="1.1" height="1.0" fill="#262626" fill-opacity="0.85"/>
<rect x="315.31" y="489.96" width="1.1" height="1.0" fill="#262626" fill-opacity="0.85"/>
<rect x="319.03" y="492.69" width="1.1" height="1.0" fill="#262626" fill-opacity="0.85"/>
<rect x="315.35" y="499.93" width="1.1" height="1.0" fill="#262626" fill-opacity="0.85"/>
<rect x="321.17" y="499.55" width="1.1" height="1.0" fill="#262626" fill-opacity="0.85"/>
<rect x="317.24" y="507.53" width="1.1" height="1.0" fill="#262626" fill-opacity="0.85"/>
<rect x="322.66" y="494.00" width="1.1" height="1.0" fill="#262626" fill-opacity="0.85"/>
<rect x="318.42" y="491.87" width="1.1" height="1.0" fill="#262626" fill-opacity="0.85"/>
<rect x="318.65" y="496.09" width="1.1" height="1.0" fill="#262626" fill-opacity="0.85"/>
<rect x="322.39" y="494.77" width="1.1" height="1.0" fill="#262626" fill-opacity="0.85"/>
<rect x="313.16" y="503.24" width="1.1" height="1.0" fill="#262626" fill-opacity="0.85"/>
<rect x="317.69" y="509.17" width="1.1" height="1.0" fill="#262626" fill-opacity="0.85"/>
<rect x="323.72" y="499.14" width="1.1" height="1.0" fill="#262626" fill-opacity="0.85"/>
<rect x="322.66" y="492.30" width="1.1" height="1.0" fill="#262626" fill-opacity="0.85"/>
<rect x="314.91" y="510.79" width="1.1" height="1.0" fill="#262626" fill-opacity="0.85"/>
<rect x="317.58" y="493.40" width="1.1" height="1.0" fill="#262626" fill-opacity="0.85"/>
<rect x="324.25" y="504.68" width="1.1" height="1.0" fill="#262626" fill-opacity="0.85"/>
<rect x="320.30" y="494.36" width="1.1" height="1.0" fill="#262626" fill-opacity="0.85"/>
<rect x="320.14" y="508.55" width="1.1" height="1.0" fill="#262626" fill-opacity="0.85"/>
<line x1="333.50" y1="517.00" x2="333.50" y2="488.78" stroke="#76a3d4" stroke-width="1.0"/>
<rect x="327.20" y="515.70" width="12.60" height="1.80" fill="#6e9ccb"/>
<rect x="331.22" y="496.63" width="1.1" height="1.0" fill="#245f9e" fill-opacity="0.85"/>
<rect x="334.16" y="509.48" width="1.1" height="1.0" fill="#245f9e" fill-opacity="0.85"/>
<rect x="328.04" y="504.47" width="1.1" height="1.0" fill="#245f9e" fill-opacity="0.85"/>
<rect x="337.95" y="498.79" width="1.1" height="1.0" fill="#245f9e" fill-opacity="0.85"/>
<rect x="328.91" y="507.31" width="1.1" height="1.0" fill="#245f9e" fill-opacity="0.85"/>
<rect x="333.53" y="497.08" width="1.1" height="1.0" fill="#245f9e" fill-opacity="0.85"/>
<rect x="334.89" y="493.15" width="1.1" height="1.0" fill="#245f9e" fill-opacity="0.85"/>
<rect x="333.82" y="506.73" width="1.1" height="1.0" fill="#245f9e" fill-opacity="0.85"/>
<rect x="328.24" y="500.03" width="1.1" height="1.0" fill="#245f9e" fill-opacity="0.85"/>
<rect x="334.28" y="500.72" width="1.1" height="1.0" fill="#245f9e" fill-opacity="0.85"/>
<rect x="335.78" y="492.73" width="1.1" height="1.0" fill="#245f9e" fill-opacity="0.85"/>
<rect x="327.79" y="501.38" width="1.1" height="1.0" fill="#245f9e" fill-opacity="0.85"/>
<rect x="336.23" y="504.76" width="1.1" height="1.0" fill="#245f9e" fill-opacity="0.85"/>
<rect x="337.76" y="501.41" width="1.1" height="1.0" fill="#245f9e" fill-opacity="0.85"/>
<rect x="327.77" y="491.81" width="1.1" height="1.0" fill="#245f9e" fill-opacity="0.85"/>
<rect x="333.67" y="499.56" width="1.1" height="1.0" fill="#245f9e" fill-opacity="0.85"/>
<rect x="332.01" y="506.18" width="1.1" height="1.0" fill="#245f9e" fill-opacity="0.85"/>
<rect x="337.90" y="496.94" width="1.1" height="1.0" fill="#245f9e" fill-opacity="0.85"/>
<rect x="335.53" y="509.46" width="1.1" height="1.0" fill="#245f9e" fill-opacity="0.85"/>
<rect x="332.96" y="496.87" width="1.1" height="1.0" fill="#245f9e" fill-opacity="0.85"/>
<rect x="328.32" y="508.43" width="1.1" height="1.0" fill="#245f9e" fill-opacity="0.85"/>
<rect x="327.41" y="502.29" width="1.1" height="1.0" fill="#245f9e" fill-opacity="0.85"/>
<rect x="327.76" y="502.94" width="1.1" height="1.0" fill="#245f9e" fill-opacity="0.85"/>
<rect x="335.42" y="494.75" width="1.1" height="1.0" fill="#245f9e" fill-opacity="0.85"/>
<rect x="337.93" y="502.91" width="1.1" height="1.0" fill="#245f9e" fill-opacity="0.85"/>
<rect x="337.18" y="493.88" width="1.1" height="1.0" fill="#245f9e" fill-opacity="0.85"/>
<rect x="327.44" y="507.45" width="1.1" height="1.0" fill="#245f9e" fill-opacity="0.85"/>
<rect x="327.41" y="498.30" width="1.1" height="1.0" fill="#245f9e" fill-opacity="0.85"/>
<rect x="335.29" y="502.64" width="1.1" height="1.0" fill="#245f9e" fill-opacity="0.85"/>
<rect x="328.55" y="501.34" width="1.1" height="1.0" fill="#245f9e" fill-opacity="0.85"/>
<rect x="328.76" y="499.09" width="1.1" height="1.0" fill="#245f9e" fill-opacity="0.85"/>
<rect x="335.98" y="490.54" width="1.1" height="1.0" fill="#245f9e" fill-opacity="0.85"/>
<rect x="332.22" y="493.62" width="1.1" height="1.0" fill="#245f9e" fill-opacity="0.85"/>
<rect x="329.98" y="500.12" width="1.1" height="1.0" fill="#245f9e" fill-opacity="0.85"/>
<rect x="329.61" y="506.31" width="1.1" height="1.0" fill="#245f9e" fill-opacity="0.85"/>
<line x1="348.30" y1="517.00" x2="348.30" y2="483.80" stroke="#e06a80" stroke-width="1.0"/>
<rect x="342.00" y="515.70" width="12.60" height="1.80" fill="#e0707f"/>
<rect x="344.28" y="486.37" width="1.1" height="1.0" fill="#cf1d3d" fill-opacity="0.85"/>
<rect x="346.94" y="498.42" width="1.1" height="1.0" fill="#cf1d3d" fill-opacity="0.85"/>
<rect x="348.11" y="492.37" width="1.1" height="1.0" fill="#cf1d3d" fill-opacity="0.85"/>
<rect x="348.00" y="497.19" width="1.1" height="1.0" fill="#cf1d3d" fill-opacity="0.85"/>
<rect x="348.47" y="495.70" width="1.1" height="1.0" fill="#cf1d3d" fill-opacity="0.85"/>
<rect x="343.42" y="492.69" width="1.1" height="1.0" fill="#cf1d3d" fill-opacity="0.85"/>
<rect x="345.82" y="497.40" width="1.1" height="1.0" fill="#cf1d3d" fill-opacity="0.85"/>
<rect x="346.06" y="492.55" width="1.1" height="1.0" fill="#cf1d3d" fill-opacity="0.85"/>
<rect x="348.39" y="498.88" width="1.1" height="1.0" fill="#cf1d3d" fill-opacity="0.85"/>
<rect x="352.99" y="490.90" width="1.1" height="1.0" fill="#cf1d3d" fill-opacity="0.85"/>
<rect x="347.65" y="492.43" width="1.1" height="1.0" fill="#cf1d3d" fill-opacity="0.85"/>
<rect x="342.84" y="495.32" width="1.1" height="1.0" fill="#cf1d3d" fill-opacity="0.85"/>
<rect x="353.51" y="496.01" width="1.1" height="1.0" fill="#cf1d3d" fill-opacity="0.85"/>
<rect x="343.24" y="487.45" width="1.1" height="1.0" fill="#cf1d3d" fill-opacity="0.85"/>
<rect x="348.96" y="490.48" width="1.1" height="1.0" fill="#cf1d3d" fill-opacity="0.85"/>
<rect x="346.80" y="497.20" width="1.1" height="1.0" fill="#cf1d3d" fill-opacity="0.85"/>
<rect x="353.76" y="493.61" width="1.1" height="1.0" fill="#cf1d3d" fill-opacity="0.85"/>
<rect x="341.83" y="500.21" width="1.1" height="1.0" fill="#cf1d3d" fill-opacity="0.85"/>
<rect x="352.92" y="498.12" width="1.1" height="1.0" fill="#cf1d3d" fill-opacity="0.85"/>
<rect x="346.85" y="500.10" width="1.1" height="1.0" fill="#cf1d3d" fill-opacity="0.85"/>
<rect x="344.33" y="493.26" width="1.1" height="1.0" fill="#cf1d3d" fill-opacity="0.85"/>
<rect x="353.76" y="494.06" width="1.1" height="1.0" fill="#cf1d3d" fill-opacity="0.85"/>
<rect x="350.87" y="486.40" width="1.1" height="1.0" fill="#cf1d3d" fill-opacity="0.85"/>
<rect x="345.24" y="488.26" width="1.1" height="1.0" fill="#cf1d3d" fill-opacity="0.85"/>
<rect x="348.34" y="494.34" width="1.1" height="1.0" fill="#cf1d3d" fill-opacity="0.85"/>
<rect x="342.62" y="493.03" width="1.1" height="1.0" fill="#cf1d3d" fill-opacity="0.85"/>
<rect x="348.28" y="493.54" width="1.1" height="1.0" fill="#cf1d3d" fill-opacity="0.85"/>
<rect x="347.90" y="489.63" width="1.1" height="1.0" fill="#cf1d3d" fill-opacity="0.85"/>
<rect x="348.81" y="497.45" width="1.1" height="1.0" fill="#cf1d3d" fill-opacity="0.85"/>
<rect x="351.97" y="487.79" width="1.1" height="1.0" fill="#cf1d3d" fill-opacity="0.85"/>
<rect x="342.10" y="491.52" width="1.1" height="1.0" fill="#cf1d3d" fill-opacity="0.85"/>
<rect x="347.87" y="488.95" width="1.1" height="1.0" fill="#cf1d3d" fill-opacity="0.85"/>
<rect x="342.40" y="497.24" width="1.1" height="1.0" fill="#cf1d3d" fill-opacity="0.85"/>
<rect x="352.38" y="499.15" width="1.1" height="1.0" fill="#cf1d3d" fill-opacity="0.85"/>
<rect x="344.38" y="498.97" width="1.1" height="1.0" fill="#cf1d3d" fill-opacity="0.85"/>
<rect x="353.78" y="495.44" width="1.1" height="1.0" fill="#cf1d3d" fill-opacity="0.85"/>
<rect x="344.17" y="500.50" width="1.1" height="1.0" fill="#cf1d3d" fill-opacity="0.85"/>
<rect x="351.22" y="491.75" width="1.1" height="1.0" fill="#cf1d3d" fill-opacity="0.85"/>
<rect x="345.97" y="491.19" width="1.1" height="1.0" fill="#cf1d3d" fill-opacity="0.85"/>
<rect x="353.04" y="494.66" width="1.1" height="1.0" fill="#cf1d3d" fill-opacity="0.85"/>
<rect x="348.79" y="491.45" width="1.1" height="1.0" fill="#cf1d3d" fill-opacity="0.85"/>
<rect x="351.10" y="486.51" width="1.1" height="1.0" fill="#cf1d3d" fill-opacity="0.85"/>
<rect x="351.57" y="505.36" width="1.1" height="1.0" fill="#cf1d3d" fill-opacity="0.85"/>
<rect x="349.58" y="490.23" width="1.1" height="1.0" fill="#cf1d3d" fill-opacity="0.85"/>
<rect x="353.71" y="493.78" width="1.1" height="1.0" fill="#cf1d3d" fill-opacity="0.85"/>
<rect x="346.36" y="495.89" width="1.1" height="1.0" fill="#cf1d3d" fill-opacity="0.85"/>
<rect x="349.28" y="494.44" width="1.1" height="1.0" fill="#cf1d3d" fill-opacity="0.85"/>
<rect x="348.00" y="486.16" width="1.1" height="1.0" fill="#cf1d3d" fill-opacity="0.85"/>
<rect x="346.88" y="501.75" width="1.1" height="1.0" fill="#cf1d3d" fill-opacity="0.85"/>
<rect x="349.72" y="498.54" width="1.1" height="1.0" fill="#cf1d3d" fill-opacity="0.85"/>
<rect x="349.50" y="502.00" width="1.1" height="1.0" fill="#cf1d3d" fill-opacity="0.85"/>
<rect x="345.34" y="500.46" width="1.1" height="1.0" fill="#cf1d3d" fill-opacity="0.85"/>
<rect x="345.31" y="488.95" width="1.1" height="1.0" fill="#cf1d3d" fill-opacity="0.85"/>
<rect x="342.23" y="489.72" width="1.1" height="1.0" fill="#cf1d3d" fill-opacity="0.85"/>
<rect x="352.20" y="489.40" width="1.1" height="1.0" fill="#cf1d3d" fill-opacity="0.85"/>
<rect x="348.47" y="498.23" width="1.1" height="1.0" fill="#cf1d3d" fill-opacity="0.85"/>
<rect x="342.64" y="486.90" width="1.1" height="1.0" fill="#cf1d3d" fill-opacity="0.85"/>
<rect x="349.15" y="488.57" width="1.1" height="1.0" fill="#cf1d3d" fill-opacity="0.85"/>
<rect x="352.26" y="496.84" width="1.1" height="1.0" fill="#cf1d3d" fill-opacity="0.85"/>
<rect x="347.74" y="489.78" width="1.1" height="1.0" fill="#cf1d3d" fill-opacity="0.85"/>
<rect x="349.44" y="496.56" width="1.1" height="1.0" fill="#cf1d3d" fill-opacity="0.85"/>
<rect x="345.91" y="492.93" width="1.1" height="1.0" fill="#cf1d3d" fill-opacity="0.85"/>
<rect x="352.59" y="492.33" width="1.1" height="1.0" fill="#cf1d3d" fill-opacity="0.85"/>
<rect x="353.36" y="485.76" width="1.1" height="1.0" fill="#cf1d3d" fill-opacity="0.85"/>
<rect x="349.85" y="499.66" width="1.1" height="1.0" fill="#cf1d3d" fill-opacity="0.85"/>
<rect x="349.29" y="491.13" width="1.1" height="1.0" fill="#cf1d3d" fill-opacity="0.85"/>
<rect x="347.08" y="489.90" width="1.1" height="1.0" fill="#cf1d3d" fill-opacity="0.85"/>
<rect x="349.26" y="499.76" width="1.1" height="1.0" fill="#cf1d3d" fill-opacity="0.85"/>
<rect x="342.98" y="493.60" width="1.1" height="1.0" fill="#cf1d3d" fill-opacity="0.85"/>
<rect x="351.30" y="495.06" width="1.1" height="1.0" fill="#cf1d3d" fill-opacity="0.85"/>
<rect x="346.11" y="493.25" width="1.1" height="1.0" fill="#cf1d3d" fill-opacity="0.85"/>
<rect x="346.50" y="493.71" width="1.1" height="1.0" fill="#cf1d3d" fill-opacity="0.85"/>
<rect x="342.08" y="496.88" width="1.1" height="1.0" fill="#cf1d3d" fill-opacity="0.85"/>
<rect x="344.50" y="493.49" width="1.1" height="1.0" fill="#cf1d3d" fill-opacity="0.85"/>
<rect x="350.42" y="498.58" width="1.1" height="1.0" fill="#cf1d3d" fill-opacity="0.85"/>
<rect x="345.19" y="496.53" width="1.1" height="1.0" fill="#cf1d3d" fill-opacity="0.85"/>
<rect x="353.17" y="496.29" width="1.1" height="1.0" fill="#cf1d3d" fill-opacity="0.85"/>
<rect x="348.99" y="488.42" width="1.1" height="1.0" fill="#cf1d3d" fill-opacity="0.85"/>
<rect x="352.38" y="485.68" width="1.1" height="1.0" fill="#cf1d3d" fill-opacity="0.85"/>
<rect x="345.46" y="489.36" width="1.1" height="1.0" fill="#cf1d3d" fill-opacity="0.85"/>
<rect x="352.59" y="501.35" width="1.1" height="1.0" fill="#cf1d3d" fill-opacity="0.85"/>
<rect x="352.11" y="489.99" width="1.1" height="1.0" fill="#cf1d3d" fill-opacity="0.85"/>
<rect x="349.01" y="486.26" width="1.1" height="1.0" fill="#cf1d3d" fill-opacity="0.85"/>
<rect x="345.82" y="496.77" width="1.1" height="1.0" fill="#cf1d3d" fill-opacity="0.85"/>
<rect x="347.13" y="486.76" width="1.1" height="1.0" fill="#cf1d3d" fill-opacity="0.85"/>
<rect x="347.60" y="495.33" width="1.1" height="1.0" fill="#cf1d3d" fill-opacity="0.85"/>
<rect x="352.64" y="500.84" width="1.1" height="1.0" fill="#cf1d3d" fill-opacity="0.85"/>
<rect x="349.08" y="488.89" width="1.1" height="1.0" fill="#cf1d3d" fill-opacity="0.85"/>
<rect x="346.86" y="488.50" width="1.1" height="1.0" fill="#cf1d3d" fill-opacity="0.85"/>
<rect x="345.38" y="491.61" width="1.1" height="1.0" fill="#cf1d3d" fill-opacity="0.85"/>
<rect x="341.94" y="492.56" width="1.1" height="1.0" fill="#cf1d3d" fill-opacity="0.85"/>
<rect x="349.24" y="487.92" width="1.1" height="1.0" fill="#cf1d3d" fill-opacity="0.85"/>
<rect x="346.16" y="497.80" width="1.1" height="1.0" fill="#cf1d3d" fill-opacity="0.85"/>
<rect x="349.78" y="496.79" width="1.1" height="1.0" fill="#cf1d3d" fill-opacity="0.85"/>
<rect x="347.24" y="493.05" width="1.1" height="1.0" fill="#cf1d3d" fill-opacity="0.85"/>
<rect x="343.99" y="496.82" width="1.1" height="1.0" fill="#cf1d3d" fill-opacity="0.85"/>
<rect x="344.61" y="496.69" width="1.1" height="1.0" fill="#cf1d3d" fill-opacity="0.85"/>
<rect x="343.66" y="495.28" width="1.1" height="1.0" fill="#cf1d3d" fill-opacity="0.85"/>
<rect x="346.12" y="495.62" width="1.1" height="1.0" fill="#cf1d3d" fill-opacity="0.85"/>
<rect x="349.96" y="508.40" width="1.1" height="1.0" fill="#cf1d3d" fill-opacity="0.85"/>
<rect x="349.19" y="496.65" width="1.1" height="1.0" fill="#cf1d3d" fill-opacity="0.85"/>
<rect x="344.09" y="496.41" width="1.1" height="1.0" fill="#cf1d3d" fill-opacity="0.85"/>
<rect x="352.38" y="499.16" width="1.1" height="1.0" fill="#cf1d3d" fill-opacity="0.85"/>
<rect x="345.39" y="492.27" width="1.1" height="1.0" fill="#cf1d3d" fill-opacity="0.85"/>
<rect x="350.19" y="495.95" width="1.1" height="1.0" fill="#cf1d3d" fill-opacity="0.85"/>
<rect x="348.13" y="505.88" width="1.1" height="1.0" fill="#cf1d3d" fill-opacity="0.85"/>
<rect x="350.73" y="494.01" width="1.1" height="1.0" fill="#cf1d3d" fill-opacity="0.85"/>
<rect x="343.00" y="492.19" width="1.1" height="1.0" fill="#cf1d3d" fill-opacity="0.85"/>
<rect x="348.96" y="492.06" width="1.1" height="1.0" fill="#cf1d3d" fill-opacity="0.85"/>
<rect x="348.63" y="489.63" width="1.1" height="1.0" fill="#cf1d3d" fill-opacity="0.85"/>
<rect x="348.88" y="488.13" width="1.1" height="1.0" fill="#cf1d3d" fill-opacity="0.85"/>
<rect x="342.77" y="502.25" width="1.1" height="1.0" fill="#cf1d3d" fill-opacity="0.85"/>
<rect x="343.62" y="495.34" width="1.1" height="1.0" fill="#cf1d3d" fill-opacity="0.85"/>
<rect x="349.54" y="503.00" width="1.1" height="1.0" fill="#cf1d3d" fill-opacity="0.85"/>
<rect x="350.44" y="486.95" width="1.1" height="1.0" fill="#cf1d3d" fill-opacity="0.85"/>
<rect x="348.11" y="492.30" width="1.1" height="1.0" fill="#cf1d3d" fill-opacity="0.85"/>
<rect x="352.33" y="492.79" width="1.1" height="1.0" fill="#cf1d3d" fill-opacity="0.85"/>
<rect x="351.25" y="495.62" width="1.1" height="1.0" fill="#cf1d3d" fill-opacity="0.85"/>
<rect x="342.36" y="495.93" width="1.1" height="1.0" fill="#cf1d3d" fill-opacity="0.85"/>
<rect x="348.26" y="494.37" width="1.1" height="1.0" fill="#cf1d3d" fill-opacity="0.85"/>
<rect x="353.16" y="498.52" width="1.1" height="1.0" fill="#cf1d3d" fill-opacity="0.85"/>
<rect x="347.63" y="494.09" width="1.1" height="1.0" fill="#cf1d3d" fill-opacity="0.85"/>
<rect x="343.13" y="495.44" width="1.1" height="1.0" fill="#cf1d3d" fill-opacity="0.85"/>
<rect x="349.39" y="492.44" width="1.1" height="1.0" fill="#cf1d3d" fill-opacity="0.85"/>
<rect x="345.62" y="493.24" width="1.1" height="1.0" fill="#cf1d3d" fill-opacity="0.85"/>
<rect x="352.32" y="490.38" width="1.1" height="1.0" fill="#cf1d3d" fill-opacity="0.85"/>
<rect x="352.78" y="486.21" width="1.1" height="1.0" fill="#cf1d3d" fill-opacity="0.85"/>
<rect x="350.56" y="486.66" width="1.1" height="1.0" fill="#cf1d3d" fill-opacity="0.85"/>
<rect x="348.19" y="490.55" width="1.1" height="1.0" fill="#cf1d3d" fill-opacity="0.85"/>
<rect x="347.06" y="489.97" width="1.1" height="1.0" fill="#cf1d3d" fill-opacity="0.85"/>
<line x1="295.70" y1="518.60" x2="295.70" y2="482.30" stroke="#111" stroke-width="1.2"/>
<line x1="295.10" y1="518.10" x2="355.50" y2="518.10" stroke="#111" stroke-width="1.2"/>
<line x1="293.50" y1="517.00" x2="295.70" y2="517.00" stroke="#111" stroke-width="1.0"/>
<text x="291.10" y="520.55" font-size="8.3" text-anchor="end" fill="#111">0</text>
<line x1="293.50" y1="508.70" x2="295.70" y2="508.70" stroke="#111" stroke-width="1.0"/>
<text x="291.10" y="512.25" font-size="8.3" text-anchor="end" fill="#111">1</text>
<line x1="293.50" y1="500.40" x2="295.70" y2="500.40" stroke="#111" stroke-width="1.0"/>
<text x="291.10" y="503.95" font-size="8.3" text-anchor="end" fill="#111">2</text>
<line x1="293.50" y1="492.10" x2="295.70" y2="492.10" stroke="#111" stroke-width="1.0"/>
<text x="291.10" y="495.65" font-size="8.3" text-anchor="end" fill="#111">3</text>
<line x1="293.50" y1="483.80" x2="295.70" y2="483.80" stroke="#111" stroke-width="1.0"/>
<text x="291.10" y="487.35" font-size="8.3" text-anchor="end" fill="#111">4</text>
<line x1="304.20" y1="518.10" x2="304.20" y2="520.00" stroke="#111" stroke-width="1.0"/>
<text x="304.20" y="529.35" font-size="8.3" text-anchor="middle" fill="#111">2</text>
<line x1="318.90" y1="518.10" x2="318.90" y2="520.00" stroke="#111" stroke-width="1.0"/>
<text x="318.90" y="529.35" font-size="8.3" text-anchor="middle" fill="#111">3</text>
<line x1="333.50" y1="518.10" x2="333.50" y2="520.00" stroke="#111" stroke-width="1.0"/>
<text x="333.50" y="529.35" font-size="8.3" text-anchor="middle" fill="#111">4</text>
<line x1="348.30" y1="518.10" x2="348.30" y2="520.00" stroke="#111" stroke-width="1.0"/>
<text x="348.30" y="529.35" font-size="8.3" text-anchor="middle" fill="#111">5</text>
<text x="400.50" y="477.77" font-size="9.2" text-anchor="middle" font-style="italic" fill="#111">Trbv23</text>
<line x1="378.50" y1="517.00" x2="378.50" y2="492.25" stroke="#a9c9ab" stroke-width="1.0"/>
<rect x="372.20" y="515.70" width="12.60" height="1.80" fill="#7fcf88"/>
<rect x="381.25" y="492.64" width="1.1" height="1.0" fill="#2fae45" fill-opacity="0.85"/>
<rect x="386.90" y="515.70" width="12.60" height="1.80" fill="#8e8e8e"/>
<line x1="407.80" y1="517.00" x2="407.80" y2="483.34" stroke="#76a3d4" stroke-width="1.6"/>
<rect x="401.50" y="515.70" width="12.60" height="1.80" fill="#6e9ccb"/>
<rect x="411.55" y="494.63" width="1.1" height="1.0" fill="#245f9e" fill-opacity="0.85"/>
<rect x="408.72" y="488.24" width="1.1" height="1.0" fill="#245f9e" fill-opacity="0.85"/>
<rect x="404.04" y="499.00" width="1.1" height="1.0" fill="#245f9e" fill-opacity="0.85"/>
<rect x="411.79" y="494.30" width="1.1" height="1.0" fill="#245f9e" fill-opacity="0.85"/>
<rect x="408.15" y="494.67" width="1.1" height="1.0" fill="#245f9e" fill-opacity="0.85"/>
<rect x="409.18" y="498.52" width="1.1" height="1.0" fill="#245f9e" fill-opacity="0.85"/>
<rect x="405.62" y="491.42" width="1.1" height="1.0" fill="#245f9e" fill-opacity="0.85"/>
<rect x="404.49" y="496.99" width="1.1" height="1.0" fill="#245f9e" fill-opacity="0.85"/>
<rect x="409.41" y="504.22" width="1.1" height="1.0" fill="#245f9e" fill-opacity="0.85"/>
<rect x="404.06" y="500.75" width="1.1" height="1.0" fill="#245f9e" fill-opacity="0.85"/>
<rect x="404.25" y="496.14" width="1.1" height="1.0" fill="#245f9e" fill-opacity="0.85"/>
<rect x="407.24" y="493.35" width="1.1" height="1.0" fill="#245f9e" fill-opacity="0.85"/>
<rect x="404.99" y="492.53" width="1.1" height="1.0" fill="#245f9e" fill-opacity="0.85"/>
<rect x="406.60" y="491.54" width="1.1" height="1.0" fill="#245f9e" fill-opacity="0.85"/>
<rect x="408.32" y="492.53" width="1.1" height="1.0" fill="#245f9e" fill-opacity="0.85"/>
<rect x="406.40" y="497.63" width="1.1" height="1.0" fill="#245f9e" fill-opacity="0.85"/>
<rect x="409.81" y="495.84" width="1.1" height="1.0" fill="#245f9e" fill-opacity="0.85"/>
<rect x="410.38" y="490.74" width="1.1" height="1.0" fill="#245f9e" fill-opacity="0.85"/>
<rect x="409.36" y="495.91" width="1.1" height="1.0" fill="#245f9e" fill-opacity="0.85"/>
<rect x="405.49" y="505.08" width="1.1" height="1.0" fill="#245f9e" fill-opacity="0.85"/>
<rect x="408.28" y="494.12" width="1.1" height="1.0" fill="#245f9e" fill-opacity="0.85"/>
<rect x="409.86" y="488.40" width="1.1" height="1.0" fill="#245f9e" fill-opacity="0.85"/>
<rect x="411.58" y="487.41" width="1.1" height="1.0" fill="#245f9e" fill-opacity="0.85"/>
<rect x="408.87" y="499.69" width="1.1" height="1.0" fill="#245f9e" fill-opacity="0.85"/>
<rect x="407.27" y="498.42" width="1.1" height="1.0" fill="#245f9e" fill-opacity="0.85"/>
<rect x="409.98" y="502.86" width="1.1" height="1.0" fill="#245f9e" fill-opacity="0.85"/>
<rect x="405.89" y="490.57" width="1.1" height="1.0" fill="#245f9e" fill-opacity="0.85"/>
<rect x="406.23" y="498.96" width="1.1" height="1.0" fill="#245f9e" fill-opacity="0.85"/>
<rect x="407.26" y="499.63" width="1.1" height="1.0" fill="#245f9e" fill-opacity="0.85"/>
<rect x="406.30" y="498.92" width="1.1" height="1.0" fill="#245f9e" fill-opacity="0.85"/>
<rect x="411.23" y="495.33" width="1.1" height="1.0" fill="#245f9e" fill-opacity="0.85"/>
<rect x="411.46" y="502.27" width="1.1" height="1.0" fill="#245f9e" fill-opacity="0.85"/>
<rect x="409.49" y="489.78" width="1.1" height="1.0" fill="#245f9e" fill-opacity="0.85"/>
<rect x="407.62" y="494.35" width="1.1" height="1.0" fill="#245f9e" fill-opacity="0.85"/>
<rect x="406.27" y="497.59" width="1.1" height="1.0" fill="#245f9e" fill-opacity="0.85"/>
<rect x="410.55" y="497.34" width="1.1" height="1.0" fill="#245f9e" fill-opacity="0.85"/>
<rect x="411.06" y="499.65" width="1.1" height="1.0" fill="#245f9e" fill-opacity="0.85"/>
<rect x="411.09" y="503.69" width="1.1" height="1.0" fill="#245f9e" fill-opacity="0.85"/>
<rect x="410.88" y="487.49" width="1.1" height="1.0" fill="#245f9e" fill-opacity="0.85"/>
<rect x="411.17" y="503.03" width="1.1" height="1.0" fill="#245f9e" fill-opacity="0.85"/>
<rect x="406.81" y="499.11" width="1.1" height="1.0" fill="#245f9e" fill-opacity="0.85"/>
<rect x="409.70" y="492.16" width="1.1" height="1.0" fill="#245f9e" fill-opacity="0.85"/>
<rect x="406.66" y="487.45" width="1.1" height="1.0" fill="#245f9e" fill-opacity="0.85"/>
<rect x="403.54" y="495.79" width="1.1" height="1.0" fill="#245f9e" fill-opacity="0.85"/>
<rect x="404.15" y="493.53" width="1.1" height="1.0" fill="#245f9e" fill-opacity="0.85"/>
<line x1="422.60" y1="517.00" x2="422.60" y2="488.78" stroke="#e06a80" stroke-width="1.0"/>
<rect x="416.30" y="515.70" width="12.60" height="1.80" fill="#e0707f"/>
<rect x="423.65" y="488.28" width="1.1" height="1.0" fill="#cf1d3d" fill-opacity="0.85"/>
<rect x="418.65" y="506.11" width="1.1" height="1.0" fill="#cf1d3d" fill-opacity="0.85"/>
<line x1="370.00" y1="518.60" x2="370.00" y2="482.30" stroke="#111" stroke-width="1.2"/>
<line x1="369.40" y1="518.10" x2="429.80" y2="518.10" stroke="#111" stroke-width="1.2"/>
<line x1="367.80" y1="517.00" x2="370.00" y2="517.00" stroke="#111" stroke-width="1.0"/>
<text x="365.40" y="520.55" font-size="8.3" text-anchor="end" fill="#111">0</text>
<line x1="367.80" y1="507.10" x2="370.00" y2="507.10" stroke="#111" stroke-width="1.0"/>
<text x="365.40" y="510.65" font-size="8.3" text-anchor="end" fill="#111">1</text>
<line x1="367.80" y1="497.20" x2="370.00" y2="497.20" stroke="#111" stroke-width="1.0"/>
<text x="365.40" y="500.75" font-size="8.3" text-anchor="end" fill="#111">2</text>
<line x1="367.80" y1="487.30" x2="370.00" y2="487.30" stroke="#111" stroke-width="1.0"/>
<text x="365.40" y="490.85" font-size="8.3" text-anchor="end" fill="#111">3</text>
<line x1="378.50" y1="518.10" x2="378.50" y2="520.00" stroke="#111" stroke-width="1.0"/>
<text x="378.50" y="529.35" font-size="8.3" text-anchor="middle" fill="#111">2</text>
<line x1="393.20" y1="518.10" x2="393.20" y2="520.00" stroke="#111" stroke-width="1.0"/>
<text x="393.20" y="529.35" font-size="8.3" text-anchor="middle" fill="#111">3</text>
<line x1="407.80" y1="518.10" x2="407.80" y2="520.00" stroke="#111" stroke-width="1.0"/>
<text x="407.80" y="529.35" font-size="8.3" text-anchor="middle" fill="#111">4</text>
<line x1="422.60" y1="518.10" x2="422.60" y2="520.00" stroke="#111" stroke-width="1.0"/>
<text x="422.60" y="529.35" font-size="8.3" text-anchor="middle" fill="#111">5</text>
<text x="479.10" y="477.77" font-size="9.2" text-anchor="middle" font-style="italic" fill="#111">Trbv26</text>
<line x1="457.10" y1="517.00" x2="457.10" y2="486.28" stroke="#a9c9ab" stroke-width="1.0"/>
<rect x="450.80" y="515.70" width="12.60" height="1.80" fill="#7fcf88"/>
<rect x="461.17" y="489.88" width="1.1" height="1.0" fill="#2fae45" fill-opacity="0.85"/>
<rect x="455.22" y="489.27" width="1.1" height="1.0" fill="#2fae45" fill-opacity="0.85"/>
<rect x="451.57" y="499.05" width="1.1" height="1.0" fill="#2fae45" fill-opacity="0.85"/>
<rect x="453.18" y="493.93" width="1.1" height="1.0" fill="#2fae45" fill-opacity="0.85"/>
<rect x="452.89" y="494.40" width="1.1" height="1.0" fill="#2fae45" fill-opacity="0.85"/>
<rect x="461.61" y="492.65" width="1.1" height="1.0" fill="#2fae45" fill-opacity="0.85"/>
<rect x="462.46" y="493.56" width="1.1" height="1.0" fill="#2fae45" fill-opacity="0.85"/>
<rect x="455.29" y="494.76" width="1.1" height="1.0" fill="#2fae45" fill-opacity="0.85"/>
<rect x="458.37" y="505.48" width="1.1" height="1.0" fill="#2fae45" fill-opacity="0.85"/>
<rect x="451.26" y="505.72" width="1.1" height="1.0" fill="#2fae45" fill-opacity="0.85"/>
<rect x="455.98" y="500.39" width="1.1" height="1.0" fill="#2fae45" fill-opacity="0.85"/>
<rect x="454.75" y="510.45" width="1.1" height="1.0" fill="#2fae45" fill-opacity="0.85"/>
<rect x="461.91" y="501.76" width="1.1" height="1.0" fill="#2fae45" fill-opacity="0.85"/>
<rect x="456.48" y="494.91" width="1.1" height="1.0" fill="#2fae45" fill-opacity="0.85"/>
<rect x="462.44" y="487.49" width="1.1" height="1.0" fill="#2fae45" fill-opacity="0.85"/>
<rect x="461.42" y="490.71" width="1.1" height="1.0" fill="#2fae45" fill-opacity="0.85"/>
<rect x="461.22" y="499.73" width="1.1" height="1.0" fill="#2fae45" fill-opacity="0.85"/>
<rect x="461.96" y="493.07" width="1.1" height="1.0" fill="#2fae45" fill-opacity="0.85"/>
<rect x="453.42" y="493.89" width="1.1" height="1.0" fill="#2fae45" fill-opacity="0.85"/>
<rect x="454.83" y="507.08" width="1.1" height="1.0" fill="#2fae45" fill-opacity="0.85"/>
<rect x="460.02" y="494.76" width="1.1" height="1.0" fill="#2fae45" fill-opacity="0.85"/>
<rect x="457.22" y="494.57" width="1.1" height="1.0" fill="#2fae45" fill-opacity="0.85"/>
<rect x="450.92" y="490.05" width="1.1" height="1.0" fill="#2fae45" fill-opacity="0.85"/>
<rect x="460.83" y="495.24" width="1.1" height="1.0" fill="#2fae45" fill-opacity="0.85"/>
<rect x="452.89" y="509.78" width="1.1" height="1.0" fill="#2fae45" fill-opacity="0.85"/>
<rect x="459.40" y="502.08" width="1.1" height="1.0" fill="#2fae45" fill-opacity="0.85"/>
<rect x="457.97" y="499.06" width="1.1" height="1.0" fill="#2fae45" fill-opacity="0.85"/>
<rect x="453.63" y="495.49" width="1.1" height="1.0" fill="#2fae45" fill-opacity="0.85"/>
<rect x="451.46" y="500.61" width="1.1" height="1.0" fill="#2fae45" fill-opacity="0.85"/>
<rect x="452.29" y="489.64" width="1.1" height="1.0" fill="#2fae45" fill-opacity="0.85"/>
<rect x="459.47" y="502.60" width="1.1" height="1.0" fill="#2fae45" fill-opacity="0.85"/>
<rect x="459.99" y="504.74" width="1.1" height="1.0" fill="#2fae45" fill-opacity="0.85"/>
<rect x="459.38" y="496.05" width="1.1" height="1.0" fill="#2fae45" fill-opacity="0.85"/>
<rect x="455.25" y="503.87" width="1.1" height="1.0" fill="#2fae45" fill-opacity="0.85"/>
<rect x="455.26" y="497.78" width="1.1" height="1.0" fill="#2fae45" fill-opacity="0.85"/>
<rect x="457.32" y="496.68" width="1.1" height="1.0" fill="#2fae45" fill-opacity="0.85"/>
<rect x="462.25" y="494.51" width="1.1" height="1.0" fill="#2fae45" fill-opacity="0.85"/>
<rect x="450.96" y="504.23" width="1.1" height="1.0" fill="#2fae45" fill-opacity="0.85"/>
<rect x="461.64" y="501.72" width="1.1" height="1.0" fill="#2fae45" fill-opacity="0.85"/>
<rect x="459.23" y="500.62" width="1.1" height="1.0" fill="#2fae45" fill-opacity="0.85"/>
<rect x="461.19" y="493.19" width="1.1" height="1.0" fill="#2fae45" fill-opacity="0.85"/>
<rect x="453.19" y="496.33" width="1.1" height="1.0" fill="#2fae45" fill-opacity="0.85"/>
<rect x="462.54" y="496.66" width="1.1" height="1.0" fill="#2fae45" fill-opacity="0.85"/>
<rect x="458.41" y="501.42" width="1.1" height="1.0" fill="#2fae45" fill-opacity="0.85"/>
<rect x="456.62" y="498.58" width="1.1" height="1.0" fill="#2fae45" fill-opacity="0.85"/>
<rect x="455.07" y="496.35" width="1.1" height="1.0" fill="#2fae45" fill-opacity="0.85"/>
<rect x="462.22" y="496.77" width="1.1" height="1.0" fill="#2fae45" fill-opacity="0.85"/>
<rect x="455.11" y="489.20" width="1.1" height="1.0" fill="#2fae45" fill-opacity="0.85"/>
<rect x="457.86" y="499.70" width="1.1" height="1.0" fill="#2fae45" fill-opacity="0.85"/>
<rect x="452.54" y="495.54" width="1.1" height="1.0" fill="#2fae45" fill-opacity="0.85"/>
<rect x="450.85" y="489.38" width="1.1" height="1.0" fill="#2fae45" fill-opacity="0.85"/>
<rect x="458.04" y="501.24" width="1.1" height="1.0" fill="#2fae45" fill-opacity="0.85"/>
<rect x="457.85" y="508.03" width="1.1" height="1.0" fill="#2fae45" fill-opacity="0.85"/>
<rect x="451.95" y="496.66" width="1.1" height="1.0" fill="#2fae45" fill-opacity="0.85"/>
<rect x="451.62" y="507.77" width="1.1" height="1.0" fill="#2fae45" fill-opacity="0.85"/>
<line x1="471.80" y1="517.00" x2="471.80" y2="483.40" stroke="#a4a4a4" stroke-width="1.6"/>
<rect x="465.50" y="515.70" width="12.60" height="1.80" fill="#8e8e8e"/>
<rect x="475.81" y="495.92" width="1.1" height="1.0" fill="#262626" fill-opacity="0.85"/>
<rect x="466.21" y="498.53" width="1.1" height="1.0" fill="#262626" fill-opacity="0.85"/>
<rect x="470.14" y="502.22" width="1.1" height="1.0" fill="#262626" fill-opacity="0.85"/>
<rect x="466.72" y="504.81" width="1.1" height="1.0" fill="#262626" fill-opacity="0.85"/>
<rect x="472.44" y="505.17" width="1.1" height="1.0" fill="#262626" fill-opacity="0.85"/>
<rect x="471.34" y="501.84" width="1.1" height="1.0" fill="#262626" fill-opacity="0.85"/>
<rect x="472.86" y="498.83" width="1.1" height="1.0" fill="#262626" fill-opacity="0.85"/>
<rect x="466.18" y="497.82" width="1.1" height="1.0" fill="#262626" fill-opacity="0.85"/>
<line x1="486.40" y1="517.00" x2="486.40" y2="484.36" stroke="#76a3d4" stroke-width="1.0"/>
<path d="M479.60,517.20 Q484.40,515.20 485.40,509.80 L487.40,509.80 Q488.40,515.20 493.20,517.20 Z" fill="#78a3cf" stroke="#2f6aa8" stroke-width="0.6"/>
<rect x="480.10" y="515.70" width="12.60" height="1.80" fill="#6e9ccb"/>
<rect x="488.37" y="498.94" width="1.1" height="1.0" fill="#245f9e" fill-opacity="0.85"/>
<rect x="490.59" y="489.65" width="1.1" height="1.0" fill="#245f9e" fill-opacity="0.85"/>
<rect x="484.46" y="496.93" width="1.1" height="1.0" fill="#245f9e" fill-opacity="0.85"/>
<rect x="483.23" y="492.23" width="1.1" height="1.0" fill="#245f9e" fill-opacity="0.85"/>
<rect x="490.20" y="489.80" width="1.1" height="1.0" fill="#245f9e" fill-opacity="0.85"/>
<rect x="483.64" y="496.43" width="1.1" height="1.0" fill="#245f9e" fill-opacity="0.85"/>
<rect x="489.41" y="498.09" width="1.1" height="1.0" fill="#245f9e" fill-opacity="0.85"/>
<rect x="480.34" y="492.85" width="1.1" height="1.0" fill="#245f9e" fill-opacity="0.85"/>
<rect x="488.22" y="495.12" width="1.1" height="1.0" fill="#245f9e" fill-opacity="0.85"/>
<rect x="490.61" y="488.29" width="1.1" height="1.0" fill="#245f9e" fill-opacity="0.85"/>
<rect x="482.27" y="498.17" width="1.1" height="1.0" fill="#245f9e" fill-opacity="0.85"/>
<rect x="489.75" y="490.44" width="1.1" height="1.0" fill="#245f9e" fill-opacity="0.85"/>
<rect x="491.18" y="495.61" width="1.1" height="1.0" fill="#245f9e" fill-opacity="0.85"/>
<rect x="488.21" y="492.02" width="1.1" height="1.0" fill="#245f9e" fill-opacity="0.85"/>
<rect x="480.38" y="499.86" width="1.1" height="1.0" fill="#245f9e" fill-opacity="0.85"/>
<rect x="489.21" y="494.19" width="1.1" height="1.0" fill="#245f9e" fill-opacity="0.85"/>
<rect x="481.44" y="498.78" width="1.1" height="1.0" fill="#245f9e" fill-opacity="0.85"/>
<rect x="491.78" y="498.06" width="1.1" height="1.0" fill="#245f9e" fill-opacity="0.85"/>
<rect x="481.92" y="495.85" width="1.1" height="1.0" fill="#245f9e" fill-opacity="0.85"/>
<rect x="490.45" y="496.71" width="1.1" height="1.0" fill="#245f9e" fill-opacity="0.85"/>
<rect x="485.73" y="506.28" width="1.1" height="1.0" fill="#245f9e" fill-opacity="0.85"/>
<rect x="484.45" y="493.05" width="1.1" height="1.0" fill="#245f9e" fill-opacity="0.85"/>
<rect x="491.19" y="492.00" width="1.1" height="1.0" fill="#245f9e" fill-opacity="0.85"/>
<rect x="489.20" y="497.62" width="1.1" height="1.0" fill="#245f9e" fill-opacity="0.85"/>
<rect x="491.34" y="487.99" width="1.1" height="1.0" fill="#245f9e" fill-opacity="0.85"/>
<rect x="481.35" y="487.54" width="1.1" height="1.0" fill="#245f9e" fill-opacity="0.85"/>
<rect x="482.93" y="502.36" width="1.1" height="1.0" fill="#245f9e" fill-opacity="0.85"/>
<rect x="488.74" y="497.79" width="1.1" height="1.0" fill="#245f9e" fill-opacity="0.85"/>
<rect x="489.61" y="486.75" width="1.1" height="1.0" fill="#245f9e" fill-opacity="0.85"/>
<rect x="484.87" y="501.37" width="1.1" height="1.0" fill="#245f9e" fill-opacity="0.85"/>
<rect x="483.79" y="502.69" width="1.1" height="1.0" fill="#245f9e" fill-opacity="0.85"/>
<rect x="488.95" y="504.70" width="1.1" height="1.0" fill="#245f9e" fill-opacity="0.85"/>
<rect x="484.15" y="506.88" width="1.1" height="1.0" fill="#245f9e" fill-opacity="0.85"/>
<rect x="486.45" y="491.76" width="1.1" height="1.0" fill="#245f9e" fill-opacity="0.85"/>
<rect x="485.76" y="499.21" width="1.1" height="1.0" fill="#245f9e" fill-opacity="0.85"/>
<rect x="488.73" y="495.49" width="1.1" height="1.0" fill="#245f9e" fill-opacity="0.85"/>
<rect x="489.41" y="505.21" width="1.1" height="1.0" fill="#245f9e" fill-opacity="0.85"/>
<rect x="481.37" y="505.22" width="1.1" height="1.0" fill="#245f9e" fill-opacity="0.85"/>
<rect x="480.11" y="502.14" width="1.1" height="1.0" fill="#245f9e" fill-opacity="0.85"/>
<rect x="491.23" y="496.35" width="1.1" height="1.0" fill="#245f9e" fill-opacity="0.85"/>
<rect x="487.39" y="499.33" width="1.1" height="1.0" fill="#245f9e" fill-opacity="0.85"/>
<rect x="487.83" y="499.97" width="1.1" height="1.0" fill="#245f9e" fill-opacity="0.85"/>
<rect x="486.77" y="494.99" width="1.1" height="1.0" fill="#245f9e" fill-opacity="0.85"/>
<rect x="486.11" y="507.36" width="1.1" height="1.0" fill="#245f9e" fill-opacity="0.85"/>
<rect x="480.26" y="499.82" width="1.1" height="1.0" fill="#245f9e" fill-opacity="0.85"/>
<rect x="488.78" y="498.00" width="1.1" height="1.0" fill="#245f9e" fill-opacity="0.85"/>
<rect x="484.14" y="496.77" width="1.1" height="1.0" fill="#245f9e" fill-opacity="0.85"/>
<rect x="482.69" y="498.60" width="1.1" height="1.0" fill="#245f9e" fill-opacity="0.85"/>
<rect x="484.71" y="490.21" width="1.1" height="1.0" fill="#245f9e" fill-opacity="0.85"/>
<rect x="483.70" y="491.07" width="1.1" height="1.0" fill="#245f9e" fill-opacity="0.85"/>
<rect x="483.22" y="497.14" width="1.1" height="1.0" fill="#245f9e" fill-opacity="0.85"/>
<rect x="486.66" y="505.86" width="1.1" height="1.0" fill="#245f9e" fill-opacity="0.85"/>
<rect x="483.08" y="496.74" width="1.1" height="1.0" fill="#245f9e" fill-opacity="0.85"/>
<rect x="483.46" y="492.32" width="1.1" height="1.0" fill="#245f9e" fill-opacity="0.85"/>
<rect x="490.70" y="495.88" width="1.1" height="1.0" fill="#245f9e" fill-opacity="0.85"/>
<rect x="485.85" y="495.22" width="1.1" height="1.0" fill="#245f9e" fill-opacity="0.85"/>
<rect x="491.07" y="497.53" width="1.1" height="1.0" fill="#245f9e" fill-opacity="0.85"/>
<rect x="481.10" y="490.28" width="1.1" height="1.0" fill="#245f9e" fill-opacity="0.85"/>
<rect x="480.16" y="493.50" width="1.1" height="1.0" fill="#245f9e" fill-opacity="0.85"/>
<rect x="491.59" y="499.81" width="1.1" height="1.0" fill="#245f9e" fill-opacity="0.85"/>
<rect x="480.95" y="498.32" width="1.1" height="1.0" fill="#245f9e" fill-opacity="0.85"/>
<rect x="481.47" y="484.40" width="1.1" height="1.0" fill="#245f9e" fill-opacity="0.85"/>
<rect x="489.30" y="497.73" width="1.1" height="1.0" fill="#245f9e" fill-opacity="0.85"/>
<rect x="484.98" y="499.26" width="1.1" height="1.0" fill="#245f9e" fill-opacity="0.85"/>
<rect x="487.79" y="491.05" width="1.1" height="1.0" fill="#245f9e" fill-opacity="0.85"/>
<rect x="483.73" y="497.88" width="1.1" height="1.0" fill="#245f9e" fill-opacity="0.85"/>
<rect x="483.40" y="500.22" width="1.1" height="1.0" fill="#245f9e" fill-opacity="0.85"/>
<rect x="486.89" y="491.02" width="1.1" height="1.0" fill="#245f9e" fill-opacity="0.85"/>
<rect x="481.72" y="499.45" width="1.1" height="1.0" fill="#245f9e" fill-opacity="0.85"/>
<rect x="483.68" y="490.58" width="1.1" height="1.0" fill="#245f9e" fill-opacity="0.85"/>
<rect x="491.81" y="499.46" width="1.1" height="1.0" fill="#245f9e" fill-opacity="0.85"/>
<rect x="491.66" y="491.22" width="1.1" height="1.0" fill="#245f9e" fill-opacity="0.85"/>
<rect x="489.58" y="504.12" width="1.1" height="1.0" fill="#245f9e" fill-opacity="0.85"/>
<rect x="490.19" y="494.70" width="1.1" height="1.0" fill="#245f9e" fill-opacity="0.85"/>
<rect x="487.70" y="498.86" width="1.1" height="1.0" fill="#245f9e" fill-opacity="0.85"/>
<rect x="484.65" y="498.52" width="1.1" height="1.0" fill="#245f9e" fill-opacity="0.85"/>
<rect x="488.64" y="494.41" width="1.1" height="1.0" fill="#245f9e" fill-opacity="0.85"/>
<rect x="482.89" y="494.03" width="1.1" height="1.0" fill="#245f9e" fill-opacity="0.85"/>
<rect x="483.66" y="497.58" width="1.1" height="1.0" fill="#245f9e" fill-opacity="0.85"/>
<rect x="486.27" y="491.14" width="1.1" height="1.0" fill="#245f9e" fill-opacity="0.85"/>
<rect x="488.01" y="495.86" width="1.1" height="1.0" fill="#245f9e" fill-opacity="0.85"/>
<rect x="480.83" y="493.16" width="1.1" height="1.0" fill="#245f9e" fill-opacity="0.85"/>
<rect x="481.29" y="487.46" width="1.1" height="1.0" fill="#245f9e" fill-opacity="0.85"/>
<rect x="487.24" y="506.00" width="1.1" height="1.0" fill="#245f9e" fill-opacity="0.85"/>
<rect x="491.40" y="494.37" width="1.1" height="1.0" fill="#245f9e" fill-opacity="0.85"/>
<rect x="484.21" y="499.31" width="1.1" height="1.0" fill="#245f9e" fill-opacity="0.85"/>
<rect x="483.46" y="494.78" width="1.1" height="1.0" fill="#245f9e" fill-opacity="0.85"/>
<rect x="483.39" y="495.81" width="1.1" height="1.0" fill="#245f9e" fill-opacity="0.85"/>
<rect x="489.58" y="500.10" width="1.1" height="1.0" fill="#245f9e" fill-opacity="0.85"/>
<rect x="487.17" y="502.11" width="1.1" height="1.0" fill="#245f9e" fill-opacity="0.85"/>
<rect x="490.17" y="497.43" width="1.1" height="1.0" fill="#245f9e" fill-opacity="0.85"/>
<rect x="483.65" y="494.74" width="1.1" height="1.0" fill="#245f9e" fill-opacity="0.85"/>
<rect x="482.81" y="494.94" width="1.1" height="1.0" fill="#245f9e" fill-opacity="0.85"/>
<rect x="490.72" y="497.61" width="1.1" height="1.0" fill="#245f9e" fill-opacity="0.85"/>
<rect x="488.40" y="496.06" width="1.1" height="1.0" fill="#245f9e" fill-opacity="0.85"/>
<rect x="489.81" y="498.68" width="1.1" height="1.0" fill="#245f9e" fill-opacity="0.85"/>
<rect x="482.86" y="498.71" width="1.1" height="1.0" fill="#245f9e" fill-opacity="0.85"/>
<rect x="485.32" y="504.66" width="1.1" height="1.0" fill="#245f9e" fill-opacity="0.85"/>
<rect x="480.20" y="493.89" width="1.1" height="1.0" fill="#245f9e" fill-opacity="0.85"/>
<rect x="482.18" y="503.70" width="1.1" height="1.0" fill="#245f9e" fill-opacity="0.85"/>
<rect x="483.76" y="497.46" width="1.1" height="1.0" fill="#245f9e" fill-opacity="0.85"/>
<rect x="481.62" y="493.64" width="1.1" height="1.0" fill="#245f9e" fill-opacity="0.85"/>
<rect x="491.66" y="492.99" width="1.1" height="1.0" fill="#245f9e" fill-opacity="0.85"/>
<rect x="489.77" y="498.90" width="1.1" height="1.0" fill="#245f9e" fill-opacity="0.85"/>
<rect x="490.51" y="497.69" width="1.1" height="1.0" fill="#245f9e" fill-opacity="0.85"/>
<rect x="484.32" y="493.06" width="1.1" height="1.0" fill="#245f9e" fill-opacity="0.85"/>
<rect x="486.12" y="499.24" width="1.1" height="1.0" fill="#245f9e" fill-opacity="0.85"/>
<rect x="488.26" y="504.49" width="1.1" height="1.0" fill="#245f9e" fill-opacity="0.85"/>
<rect x="481.95" y="500.77" width="1.1" height="1.0" fill="#245f9e" fill-opacity="0.85"/>
<rect x="489.84" y="501.69" width="1.1" height="1.0" fill="#245f9e" fill-opacity="0.85"/>
<rect x="485.11" y="496.69" width="1.1" height="1.0" fill="#245f9e" fill-opacity="0.85"/>
<rect x="482.46" y="498.58" width="1.1" height="1.0" fill="#245f9e" fill-opacity="0.85"/>
<rect x="483.09" y="501.08" width="1.1" height="1.0" fill="#245f9e" fill-opacity="0.85"/>
<rect x="481.88" y="496.66" width="1.1" height="1.0" fill="#245f9e" fill-opacity="0.85"/>
<rect x="480.28" y="496.35" width="1.1" height="1.0" fill="#245f9e" fill-opacity="0.85"/>
<rect x="486.69" y="501.68" width="1.1" height="1.0" fill="#245f9e" fill-opacity="0.85"/>
<rect x="491.10" y="490.97" width="1.1" height="1.0" fill="#245f9e" fill-opacity="0.85"/>
<rect x="487.59" y="496.95" width="1.1" height="1.0" fill="#245f9e" fill-opacity="0.85"/>
<rect x="481.09" y="496.73" width="1.1" height="1.0" fill="#245f9e" fill-opacity="0.85"/>
<rect x="488.08" y="500.19" width="1.1" height="1.0" fill="#245f9e" fill-opacity="0.85"/>
<rect x="479.96" y="495.47" width="1.1" height="1.0" fill="#245f9e" fill-opacity="0.85"/>
<rect x="490.93" y="489.14" width="1.1" height="1.0" fill="#245f9e" fill-opacity="0.85"/>
<rect x="489.78" y="507.22" width="1.1" height="1.0" fill="#245f9e" fill-opacity="0.85"/>
<rect x="490.25" y="489.96" width="1.1" height="1.0" fill="#245f9e" fill-opacity="0.85"/>
<rect x="488.65" y="494.56" width="1.1" height="1.0" fill="#245f9e" fill-opacity="0.85"/>
<rect x="482.47" y="497.09" width="1.1" height="1.0" fill="#245f9e" fill-opacity="0.85"/>
<rect x="485.30" y="485.38" width="1.1" height="1.0" fill="#245f9e" fill-opacity="0.85"/>
<rect x="487.26" y="499.17" width="1.1" height="1.0" fill="#245f9e" fill-opacity="0.85"/>
<rect x="484.12" y="496.30" width="1.1" height="1.0" fill="#245f9e" fill-opacity="0.85"/>
<rect x="483.63" y="492.06" width="1.1" height="1.0" fill="#245f9e" fill-opacity="0.85"/>
<rect x="488.26" y="500.86" width="1.1" height="1.0" fill="#245f9e" fill-opacity="0.85"/>
<rect x="479.99" y="508.24" width="1.1" height="1.0" fill="#245f9e" fill-opacity="0.85"/>
<rect x="483.65" y="496.38" width="1.1" height="1.0" fill="#245f9e" fill-opacity="0.85"/>
<rect x="482.38" y="501.60" width="1.1" height="1.0" fill="#245f9e" fill-opacity="0.85"/>
<rect x="485.64" y="491.44" width="1.1" height="1.0" fill="#245f9e" fill-opacity="0.85"/>
<rect x="489.35" y="484.17" width="1.1" height="1.0" fill="#245f9e" fill-opacity="0.85"/>
<rect x="487.97" y="486.72" width="1.1" height="1.0" fill="#245f9e" fill-opacity="0.85"/>
<rect x="490.66" y="495.02" width="1.1" height="1.0" fill="#245f9e" fill-opacity="0.85"/>
<rect x="483.69" y="502.14" width="1.1" height="1.0" fill="#245f9e" fill-opacity="0.85"/>
<rect x="489.70" y="504.74" width="1.1" height="1.0" fill="#245f9e" fill-opacity="0.85"/>
<rect x="485.44" y="491.75" width="1.1" height="1.0" fill="#245f9e" fill-opacity="0.85"/>
<rect x="488.95" y="496.58" width="1.1" height="1.0" fill="#245f9e" fill-opacity="0.85"/>
<rect x="481.50" y="488.32" width="1.1" height="1.0" fill="#245f9e" fill-opacity="0.85"/>
<rect x="480.18" y="500.25" width="1.1" height="1.0" fill="#245f9e" fill-opacity="0.85"/>
<rect x="488.89" y="501.73" width="1.1" height="1.0" fill="#245f9e" fill-opacity="0.85"/>
<rect x="486.19" y="494.70" width="1.1" height="1.0" fill="#245f9e" fill-opacity="0.85"/>
<rect x="480.80" y="500.57" width="1.1" height="1.0" fill="#245f9e" fill-opacity="0.85"/>
<rect x="484.25" y="498.34" width="1.1" height="1.0" fill="#245f9e" fill-opacity="0.85"/>
<rect x="489.28" y="503.15" width="1.1" height="1.0" fill="#245f9e" fill-opacity="0.85"/>
<rect x="487.26" y="496.04" width="1.1" height="1.0" fill="#245f9e" fill-opacity="0.85"/>
<rect x="487.34" y="495.64" width="1.1" height="1.0" fill="#245f9e" fill-opacity="0.85"/>
<rect x="483.90" y="501.95" width="1.1" height="1.0" fill="#245f9e" fill-opacity="0.85"/>
<rect x="482.66" y="500.33" width="1.1" height="1.0" fill="#245f9e" fill-opacity="0.85"/>
<rect x="486.52" y="504.85" width="1.1" height="1.0" fill="#245f9e" fill-opacity="0.85"/>
<rect x="482.29" y="503.43" width="1.1" height="1.0" fill="#245f9e" fill-opacity="0.85"/>
<rect x="487.15" y="492.46" width="1.1" height="1.0" fill="#245f9e" fill-opacity="0.85"/>
<rect x="481.67" y="491.31" width="1.1" height="1.0" fill="#245f9e" fill-opacity="0.85"/>
<rect x="484.47" y="486.49" width="1.1" height="1.0" fill="#245f9e" fill-opacity="0.85"/>
<rect x="490.73" y="504.07" width="1.1" height="1.0" fill="#245f9e" fill-opacity="0.85"/>
<rect x="480.87" y="500.53" width="1.1" height="1.0" fill="#245f9e" fill-opacity="0.85"/>
<rect x="489.81" y="492.36" width="1.1" height="1.0" fill="#245f9e" fill-opacity="0.85"/>
<rect x="491.84" y="491.36" width="1.1" height="1.0" fill="#245f9e" fill-opacity="0.85"/>
<rect x="491.27" y="490.59" width="1.1" height="1.0" fill="#245f9e" fill-opacity="0.85"/>
<rect x="488.52" y="499.39" width="1.1" height="1.0" fill="#245f9e" fill-opacity="0.85"/>
<rect x="489.99" y="490.20" width="1.1" height="1.0" fill="#245f9e" fill-opacity="0.85"/>
<rect x="485.95" y="502.86" width="1.1" height="1.0" fill="#245f9e" fill-opacity="0.85"/>
<rect x="491.83" y="500.02" width="1.1" height="1.0" fill="#245f9e" fill-opacity="0.85"/>
<rect x="491.77" y="497.54" width="1.1" height="1.0" fill="#245f9e" fill-opacity="0.85"/>
<rect x="491.26" y="487.02" width="1.1" height="1.0" fill="#245f9e" fill-opacity="0.85"/>
<rect x="488.89" y="496.27" width="1.1" height="1.0" fill="#245f9e" fill-opacity="0.85"/>
<rect x="487.86" y="486.08" width="1.1" height="1.0" fill="#245f9e" fill-opacity="0.85"/>
<rect x="479.97" y="500.97" width="1.1" height="1.0" fill="#245f9e" fill-opacity="0.85"/>
<rect x="486.89" y="495.33" width="1.1" height="1.0" fill="#245f9e" fill-opacity="0.85"/>
<rect x="480.32" y="498.08" width="1.1" height="1.0" fill="#245f9e" fill-opacity="0.85"/>
<rect x="490.37" y="491.01" width="1.1" height="1.0" fill="#245f9e" fill-opacity="0.85"/>
<rect x="490.04" y="497.85" width="1.1" height="1.0" fill="#245f9e" fill-opacity="0.85"/>
<rect x="491.36" y="494.41" width="1.1" height="1.0" fill="#245f9e" fill-opacity="0.85"/>
<rect x="488.65" y="487.83" width="1.1" height="1.0" fill="#245f9e" fill-opacity="0.85"/>
<rect x="482.94" y="497.52" width="1.1" height="1.0" fill="#245f9e" fill-opacity="0.85"/>
<rect x="489.92" y="496.68" width="1.1" height="1.0" fill="#245f9e" fill-opacity="0.85"/>
<rect x="480.70" y="497.85" width="1.1" height="1.0" fill="#245f9e" fill-opacity="0.85"/>
<rect x="486.49" y="501.19" width="1.1" height="1.0" fill="#245f9e" fill-opacity="0.85"/>
<rect x="481.90" y="499.52" width="1.1" height="1.0" fill="#245f9e" fill-opacity="0.85"/>
<rect x="490.71" y="492.86" width="1.1" height="1.0" fill="#245f9e" fill-opacity="0.85"/>
<rect x="489.70" y="494.47" width="1.1" height="1.0" fill="#245f9e" fill-opacity="0.85"/>
<rect x="489.30" y="492.35" width="1.1" height="1.0" fill="#245f9e" fill-opacity="0.85"/>
<rect x="488.30" y="501.02" width="1.1" height="1.0" fill="#245f9e" fill-opacity="0.85"/>
<rect x="489.67" y="500.69" width="1.1" height="1.0" fill="#245f9e" fill-opacity="0.85"/>
<rect x="490.67" y="486.93" width="1.1" height="1.0" fill="#245f9e" fill-opacity="0.85"/>
<rect x="484.37" y="495.65" width="1.1" height="1.0" fill="#245f9e" fill-opacity="0.85"/>
<rect x="491.62" y="494.50" width="1.1" height="1.0" fill="#245f9e" fill-opacity="0.85"/>
<rect x="491.25" y="503.66" width="1.1" height="1.0" fill="#245f9e" fill-opacity="0.85"/>
<rect x="485.69" y="493.86" width="1.1" height="1.0" fill="#245f9e" fill-opacity="0.85"/>
<rect x="489.68" y="503.04" width="1.1" height="1.0" fill="#245f9e" fill-opacity="0.85"/>
<rect x="483.30" y="502.82" width="1.1" height="1.0" fill="#245f9e" fill-opacity="0.85"/>
<rect x="490.73" y="504.50" width="1.1" height="1.0" fill="#245f9e" fill-opacity="0.85"/>
<rect x="482.06" y="488.42" width="1.1" height="1.0" fill="#245f9e" fill-opacity="0.85"/>
<rect x="486.62" y="493.41" width="1.1" height="1.0" fill="#245f9e" fill-opacity="0.85"/>
<rect x="480.36" y="496.66" width="1.1" height="1.0" fill="#245f9e" fill-opacity="0.85"/>
<rect x="488.49" y="500.47" width="1.1" height="1.0" fill="#245f9e" fill-opacity="0.85"/>
<rect x="480.44" y="496.31" width="1.1" height="1.0" fill="#245f9e" fill-opacity="0.85"/>
<rect x="487.00" y="494.37" width="1.1" height="1.0" fill="#245f9e" fill-opacity="0.85"/>
<rect x="484.49" y="508.29" width="1.1" height="1.0" fill="#245f9e" fill-opacity="0.85"/>
<rect x="490.25" y="506.01" width="1.1" height="1.0" fill="#245f9e" fill-opacity="0.85"/>
<rect x="486.28" y="499.42" width="1.1" height="1.0" fill="#245f9e" fill-opacity="0.85"/>
<rect x="484.38" y="495.61" width="1.1" height="1.0" fill="#245f9e" fill-opacity="0.85"/>
<rect x="484.27" y="485.25" width="1.1" height="1.0" fill="#245f9e" fill-opacity="0.85"/>
<rect x="482.92" y="490.05" width="1.1" height="1.0" fill="#245f9e" fill-opacity="0.85"/>
<rect x="490.46" y="487.23" width="1.1" height="1.0" fill="#245f9e" fill-opacity="0.85"/>
<rect x="482.05" y="497.33" width="1.1" height="1.0" fill="#245f9e" fill-opacity="0.85"/>
<rect x="487.78" y="500.73" width="1.1" height="1.0" fill="#245f9e" fill-opacity="0.85"/>
<rect x="488.86" y="500.52" width="1.1" height="1.0" fill="#245f9e" fill-opacity="0.85"/>
<rect x="480.51" y="502.92" width="1.1" height="1.0" fill="#245f9e" fill-opacity="0.85"/>
<rect x="484.43" y="484.86" width="1.1" height="1.0" fill="#245f9e" fill-opacity="0.85"/>
<rect x="485.69" y="490.28" width="1.1" height="1.0" fill="#245f9e" fill-opacity="0.85"/>
<rect x="485.64" y="499.70" width="1.1" height="1.0" fill="#245f9e" fill-opacity="0.85"/>
<rect x="488.61" y="497.15" width="1.1" height="1.0" fill="#245f9e" fill-opacity="0.85"/>
<rect x="484.67" y="496.91" width="1.1" height="1.0" fill="#245f9e" fill-opacity="0.85"/>
<rect x="481.51" y="497.18" width="1.1" height="1.0" fill="#245f9e" fill-opacity="0.85"/>
<rect x="491.04" y="490.91" width="1.1" height="1.0" fill="#245f9e" fill-opacity="0.85"/>
<rect x="480.20" y="498.29" width="1.1" height="1.0" fill="#245f9e" fill-opacity="0.85"/>
<rect x="487.38" y="499.95" width="1.1" height="1.0" fill="#245f9e" fill-opacity="0.85"/>
<rect x="486.93" y="495.24" width="1.1" height="1.0" fill="#245f9e" fill-opacity="0.85"/>
<rect x="490.23" y="498.78" width="1.1" height="1.0" fill="#245f9e" fill-opacity="0.85"/>
<rect x="485.99" y="494.25" width="1.1" height="1.0" fill="#245f9e" fill-opacity="0.85"/>
<rect x="481.06" y="489.86" width="1.1" height="1.0" fill="#245f9e" fill-opacity="0.85"/>
<rect x="490.16" y="497.86" width="1.1" height="1.0" fill="#245f9e" fill-opacity="0.85"/>
<rect x="483.15" y="499.77" width="1.1" height="1.0" fill="#245f9e" fill-opacity="0.85"/>
<rect x="486.23" y="496.58" width="1.1" height="1.0" fill="#245f9e" fill-opacity="0.85"/>
<rect x="489.90" y="489.22" width="1.1" height="1.0" fill="#245f9e" fill-opacity="0.85"/>
<rect x="480.57" y="497.59" width="1.1" height="1.0" fill="#245f9e" fill-opacity="0.85"/>
<rect x="486.09" y="491.16" width="1.1" height="1.0" fill="#245f9e" fill-opacity="0.85"/>
<rect x="486.74" y="494.43" width="1.1" height="1.0" fill="#245f9e" fill-opacity="0.85"/>
<rect x="490.85" y="502.17" width="1.1" height="1.0" fill="#245f9e" fill-opacity="0.85"/>
<rect x="485.29" y="499.35" width="1.1" height="1.0" fill="#245f9e" fill-opacity="0.85"/>
<rect x="484.26" y="494.93" width="1.1" height="1.0" fill="#245f9e" fill-opacity="0.85"/>
<rect x="479.99" y="487.63" width="1.1" height="1.0" fill="#245f9e" fill-opacity="0.85"/>
<rect x="483.06" y="495.30" width="1.1" height="1.0" fill="#245f9e" fill-opacity="0.85"/>
<rect x="481.31" y="491.26" width="1.1" height="1.0" fill="#245f9e" fill-opacity="0.85"/>
<rect x="485.51" y="505.69" width="1.1" height="1.0" fill="#245f9e" fill-opacity="0.85"/>
<rect x="490.99" y="491.84" width="1.1" height="1.0" fill="#245f9e" fill-opacity="0.85"/>
<rect x="485.34" y="487.60" width="1.1" height="1.0" fill="#245f9e" fill-opacity="0.85"/>
<rect x="486.59" y="495.49" width="1.1" height="1.0" fill="#245f9e" fill-opacity="0.85"/>
<rect x="491.89" y="491.33" width="1.1" height="1.0" fill="#245f9e" fill-opacity="0.85"/>
<rect x="491.60" y="484.43" width="1.1" height="1.0" fill="#245f9e" fill-opacity="0.85"/>
<rect x="487.44" y="491.60" width="1.1" height="1.0" fill="#245f9e" fill-opacity="0.85"/>
<rect x="488.53" y="491.77" width="1.1" height="1.0" fill="#245f9e" fill-opacity="0.85"/>
<rect x="480.90" y="494.06" width="1.1" height="1.0" fill="#245f9e" fill-opacity="0.85"/>
<rect x="480.26" y="502.01" width="1.1" height="1.0" fill="#245f9e" fill-opacity="0.85"/>
<rect x="487.47" y="500.50" width="1.1" height="1.0" fill="#245f9e" fill-opacity="0.85"/>
<rect x="481.97" y="497.21" width="1.1" height="1.0" fill="#245f9e" fill-opacity="0.85"/>
<rect x="483.35" y="499.59" width="1.1" height="1.0" fill="#245f9e" fill-opacity="0.85"/>
<rect x="484.35" y="491.57" width="1.1" height="1.0" fill="#245f9e" fill-opacity="0.85"/>
<rect x="481.76" y="495.95" width="1.1" height="1.0" fill="#245f9e" fill-opacity="0.85"/>
<rect x="483.68" y="501.64" width="1.1" height="1.0" fill="#245f9e" fill-opacity="0.85"/>
<rect x="488.65" y="503.98" width="1.1" height="1.0" fill="#245f9e" fill-opacity="0.85"/>
<rect x="490.53" y="490.91" width="1.1" height="1.0" fill="#245f9e" fill-opacity="0.85"/>
<rect x="487.78" y="491.36" width="1.1" height="1.0" fill="#245f9e" fill-opacity="0.85"/>
<rect x="488.86" y="494.78" width="1.1" height="1.0" fill="#245f9e" fill-opacity="0.85"/>
<rect x="490.90" y="496.10" width="1.1" height="1.0" fill="#245f9e" fill-opacity="0.85"/>
<rect x="487.83" y="500.39" width="1.1" height="1.0" fill="#245f9e" fill-opacity="0.85"/>
<rect x="490.84" y="500.30" width="1.1" height="1.0" fill="#245f9e" fill-opacity="0.85"/>
<rect x="489.13" y="504.24" width="1.1" height="1.0" fill="#245f9e" fill-opacity="0.85"/>
<rect x="480.46" y="500.55" width="1.1" height="1.0" fill="#245f9e" fill-opacity="0.85"/>
<rect x="480.54" y="500.82" width="1.1" height="1.0" fill="#245f9e" fill-opacity="0.85"/>
<rect x="480.51" y="496.62" width="1.1" height="1.0" fill="#245f9e" fill-opacity="0.85"/>
<rect x="484.66" y="504.33" width="1.1" height="1.0" fill="#245f9e" fill-opacity="0.85"/>
<rect x="483.28" y="487.68" width="1.1" height="1.0" fill="#245f9e" fill-opacity="0.85"/>
<rect x="491.85" y="502.59" width="1.1" height="1.0" fill="#245f9e" fill-opacity="0.85"/>
<rect x="485.76" y="500.85" width="1.1" height="1.0" fill="#245f9e" fill-opacity="0.85"/>
<rect x="485.69" y="493.84" width="1.1" height="1.0" fill="#245f9e" fill-opacity="0.85"/>
<rect x="488.26" y="500.20" width="1.1" height="1.0" fill="#245f9e" fill-opacity="0.85"/>
<rect x="483.35" y="491.72" width="1.1" height="1.0" fill="#245f9e" fill-opacity="0.85"/>
<rect x="488.44" y="508.95" width="1.1" height="1.0" fill="#245f9e" fill-opacity="0.85"/>
<rect x="490.84" y="503.70" width="1.1" height="1.0" fill="#245f9e" fill-opacity="0.85"/>
<rect x="485.23" y="492.17" width="1.1" height="1.0" fill="#245f9e" fill-opacity="0.85"/>
<rect x="485.23" y="494.58" width="1.1" height="1.0" fill="#245f9e" fill-opacity="0.85"/>
<rect x="482.38" y="495.04" width="1.1" height="1.0" fill="#245f9e" fill-opacity="0.85"/>
<rect x="488.67" y="494.35" width="1.1" height="1.0" fill="#245f9e" fill-opacity="0.85"/>
<rect x="484.54" y="494.20" width="1.1" height="1.0" fill="#245f9e" fill-opacity="0.85"/>
<rect x="486.11" y="502.61" width="1.1" height="1.0" fill="#245f9e" fill-opacity="0.85"/>
<rect x="484.50" y="506.66" width="1.1" height="1.0" fill="#245f9e" fill-opacity="0.85"/>
<rect x="485.71" y="495.67" width="1.1" height="1.0" fill="#245f9e" fill-opacity="0.85"/>
<rect x="486.06" y="496.15" width="1.1" height="1.0" fill="#245f9e" fill-opacity="0.85"/>
<rect x="488.54" y="496.24" width="1.1" height="1.0" fill="#245f9e" fill-opacity="0.85"/>
<rect x="490.22" y="496.14" width="1.1" height="1.0" fill="#245f9e" fill-opacity="0.85"/>
<rect x="485.60" y="489.28" width="1.1" height="1.0" fill="#245f9e" fill-opacity="0.85"/>
<rect x="481.13" y="491.44" width="1.1" height="1.0" fill="#245f9e" fill-opacity="0.85"/>
<rect x="491.50" y="488.89" width="1.1" height="1.0" fill="#245f9e" fill-opacity="0.85"/>
<rect x="486.01" y="489.80" width="1.1" height="1.0" fill="#245f9e" fill-opacity="0.85"/>
<rect x="486.71" y="499.01" width="1.1" height="1.0" fill="#245f9e" fill-opacity="0.85"/>
<rect x="485.20" y="500.09" width="1.1" height="1.0" fill="#245f9e" fill-opacity="0.85"/>
<rect x="489.62" y="493.40" width="1.1" height="1.0" fill="#245f9e" fill-opacity="0.85"/>
<rect x="487.93" y="500.74" width="1.1" height="1.0" fill="#245f9e" fill-opacity="0.85"/>
<rect x="491.08" y="503.27" width="1.1" height="1.0" fill="#245f9e" fill-opacity="0.85"/>
<rect x="483.70" y="490.82" width="1.1" height="1.0" fill="#245f9e" fill-opacity="0.85"/>
<rect x="480.42" y="493.79" width="1.1" height="1.0" fill="#245f9e" fill-opacity="0.85"/>
<rect x="488.76" y="499.02" width="1.1" height="1.0" fill="#245f9e" fill-opacity="0.85"/>
<rect x="488.22" y="498.28" width="1.1" height="1.0" fill="#245f9e" fill-opacity="0.85"/>
<rect x="487.60" y="502.32" width="1.1" height="1.0" fill="#245f9e" fill-opacity="0.85"/>
<rect x="484.83" y="487.52" width="1.1" height="1.0" fill="#245f9e" fill-opacity="0.85"/>
<rect x="485.80" y="501.38" width="1.1" height="1.0" fill="#245f9e" fill-opacity="0.85"/>
<rect x="487.70" y="496.22" width="1.1" height="1.0" fill="#245f9e" fill-opacity="0.85"/>
<rect x="484.17" y="500.39" width="1.1" height="1.0" fill="#245f9e" fill-opacity="0.85"/>
<rect x="481.99" y="493.25" width="1.1" height="1.0" fill="#245f9e" fill-opacity="0.85"/>
<rect x="491.50" y="496.91" width="1.1" height="1.0" fill="#245f9e" fill-opacity="0.85"/>
<rect x="488.11" y="503.35" width="1.1" height="1.0" fill="#245f9e" fill-opacity="0.85"/>
<rect x="479.92" y="491.29" width="1.1" height="1.0" fill="#245f9e" fill-opacity="0.85"/>
<rect x="482.50" y="499.70" width="1.1" height="1.0" fill="#245f9e" fill-opacity="0.85"/>
<rect x="481.03" y="500.88" width="1.1" height="1.0" fill="#245f9e" fill-opacity="0.85"/>
<rect x="488.56" y="496.99" width="1.1" height="1.0" fill="#245f9e" fill-opacity="0.85"/>
<rect x="489.25" y="500.76" width="1.1" height="1.0" fill="#245f9e" fill-opacity="0.85"/>
<rect x="481.70" y="495.06" width="1.1" height="1.0" fill="#245f9e" fill-opacity="0.85"/>
<rect x="484.47" y="500.53" width="1.1" height="1.0" fill="#245f9e" fill-opacity="0.85"/>
<rect x="486.77" y="497.86" width="1.1" height="1.0" fill="#245f9e" fill-opacity="0.85"/>
<rect x="483.31" y="502.47" width="1.1" height="1.0" fill="#245f9e" fill-opacity="0.85"/>
<rect x="481.83" y="497.73" width="1.1" height="1.0" fill="#245f9e" fill-opacity="0.85"/>
<rect x="481.46" y="495.76" width="1.1" height="1.0" fill="#245f9e" fill-opacity="0.85"/>
<rect x="486.12" y="498.89" width="1.1" height="1.0" fill="#245f9e" fill-opacity="0.85"/>
<rect x="486.74" y="487.63" width="1.1" height="1.0" fill="#245f9e" fill-opacity="0.85"/>
<rect x="480.13" y="500.21" width="1.1" height="1.0" fill="#245f9e" fill-opacity="0.85"/>
<rect x="490.28" y="499.37" width="1.1" height="1.0" fill="#245f9e" fill-opacity="0.85"/>
<rect x="486.69" y="496.12" width="1.1" height="1.0" fill="#245f9e" fill-opacity="0.85"/>
<rect x="488.33" y="503.52" width="1.1" height="1.0" fill="#245f9e" fill-opacity="0.85"/>
<rect x="488.98" y="496.61" width="1.1" height="1.0" fill="#245f9e" fill-opacity="0.85"/>
<rect x="480.19" y="492.80" width="1.1" height="1.0" fill="#245f9e" fill-opacity="0.85"/>
<rect x="484.99" y="492.42" width="1.1" height="1.0" fill="#245f9e" fill-opacity="0.85"/>
<rect x="485.22" y="497.92" width="1.1" height="1.0" fill="#245f9e" fill-opacity="0.85"/>
<rect x="491.25" y="501.00" width="1.1" height="1.0" fill="#245f9e" fill-opacity="0.85"/>
<rect x="485.59" y="502.40" width="1.1" height="1.0" fill="#245f9e" fill-opacity="0.85"/>
<line x1="501.20" y1="517.00" x2="501.20" y2="491.08" stroke="#e06a80" stroke-width="1.0"/>
<rect x="494.90" y="515.70" width="12.60" height="1.80" fill="#e0707f"/>
<rect x="504.13" y="501.03" width="1.1" height="1.0" fill="#cf1d3d" fill-opacity="0.85"/>
<rect x="506.56" y="493.75" width="1.1" height="1.0" fill="#cf1d3d" fill-opacity="0.85"/>
<rect x="497.45" y="492.97" width="1.1" height="1.0" fill="#cf1d3d" fill-opacity="0.85"/>
<rect x="501.38" y="498.77" width="1.1" height="1.0" fill="#cf1d3d" fill-opacity="0.85"/>
<rect x="502.42" y="492.34" width="1.1" height="1.0" fill="#cf1d3d" fill-opacity="0.85"/>
<rect x="496.39" y="500.12" width="1.1" height="1.0" fill="#cf1d3d" fill-opacity="0.85"/>
<rect x="502.48" y="502.46" width="1.1" height="1.0" fill="#cf1d3d" fill-opacity="0.85"/>
<rect x="496.56" y="497.39" width="1.1" height="1.0" fill="#cf1d3d" fill-opacity="0.85"/>
<line x1="448.60" y1="518.60" x2="448.60" y2="482.30" stroke="#111" stroke-width="1.2"/>
<line x1="448.00" y1="518.10" x2="508.40" y2="518.10" stroke="#111" stroke-width="1.2"/>
<line x1="446.40" y1="517.00" x2="448.60" y2="517.00" stroke="#111" stroke-width="1.0"/>
<text x="444.00" y="520.55" font-size="8.3" text-anchor="end" fill="#111">0</text>
<line x1="446.40" y1="507.40" x2="448.60" y2="507.40" stroke="#111" stroke-width="1.0"/>
<text x="444.00" y="510.95" font-size="8.3" text-anchor="end" fill="#111">1</text>
<line x1="446.40" y1="497.80" x2="448.60" y2="497.80" stroke="#111" stroke-width="1.0"/>
<text x="444.00" y="501.35" font-size="8.3" text-anchor="end" fill="#111">2</text>
<line x1="446.40" y1="488.20" x2="448.60" y2="488.20" stroke="#111" stroke-width="1.0"/>
<text x="444.00" y="491.75" font-size="8.3" text-anchor="end" fill="#111">3</text>
<line x1="457.10" y1="518.10" x2="457.10" y2="520.00" stroke="#111" stroke-width="1.0"/>
<text x="457.10" y="529.35" font-size="8.3" text-anchor="middle" fill="#111">2</text>
<line x1="471.80" y1="518.10" x2="471.80" y2="520.00" stroke="#111" stroke-width="1.0"/>
<text x="471.80" y="529.35" font-size="8.3" text-anchor="middle" fill="#111">3</text>
<line x1="486.40" y1="518.10" x2="486.40" y2="520.00" stroke="#111" stroke-width="1.0"/>
<text x="486.40" y="529.35" font-size="8.3" text-anchor="middle" fill="#111">4</text>
<line x1="501.20" y1="518.10" x2="501.20" y2="520.00" stroke="#111" stroke-width="1.0"/>
<text x="501.20" y="529.35" font-size="8.3" text-anchor="middle" fill="#111">5</text>
<text x="277.70" y="436.92" font-size="10.2" text-anchor="middle" textLength="74.30" lengthAdjust="spacingAndGlyphs" transform="rotate(-90 277.70 433.30)" style="stroke-width:0.35px">Log normalized expression</text>
<text x="403.00" y="542.14" font-size="9.4" text-anchor="middle" textLength="19.60" lengthAdjust="spacingAndGlyphs" style="stroke-width:0.3px">Cluster</text>
<rect x="0" y="0" width="520" height="1" fill="#000"/>
<rect x="0" y="0" width="1.05" height="554" fill="#000"/>
<rect x="518.8" y="0" width="1.2" height="554" fill="#000"/>
<rect x="0" y="552.7" width="520" height="1.3" fill="#000"/>
</svg>
</body></html>
